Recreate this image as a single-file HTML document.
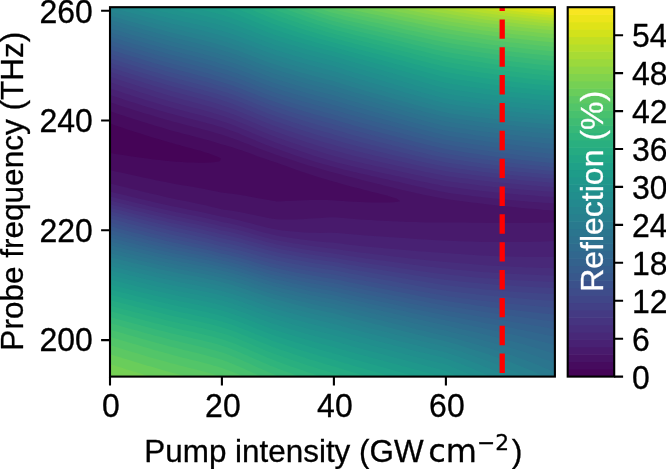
<!DOCTYPE html>
<html lang="en"><head><meta charset="utf-8"><title>Reflection map</title>
<style>html,body{margin:0;padding:0;background:#fff;overflow:hidden}svg{display:block}</style></head>
<body>
<svg width="666" height="469" viewBox="0 0 666 469">
<rect width="666" height="469" fill="#fff"/>
<defs><clipPath id="ac"><rect x="110.0" y="7.2" width="444.9" height="369.4"/></clipPath></defs>
<g clip-path="url(#ac)">
<rect x="110.0" y="7.2" width="444.9" height="369.4" fill="#450457"/>
<path fill="#460b5e" d="M115.5,376.5L121.1,376.5L126.6,376.5L132.2,376.5L137.8,376.5L143.3,376.5L148.9,376.5L154.4,376.5L160.0,376.5L165.6,376.5L171.1,376.5L176.7,376.5L182.2,376.5L187.8,376.5L193.4,376.5L198.9,376.5L204.5,376.5L210.1,376.5L215.6,376.5L221.2,376.5L226.7,376.5L232.3,376.5L237.9,376.5L243.4,376.5L249.0,376.5L254.5,376.5L260.1,376.5L265.7,376.5L271.2,376.5L276.8,376.5L282.3,376.5L287.9,376.5L293.5,376.5L299.0,376.5L304.6,376.5L310.2,376.5L315.7,376.5L321.3,376.5L326.8,376.5L332.4,376.5L338.0,376.5L343.5,376.5L349.1,376.5L354.6,376.5L360.2,376.5L365.8,376.5L371.3,376.5L376.9,376.5L382.5,376.5L388.0,376.5L393.6,376.5L399.1,376.5L404.7,376.5L410.3,376.5L415.8,376.5L421.4,376.5L426.9,376.5L432.5,376.5L438.1,376.5L443.6,376.5L449.2,376.5L454.7,376.5L460.3,376.5L465.9,376.5L471.4,376.5L477.0,376.5L482.6,376.5L488.1,376.5L493.7,376.5L499.2,376.5L504.8,376.5L510.4,376.5L515.9,376.5L521.5,376.5L527.0,376.5L532.6,376.5L538.2,376.5L543.7,376.5L549.3,376.5L554.9,376.5L554.9,373.8L554.9,371.2L554.9,368.5L554.9,365.9L554.9,363.2L554.9,360.6L554.9,357.9L554.9,355.2L554.9,352.6L554.9,349.9L554.9,347.3L554.9,344.6L554.9,342.0L554.9,339.3L554.9,336.6L554.9,334.0L554.9,331.3L554.9,328.7L554.9,326.0L554.9,323.4L554.9,320.7L554.9,318.0L554.9,315.4L554.9,312.7L554.9,310.1L554.9,307.4L554.9,304.8L554.9,302.1L554.9,299.4L554.9,296.8L554.9,294.1L554.9,291.5L554.9,288.8L554.9,286.2L554.9,283.5L554.9,280.8L554.9,278.2L554.9,275.5L554.9,272.9L554.9,270.2L554.9,267.6L554.9,264.9L554.9,262.2L554.9,259.6L554.9,256.9L554.9,254.3L554.9,251.6L554.9,249.0L554.9,246.3L554.9,243.6L554.9,241.0L554.9,238.3L554.9,235.7L554.9,233.0L554.9,230.4L554.9,227.7L554.9,225.0L554.9,222.4L554.9,219.7L554.9,217.1L554.9,214.4L554.9,211.8L554.9,209.1L554.9,206.4L554.9,203.8L554.9,201.1L554.9,198.5L554.9,195.8L554.9,193.2L554.9,190.5L554.9,187.8L554.9,185.2L554.9,182.5L554.9,179.9L554.9,177.2L554.9,174.6L554.9,171.9L554.9,169.2L554.9,166.6L554.9,163.9L554.9,161.3L554.9,158.6L554.9,156.0L554.9,153.3L554.9,150.6L554.9,148.0L554.9,145.3L554.9,142.7L554.9,140.0L554.9,137.4L554.9,134.7L554.9,132.0L554.9,129.4L554.9,126.7L554.9,124.1L554.9,121.4L554.9,118.8L554.9,116.1L554.9,113.4L554.9,110.8L554.9,108.1L554.9,105.5L554.9,102.8L554.9,100.2L554.9,97.5L554.9,94.8L554.9,92.2L554.9,89.5L554.9,86.9L554.9,84.2L554.9,81.6L554.9,78.9L554.9,76.2L554.9,73.6L554.9,70.9L554.9,68.3L554.9,65.6L554.9,63.0L554.9,60.3L554.9,57.6L554.9,55.0L554.9,52.3L554.9,49.7L554.9,47.0L554.9,44.4L554.9,41.7L554.9,39.0L554.9,36.4L554.9,33.7L554.9,31.1L554.9,28.4L554.9,25.8L554.9,23.1L554.9,20.4L554.9,17.8L554.9,15.1L554.9,12.5L554.9,9.8L554.9,7.2L549.3,7.2L543.7,7.2L538.2,7.2L532.6,7.2L527.0,7.2L521.5,7.2L515.9,7.2L510.4,7.2L504.8,7.2L499.2,7.2L493.7,7.2L488.1,7.2L482.6,7.2L477.0,7.2L471.4,7.2L465.9,7.2L460.3,7.2L454.7,7.2L449.2,7.2L443.6,7.2L438.1,7.2L432.5,7.2L426.9,7.2L421.4,7.2L415.8,7.2L410.3,7.2L404.7,7.2L399.1,7.2L393.6,7.2L388.0,7.2L382.5,7.2L376.9,7.2L371.3,7.2L365.8,7.2L360.2,7.2L354.6,7.2L349.1,7.2L343.5,7.2L338.0,7.2L332.4,7.2L326.8,7.2L321.3,7.2L315.7,7.2L310.2,7.2L304.6,7.2L299.0,7.2L293.5,7.2L287.9,7.2L282.3,7.2L276.8,7.2L271.2,7.2L265.7,7.2L260.1,7.2L254.5,7.2L249.0,7.2L243.4,7.2L237.9,7.2L232.3,7.2L226.7,7.2L221.2,7.2L215.6,7.2L210.1,7.2L204.5,7.2L198.9,7.2L193.4,7.2L187.8,7.2L182.2,7.2L176.7,7.2L171.1,7.2L165.6,7.2L160.0,7.2L154.4,7.2L148.9,7.2L143.3,7.2L137.8,7.2L132.2,7.2L126.6,7.2L121.1,7.2L115.5,7.2L110.0,7.2L110.0,9.8L110.0,12.5L110.0,15.1L110.0,17.8L110.0,20.4L110.0,23.1L110.0,25.8L110.0,28.4L110.0,31.1L110.0,33.7L110.0,36.4L110.0,39.0L110.0,41.7L110.0,44.4L110.0,47.0L110.0,49.7L110.0,52.3L110.0,55.0L110.0,57.6L110.0,60.3L110.0,63.0L110.0,65.6L110.0,68.3L110.0,70.9L110.0,73.6L110.0,76.2L110.0,78.9L110.0,81.6L110.0,84.2L110.0,86.9L110.0,89.5L110.0,92.2L110.0,94.8L110.0,97.5L110.0,100.2L110.0,102.8L110.0,105.5L110.0,108.1L110.0,110.8L110.0,113.4L110.0,116.1L110.0,118.8L110.0,121.4L110.0,123.5L111.6,124.1L115.5,125.4L119.3,126.7L121.1,127.3L126.6,129.2L127.1,129.4L132.2,131.0L135.3,132.0L137.8,132.8L143.3,134.6L143.7,134.7L148.9,136.3L152.4,137.4L154.4,138.0L160.0,139.6L161.4,140.0L165.6,141.3L170.6,142.7L171.1,142.8L176.7,144.4L180.3,145.3L182.2,145.9L187.8,147.4L190.2,148.0L193.4,148.9L198.9,150.4L199.8,150.6L204.5,152.2L208.5,153.3L210.1,154.0L215.6,155.9L215.9,156.0L221.1,158.6L219.8,161.3L215.6,162.1L210.1,162.5L204.5,162.7L198.9,162.7L193.4,162.5L187.8,162.4L182.2,162.1L176.7,161.7L171.1,161.3L171.0,161.3L165.6,160.7L160.0,160.1L154.4,159.5L148.9,158.7L148.0,158.6L143.3,158.0L137.8,157.3L132.2,156.4L129.0,156.0L126.6,155.6L121.1,154.8L115.5,153.9L112.1,153.3L110.0,153.0L110.0,153.3L110.0,156.0L110.0,158.6L110.0,161.3L110.0,163.9L110.0,166.6L110.0,169.2L110.0,171.9L110.0,174.6L110.0,177.2L110.0,179.9L110.0,182.5L110.0,185.2L110.0,187.8L110.0,190.5L110.0,193.2L110.0,195.8L110.0,198.5L110.0,201.1L110.0,203.8L110.0,206.4L110.0,209.1L110.0,211.8L110.0,214.4L110.0,217.1L110.0,219.7L110.0,222.4L110.0,225.0L110.0,227.7L110.0,230.4L110.0,233.0L110.0,235.7L110.0,238.3L110.0,241.0L110.0,243.6L110.0,246.3L110.0,249.0L110.0,251.6L110.0,254.3L110.0,256.9L110.0,259.6L110.0,262.2L110.0,264.9L110.0,267.6L110.0,270.2L110.0,272.9L110.0,275.5L110.0,278.2L110.0,280.8L110.0,283.5L110.0,286.2L110.0,288.8L110.0,291.5L110.0,294.1L110.0,296.8L110.0,299.4L110.0,302.1L110.0,304.8L110.0,307.4L110.0,310.1L110.0,312.7L110.0,315.4L110.0,318.0L110.0,320.7L110.0,323.4L110.0,326.0L110.0,328.7L110.0,331.3L110.0,334.0L110.0,336.6L110.0,339.3L110.0,342.0L110.0,344.6L110.0,347.3L110.0,349.9L110.0,352.6L110.0,355.2L110.0,357.9L110.0,360.6L110.0,363.2L110.0,365.9L110.0,368.5L110.0,371.2L110.0,373.8L110.0,376.5L115.5,376.5Z"/>
<path fill="#471365" d="M115.5,376.5L121.1,376.5L126.6,376.5L132.2,376.5L137.8,376.5L143.3,376.5L148.9,376.5L154.4,376.5L160.0,376.5L165.6,376.5L171.1,376.5L176.7,376.5L182.2,376.5L187.8,376.5L193.4,376.5L198.9,376.5L204.5,376.5L210.1,376.5L215.6,376.5L221.2,376.5L226.7,376.5L232.3,376.5L237.9,376.5L243.4,376.5L249.0,376.5L254.5,376.5L260.1,376.5L265.7,376.5L271.2,376.5L276.8,376.5L282.3,376.5L287.9,376.5L293.5,376.5L299.0,376.5L304.6,376.5L310.2,376.5L315.7,376.5L321.3,376.5L326.8,376.5L332.4,376.5L338.0,376.5L343.5,376.5L349.1,376.5L354.6,376.5L360.2,376.5L365.8,376.5L371.3,376.5L376.9,376.5L382.5,376.5L388.0,376.5L393.6,376.5L399.1,376.5L404.7,376.5L410.3,376.5L415.8,376.5L421.4,376.5L426.9,376.5L432.5,376.5L438.1,376.5L443.6,376.5L449.2,376.5L454.7,376.5L460.3,376.5L465.9,376.5L471.4,376.5L477.0,376.5L482.6,376.5L488.1,376.5L493.7,376.5L499.2,376.5L504.8,376.5L510.4,376.5L515.9,376.5L521.5,376.5L527.0,376.5L532.6,376.5L538.2,376.5L543.7,376.5L549.3,376.5L554.9,376.5L554.9,373.8L554.9,371.2L554.9,368.5L554.9,365.9L554.9,363.2L554.9,360.6L554.9,357.9L554.9,355.2L554.9,352.6L554.9,349.9L554.9,347.3L554.9,344.6L554.9,342.0L554.9,339.3L554.9,336.6L554.9,334.0L554.9,331.3L554.9,328.7L554.9,326.0L554.9,323.4L554.9,320.7L554.9,318.0L554.9,315.4L554.9,312.7L554.9,310.1L554.9,307.4L554.9,304.8L554.9,302.1L554.9,299.4L554.9,296.8L554.9,294.1L554.9,291.5L554.9,288.8L554.9,286.2L554.9,283.5L554.9,280.8L554.9,278.2L554.9,275.5L554.9,272.9L554.9,270.2L554.9,267.6L554.9,264.9L554.9,262.2L554.9,259.6L554.9,256.9L554.9,254.3L554.9,251.6L554.9,249.0L554.9,246.3L554.9,243.6L554.9,241.0L554.9,238.3L554.9,235.7L554.9,233.0L554.9,230.4L554.9,227.7L554.9,225.0L554.9,222.4L554.9,219.7L554.9,217.1L554.9,214.4L554.9,211.8L554.9,209.1L554.9,206.4L554.9,203.8L554.9,201.1L554.9,198.5L554.9,195.8L554.9,193.2L554.9,190.5L554.9,187.8L554.9,185.2L554.9,182.5L554.9,179.9L554.9,177.2L554.9,174.6L554.9,171.9L554.9,169.2L554.9,166.6L554.9,163.9L554.9,161.3L554.9,158.6L554.9,156.0L554.9,153.3L554.9,150.6L554.9,148.0L554.9,145.3L554.9,142.7L554.9,140.0L554.9,137.4L554.9,134.7L554.9,132.0L554.9,129.4L554.9,126.7L554.9,124.1L554.9,121.4L554.9,118.8L554.9,116.1L554.9,113.4L554.9,110.8L554.9,108.1L554.9,105.5L554.9,102.8L554.9,100.2L554.9,97.5L554.9,94.8L554.9,92.2L554.9,89.5L554.9,86.9L554.9,84.2L554.9,81.6L554.9,78.9L554.9,76.2L554.9,73.6L554.9,70.9L554.9,68.3L554.9,65.6L554.9,63.0L554.9,60.3L554.9,57.6L554.9,55.0L554.9,52.3L554.9,49.7L554.9,47.0L554.9,44.4L554.9,41.7L554.9,39.0L554.9,36.4L554.9,33.7L554.9,31.1L554.9,28.4L554.9,25.8L554.9,23.1L554.9,20.4L554.9,17.8L554.9,15.1L554.9,12.5L554.9,9.8L554.9,7.2L549.3,7.2L543.7,7.2L538.2,7.2L532.6,7.2L527.0,7.2L521.5,7.2L515.9,7.2L510.4,7.2L504.8,7.2L499.2,7.2L493.7,7.2L488.1,7.2L482.6,7.2L477.0,7.2L471.4,7.2L465.9,7.2L460.3,7.2L454.7,7.2L449.2,7.2L443.6,7.2L438.1,7.2L432.5,7.2L426.9,7.2L421.4,7.2L415.8,7.2L410.3,7.2L404.7,7.2L399.1,7.2L393.6,7.2L388.0,7.2L382.5,7.2L376.9,7.2L371.3,7.2L365.8,7.2L360.2,7.2L354.6,7.2L349.1,7.2L343.5,7.2L338.0,7.2L332.4,7.2L326.8,7.2L321.3,7.2L315.7,7.2L310.2,7.2L304.6,7.2L299.0,7.2L293.5,7.2L287.9,7.2L282.3,7.2L276.8,7.2L271.2,7.2L265.7,7.2L260.1,7.2L254.5,7.2L249.0,7.2L243.4,7.2L237.9,7.2L232.3,7.2L226.7,7.2L221.2,7.2L215.6,7.2L210.1,7.2L204.5,7.2L198.9,7.2L193.4,7.2L187.8,7.2L182.2,7.2L176.7,7.2L171.1,7.2L165.6,7.2L160.0,7.2L154.4,7.2L148.9,7.2L143.3,7.2L137.8,7.2L132.2,7.2L126.6,7.2L121.1,7.2L115.5,7.2L110.0,7.2L110.0,9.8L110.0,12.5L110.0,15.1L110.0,17.8L110.0,20.4L110.0,23.1L110.0,25.8L110.0,28.4L110.0,31.1L110.0,33.7L110.0,36.4L110.0,39.0L110.0,41.7L110.0,44.4L110.0,47.0L110.0,49.7L110.0,52.3L110.0,55.0L110.0,57.6L110.0,60.3L110.0,63.0L110.0,65.6L110.0,68.3L110.0,70.9L110.0,73.6L110.0,76.2L110.0,78.9L110.0,81.6L110.0,84.2L110.0,86.9L110.0,89.5L110.0,92.2L110.0,94.8L110.0,97.5L110.0,100.2L110.0,102.8L110.0,105.5L110.0,108.1L110.0,110.8L110.0,111.2L115.5,113.1L116.6,113.4L121.1,114.9L124.7,116.1L126.6,116.7L132.2,118.5L133.0,118.8L137.8,120.3L141.4,121.4L143.3,122.0L148.9,123.7L150.0,124.1L154.4,125.4L158.8,126.7L160.0,127.1L165.6,128.8L167.8,129.4L171.1,130.4L176.7,131.9L177.4,132.0L182.2,133.4L187.5,134.7L187.8,134.8L193.4,136.3L197.6,137.4L198.9,137.7L204.5,139.2L207.4,140.0L210.1,140.8L215.6,142.4L216.5,142.7L221.2,144.2L225.5,145.3L226.7,145.7L232.3,147.3L234.3,148.0L237.9,149.2L242.2,150.6L243.4,151.1L249.0,153.1L249.6,153.3L254.5,155.1L256.8,156.0L260.1,157.2L264.4,158.6L265.7,159.1L271.2,161.0L272.3,161.3L276.8,162.7L280.3,163.9L282.3,164.7L287.5,166.6L287.9,166.7L293.5,168.8L294.8,169.2L299.0,170.7L302.5,171.9L304.6,172.6L310.2,174.5L310.5,174.6L315.7,176.2L318.9,177.2L321.3,178.0L326.8,179.6L327.9,179.9L332.4,181.2L337.3,182.5L338.0,182.7L343.5,184.4L346.6,185.2L349.1,185.9L354.6,187.4L356.6,187.8L360.2,188.8L365.8,190.2L367.1,190.5L371.3,191.7L376.9,193.0L377.7,193.2L382.5,194.6L387.9,195.8L388.0,195.9L393.6,197.7L396.6,198.5L399.1,200.6L400.4,201.1L399.1,201.5L393.6,202.2L388.0,202.5L382.5,202.6L376.9,202.6L371.3,202.5L365.8,202.3L360.2,202.1L354.6,201.8L349.1,201.5L343.5,201.1L343.5,201.1L338.0,200.7L332.4,200.3L326.8,200.1L321.3,199.9L315.7,199.9L310.2,200.0L304.6,200.2L299.0,200.4L293.5,200.7L287.9,201.0L285.6,201.1L282.3,201.3L276.8,201.4L274.7,201.1L271.2,200.6L265.7,199.6L260.1,198.6L259.5,198.5L254.5,197.5L249.0,196.4L245.7,195.8L243.4,195.4L237.9,194.5L232.3,193.7L226.9,193.2L226.7,193.1L221.2,192.6L215.6,191.3L211.6,190.5L210.1,190.2L204.5,189.1L198.9,188.1L197.6,187.8L193.4,187.1L187.8,186.1L182.3,185.2L182.2,185.2L176.7,184.2L171.1,183.2L167.9,182.5L165.6,182.1L160.0,180.9L154.8,179.9L154.4,179.8L148.9,178.6L143.3,177.5L142.2,177.2L137.8,176.3L132.2,175.1L129.9,174.6L126.6,173.8L121.1,172.6L117.9,171.9L115.5,171.4L110.0,170.1L110.0,171.9L110.0,174.6L110.0,177.2L110.0,179.9L110.0,182.5L110.0,185.2L110.0,187.8L110.0,190.5L110.0,193.2L110.0,195.8L110.0,198.5L110.0,201.1L110.0,203.8L110.0,206.4L110.0,209.1L110.0,211.8L110.0,214.4L110.0,217.1L110.0,219.7L110.0,222.4L110.0,225.0L110.0,227.7L110.0,230.4L110.0,233.0L110.0,235.7L110.0,238.3L110.0,241.0L110.0,243.6L110.0,246.3L110.0,249.0L110.0,251.6L110.0,254.3L110.0,256.9L110.0,259.6L110.0,262.2L110.0,264.9L110.0,267.6L110.0,270.2L110.0,272.9L110.0,275.5L110.0,278.2L110.0,280.8L110.0,283.5L110.0,286.2L110.0,288.8L110.0,291.5L110.0,294.1L110.0,296.8L110.0,299.4L110.0,302.1L110.0,304.8L110.0,307.4L110.0,310.1L110.0,312.7L110.0,315.4L110.0,318.0L110.0,320.7L110.0,323.4L110.0,326.0L110.0,328.7L110.0,331.3L110.0,334.0L110.0,336.6L110.0,339.3L110.0,342.0L110.0,344.6L110.0,347.3L110.0,349.9L110.0,352.6L110.0,355.2L110.0,357.9L110.0,360.6L110.0,363.2L110.0,365.9L110.0,368.5L110.0,371.2L110.0,373.8L110.0,376.5L115.5,376.5Z"/>
<path fill="#481a6c" d="M115.5,376.5L121.1,376.5L126.6,376.5L132.2,376.5L137.8,376.5L143.3,376.5L148.9,376.5L154.4,376.5L160.0,376.5L165.6,376.5L171.1,376.5L176.7,376.5L182.2,376.5L187.8,376.5L193.4,376.5L198.9,376.5L204.5,376.5L210.1,376.5L215.6,376.5L221.2,376.5L226.7,376.5L232.3,376.5L237.9,376.5L243.4,376.5L249.0,376.5L254.5,376.5L260.1,376.5L265.7,376.5L271.2,376.5L276.8,376.5L282.3,376.5L287.9,376.5L293.5,376.5L299.0,376.5L304.6,376.5L310.2,376.5L315.7,376.5L321.3,376.5L326.8,376.5L332.4,376.5L338.0,376.5L343.5,376.5L349.1,376.5L354.6,376.5L360.2,376.5L365.8,376.5L371.3,376.5L376.9,376.5L382.5,376.5L388.0,376.5L393.6,376.5L399.1,376.5L404.7,376.5L410.3,376.5L415.8,376.5L421.4,376.5L426.9,376.5L432.5,376.5L438.1,376.5L443.6,376.5L449.2,376.5L454.7,376.5L460.3,376.5L465.9,376.5L471.4,376.5L477.0,376.5L482.6,376.5L488.1,376.5L493.7,376.5L499.2,376.5L504.8,376.5L510.4,376.5L515.9,376.5L521.5,376.5L527.0,376.5L532.6,376.5L538.2,376.5L543.7,376.5L549.3,376.5L554.9,376.5L554.9,373.8L554.9,371.2L554.9,368.5L554.9,365.9L554.9,363.2L554.9,360.6L554.9,357.9L554.9,355.2L554.9,352.6L554.9,349.9L554.9,347.3L554.9,344.6L554.9,342.0L554.9,339.3L554.9,336.6L554.9,334.0L554.9,331.3L554.9,328.7L554.9,326.0L554.9,323.4L554.9,320.7L554.9,318.0L554.9,315.4L554.9,312.7L554.9,310.1L554.9,307.4L554.9,304.8L554.9,302.1L554.9,299.4L554.9,296.8L554.9,294.1L554.9,291.5L554.9,288.8L554.9,286.2L554.9,283.5L554.9,280.8L554.9,278.2L554.9,275.5L554.9,272.9L554.9,270.2L554.9,267.6L554.9,264.9L554.9,262.2L554.9,259.6L554.9,256.9L554.9,254.3L554.9,251.6L554.9,249.0L554.9,246.3L554.9,243.6L554.9,241.0L554.9,238.3L554.9,235.7L554.9,233.0L554.9,230.4L554.9,227.7L554.9,225.0L554.9,222.5L549.3,222.6L543.7,222.7L538.2,222.8L532.6,222.8L527.0,222.9L521.5,222.9L515.9,222.9L510.4,222.9L504.8,223.0L499.2,223.0L493.7,222.9L488.1,222.9L482.6,222.8L477.0,222.8L471.4,222.7L465.9,222.6L460.3,222.6L454.7,222.5L449.2,222.4L443.6,222.4L438.1,222.4L432.5,222.4L428.1,222.4L426.9,222.4L421.4,222.3L415.8,222.1L410.3,221.9L404.7,221.7L399.1,221.5L393.6,221.2L388.0,220.9L382.5,220.7L376.9,220.4L371.3,220.1L365.8,219.7L365.4,219.7L360.2,219.4L354.6,219.0L349.1,218.5L343.5,218.0L338.0,217.5L332.4,217.2L326.8,217.5L321.3,217.9L315.7,218.3L310.2,218.6L304.6,219.0L299.0,219.2L293.5,219.4L287.9,219.5L282.3,219.5L276.8,219.3L271.2,218.4L265.7,217.4L264.1,217.1L260.1,216.2L254.5,215.1L251.3,214.4L249.0,213.9L243.4,212.8L238.0,211.8L237.9,211.7L232.3,210.7L226.7,209.9L221.2,209.2L220.7,209.1L215.6,207.7L210.1,206.4L210.1,206.4L204.5,205.1L198.9,203.9L198.1,203.8L193.4,202.8L187.8,201.6L185.2,201.1L182.2,200.5L176.7,199.4L172.4,198.5L171.1,198.2L165.6,196.9L160.7,195.8L160.0,195.6L154.4,194.3L149.4,193.2L148.9,193.0L143.3,191.7L138.4,190.5L137.8,190.3L132.2,189.0L127.5,187.8L126.6,187.6L121.1,186.2L116.9,185.2L115.5,184.8L110.0,183.4L110.0,185.2L110.0,187.8L110.0,190.5L110.0,193.2L110.0,195.8L110.0,198.5L110.0,201.1L110.0,203.8L110.0,206.4L110.0,209.1L110.0,211.8L110.0,214.4L110.0,217.1L110.0,219.7L110.0,222.4L110.0,225.0L110.0,227.7L110.0,230.4L110.0,233.0L110.0,235.7L110.0,238.3L110.0,241.0L110.0,243.6L110.0,246.3L110.0,249.0L110.0,251.6L110.0,254.3L110.0,256.9L110.0,259.6L110.0,262.2L110.0,264.9L110.0,267.6L110.0,270.2L110.0,272.9L110.0,275.5L110.0,278.2L110.0,280.8L110.0,283.5L110.0,286.2L110.0,288.8L110.0,291.5L110.0,294.1L110.0,296.8L110.0,299.4L110.0,302.1L110.0,304.8L110.0,307.4L110.0,310.1L110.0,312.7L110.0,315.4L110.0,318.0L110.0,320.7L110.0,323.4L110.0,326.0L110.0,328.7L110.0,331.3L110.0,334.0L110.0,336.6L110.0,339.3L110.0,342.0L110.0,344.6L110.0,347.3L110.0,349.9L110.0,352.6L110.0,355.2L110.0,357.9L110.0,360.6L110.0,363.2L110.0,365.9L110.0,368.5L110.0,371.2L110.0,373.8L110.0,376.5L115.5,376.5ZM538.2,209.3L543.7,209.9L549.3,210.3L554.9,210.8L554.9,209.1L554.9,206.4L554.9,203.8L554.9,201.1L554.9,198.5L554.9,195.8L554.9,193.2L554.9,190.5L554.9,187.8L554.9,185.2L554.9,182.5L554.9,179.9L554.9,177.2L554.9,174.6L554.9,171.9L554.9,169.2L554.9,166.6L554.9,163.9L554.9,161.3L554.9,158.6L554.9,156.0L554.9,153.3L554.9,150.6L554.9,148.0L554.9,145.3L554.9,142.7L554.9,140.0L554.9,137.4L554.9,134.7L554.9,132.0L554.9,129.4L554.9,126.7L554.9,124.1L554.9,121.4L554.9,118.8L554.9,116.1L554.9,113.4L554.9,110.8L554.9,108.1L554.9,105.5L554.9,102.8L554.9,100.2L554.9,97.5L554.9,94.8L554.9,92.2L554.9,89.5L554.9,86.9L554.9,84.2L554.9,81.6L554.9,78.9L554.9,76.2L554.9,73.6L554.9,70.9L554.9,68.3L554.9,65.6L554.9,63.0L554.9,60.3L554.9,57.6L554.9,55.0L554.9,52.3L554.9,49.7L554.9,47.0L554.9,44.4L554.9,41.7L554.9,39.0L554.9,36.4L554.9,33.7L554.9,31.1L554.9,28.4L554.9,25.8L554.9,23.1L554.9,20.4L554.9,17.8L554.9,15.1L554.9,12.5L554.9,9.8L554.9,7.2L549.3,7.2L543.7,7.2L538.2,7.2L532.6,7.2L527.0,7.2L521.5,7.2L515.9,7.2L510.4,7.2L504.8,7.2L499.2,7.2L493.7,7.2L488.1,7.2L482.6,7.2L477.0,7.2L471.4,7.2L465.9,7.2L460.3,7.2L454.7,7.2L449.2,7.2L443.6,7.2L438.1,7.2L432.5,7.2L426.9,7.2L421.4,7.2L415.8,7.2L410.3,7.2L404.7,7.2L399.1,7.2L393.6,7.2L388.0,7.2L382.5,7.2L376.9,7.2L371.3,7.2L365.8,7.2L360.2,7.2L354.6,7.2L349.1,7.2L343.5,7.2L338.0,7.2L332.4,7.2L326.8,7.2L321.3,7.2L315.7,7.2L310.2,7.2L304.6,7.2L299.0,7.2L293.5,7.2L287.9,7.2L282.3,7.2L276.8,7.2L271.2,7.2L265.7,7.2L260.1,7.2L254.5,7.2L249.0,7.2L243.4,7.2L237.9,7.2L232.3,7.2L226.7,7.2L221.2,7.2L215.6,7.2L210.1,7.2L204.5,7.2L198.9,7.2L193.4,7.2L187.8,7.2L182.2,7.2L176.7,7.2L171.1,7.2L165.6,7.2L160.0,7.2L154.4,7.2L148.9,7.2L143.3,7.2L137.8,7.2L132.2,7.2L126.6,7.2L121.1,7.2L115.5,7.2L110.0,7.2L110.0,9.8L110.0,12.5L110.0,15.1L110.0,17.8L110.0,20.4L110.0,23.1L110.0,25.8L110.0,28.4L110.0,31.1L110.0,33.7L110.0,36.4L110.0,39.0L110.0,41.7L110.0,44.4L110.0,47.0L110.0,49.7L110.0,52.3L110.0,55.0L110.0,57.6L110.0,60.3L110.0,63.0L110.0,65.6L110.0,68.3L110.0,70.9L110.0,73.6L110.0,76.2L110.0,78.9L110.0,81.6L110.0,84.2L110.0,86.9L110.0,89.5L110.0,92.2L110.0,94.8L110.0,97.5L110.0,100.2L110.0,102.3L111.5,102.8L115.5,104.1L119.6,105.5L121.1,105.9L126.6,107.7L127.9,108.1L132.2,109.5L136.3,110.8L137.8,111.2L143.3,112.9L145.0,113.4L148.9,114.6L153.8,116.1L154.4,116.3L160.0,117.9L162.9,118.8L165.6,119.6L171.1,121.1L172.3,121.4L176.7,122.6L182.2,124.0L182.4,124.1L187.8,125.5L192.8,126.7L193.4,126.9L198.9,128.3L203.0,129.4L204.5,129.8L210.1,131.3L212.7,132.0L215.6,132.9L221.2,134.5L221.7,134.7L226.7,136.3L229.8,137.4L232.3,138.2L237.2,140.0L237.9,140.3L243.4,142.4L244.1,142.7L249.0,144.6L250.7,145.3L254.5,146.8L257.4,148.0L260.1,149.0L264.4,150.6L265.7,151.1L271.2,153.1L271.8,153.3L276.8,155.0L279.7,156.0L282.3,156.9L287.5,158.6L287.9,158.7L293.5,160.6L295.5,161.3L299.0,162.4L303.8,163.9L304.6,164.2L310.2,165.9L312.5,166.6L315.7,167.6L321.3,169.2L321.6,169.2L326.8,170.7L331.3,171.9L332.4,172.2L338.0,173.7L341.3,174.6L343.5,175.2L349.1,176.7L351.4,177.2L354.6,178.1L360.2,179.5L361.7,179.9L365.8,181.0L371.3,182.3L372.1,182.5L376.9,183.8L382.5,185.1L382.6,185.2L388.0,186.5L393.5,187.8L393.6,187.8L399.1,189.2L404.7,190.5L404.8,190.5L410.3,191.7L415.8,193.0L416.6,193.2L421.4,194.2L426.9,195.4L429.2,195.8L432.5,196.5L438.1,197.6L442.9,198.5L443.6,198.6L449.2,199.5L454.7,200.3L460.3,201.0L461.5,201.1L465.9,201.7L471.4,202.5L477.0,203.1L482.6,203.8L482.8,203.8L488.1,204.5L493.7,205.1L499.2,205.7L504.8,206.2L507.6,206.4L510.4,206.8L515.9,207.3L521.5,207.9L527.0,208.4L532.6,208.8L536.1,209.1L538.2,209.3Z"/>
<path fill="#482173" d="M115.5,376.5L121.1,376.5L126.6,376.5L132.2,376.5L137.8,376.5L143.3,376.5L148.9,376.5L154.4,376.5L160.0,376.5L165.6,376.5L171.1,376.5L176.7,376.5L182.2,376.5L187.8,376.5L193.4,376.5L198.9,376.5L204.5,376.5L210.1,376.5L215.6,376.5L221.2,376.5L226.7,376.5L232.3,376.5L237.9,376.5L243.4,376.5L249.0,376.5L254.5,376.5L260.1,376.5L265.7,376.5L271.2,376.5L276.8,376.5L282.3,376.5L287.9,376.5L293.5,376.5L299.0,376.5L304.6,376.5L310.2,376.5L315.7,376.5L321.3,376.5L326.8,376.5L332.4,376.5L338.0,376.5L343.5,376.5L349.1,376.5L354.6,376.5L360.2,376.5L365.8,376.5L371.3,376.5L376.9,376.5L382.5,376.5L388.0,376.5L393.6,376.5L399.1,376.5L404.7,376.5L410.3,376.5L415.8,376.5L421.4,376.5L426.9,376.5L432.5,376.5L438.1,376.5L443.6,376.5L449.2,376.5L454.7,376.5L460.3,376.5L465.9,376.5L471.4,376.5L477.0,376.5L482.6,376.5L488.1,376.5L493.7,376.5L499.2,376.5L504.8,376.5L510.4,376.5L515.9,376.5L521.5,376.5L527.0,376.5L532.6,376.5L538.2,376.5L543.7,376.5L549.3,376.5L554.9,376.5L554.9,373.8L554.9,371.2L554.9,368.5L554.9,365.9L554.9,363.2L554.9,360.6L554.9,357.9L554.9,355.2L554.9,352.6L554.9,349.9L554.9,347.3L554.9,344.6L554.9,342.0L554.9,339.3L554.9,336.6L554.9,334.0L554.9,331.3L554.9,328.7L554.9,326.0L554.9,323.4L554.9,320.7L554.9,318.0L554.9,315.4L554.9,312.7L554.9,310.1L554.9,307.4L554.9,304.8L554.9,302.1L554.9,299.4L554.9,296.8L554.9,294.1L554.9,291.5L554.9,288.8L554.9,286.2L554.9,283.5L554.9,280.8L554.9,278.2L554.9,275.5L554.9,272.9L554.9,270.2L554.9,267.6L554.9,264.9L554.9,262.2L554.9,259.6L554.9,256.9L554.9,254.3L554.9,251.6L554.9,249.0L554.9,246.3L554.9,243.6L554.9,241.1L549.3,241.3L543.7,241.5L538.2,241.7L532.6,241.8L527.0,241.9L521.5,242.0L515.9,242.1L510.4,242.1L504.8,242.1L499.2,242.1L493.7,242.1L488.1,242.0L482.6,241.9L477.0,241.8L471.4,241.6L465.9,241.4L460.3,241.2L455.6,241.0L454.7,240.9L449.2,240.7L443.6,240.4L438.1,240.2L432.5,239.9L426.9,239.5L421.4,239.2L415.8,238.9L410.3,238.5L407.8,238.3L404.7,238.1L399.1,237.7L393.6,237.3L388.0,236.9L382.5,236.5L376.9,236.2L371.3,235.8L369.3,235.7L365.8,235.4L360.2,235.0L354.6,234.6L349.1,234.1L343.5,233.6L338.0,233.0L337.4,233.0L332.4,232.7L326.8,232.8L321.3,232.9L315.7,232.8L310.2,232.7L304.6,232.4L299.0,232.1L293.5,231.6L287.9,231.0L282.3,230.4L281.8,230.4L276.8,229.6L271.2,228.5L267.8,227.7L265.7,227.2L260.1,225.8L257.2,225.0L254.5,224.3L249.0,222.8L247.2,222.4L243.4,221.4L237.9,220.0L236.5,219.7L232.3,218.7L226.7,217.6L223.5,217.1L221.2,216.6L215.6,215.2L212.0,214.4L210.1,213.9L204.5,212.7L199.7,211.8L198.9,211.6L193.4,210.4L187.8,209.4L186.4,209.1L182.2,208.2L176.7,207.1L173.2,206.4L171.1,206.0L165.6,204.8L161.1,203.8L160.0,203.5L154.4,202.2L149.6,201.1L148.9,201.0L143.3,199.6L138.3,198.5L137.8,198.3L132.2,196.9L127.3,195.8L126.6,195.6L121.1,194.2L116.6,193.2L115.5,192.9L110.0,191.4L110.0,193.2L110.0,195.8L110.0,198.5L110.0,201.1L110.0,203.8L110.0,206.4L110.0,209.1L110.0,211.8L110.0,214.4L110.0,217.1L110.0,219.7L110.0,222.4L110.0,225.0L110.0,227.7L110.0,230.4L110.0,233.0L110.0,235.7L110.0,238.3L110.0,241.0L110.0,243.6L110.0,246.3L110.0,249.0L110.0,251.6L110.0,254.3L110.0,256.9L110.0,259.6L110.0,262.2L110.0,264.9L110.0,267.6L110.0,270.2L110.0,272.9L110.0,275.5L110.0,278.2L110.0,280.8L110.0,283.5L110.0,286.2L110.0,288.8L110.0,291.5L110.0,294.1L110.0,296.8L110.0,299.4L110.0,302.1L110.0,304.8L110.0,307.4L110.0,310.1L110.0,312.7L110.0,315.4L110.0,318.0L110.0,320.7L110.0,323.4L110.0,326.0L110.0,328.7L110.0,331.3L110.0,334.0L110.0,336.6L110.0,339.3L110.0,342.0L110.0,344.6L110.0,347.3L110.0,349.9L110.0,352.6L110.0,355.2L110.0,357.9L110.0,360.6L110.0,363.2L110.0,365.9L110.0,368.5L110.0,371.2L110.0,373.8L110.0,376.5L115.5,376.5ZM527.0,201.4L532.6,201.9L538.2,202.3L543.7,202.7L549.3,203.1L554.9,203.5L554.9,201.1L554.9,198.5L554.9,195.8L554.9,193.2L554.9,190.5L554.9,187.8L554.9,185.2L554.9,182.5L554.9,179.9L554.9,177.2L554.9,174.6L554.9,171.9L554.9,169.2L554.9,166.6L554.9,163.9L554.9,161.3L554.9,158.6L554.9,156.0L554.9,153.3L554.9,150.6L554.9,148.0L554.9,145.3L554.9,142.7L554.9,140.0L554.9,137.4L554.9,134.7L554.9,132.0L554.9,129.4L554.9,126.7L554.9,124.1L554.9,121.4L554.9,118.8L554.9,116.1L554.9,113.4L554.9,110.8L554.9,108.1L554.9,105.5L554.9,102.8L554.9,100.2L554.9,97.5L554.9,94.8L554.9,92.2L554.9,89.5L554.9,86.9L554.9,84.2L554.9,81.6L554.9,78.9L554.9,76.2L554.9,73.6L554.9,70.9L554.9,68.3L554.9,65.6L554.9,63.0L554.9,60.3L554.9,57.6L554.9,55.0L554.9,52.3L554.9,49.7L554.9,47.0L554.9,44.4L554.9,41.7L554.9,39.0L554.9,36.4L554.9,33.7L554.9,31.1L554.9,28.4L554.9,25.8L554.9,23.1L554.9,20.4L554.9,17.8L554.9,15.1L554.9,12.5L554.9,9.8L554.9,7.2L549.3,7.2L543.7,7.2L538.2,7.2L532.6,7.2L527.0,7.2L521.5,7.2L515.9,7.2L510.4,7.2L504.8,7.2L499.2,7.2L493.7,7.2L488.1,7.2L482.6,7.2L477.0,7.2L471.4,7.2L465.9,7.2L460.3,7.2L454.7,7.2L449.2,7.2L443.6,7.2L438.1,7.2L432.5,7.2L426.9,7.2L421.4,7.2L415.8,7.2L410.3,7.2L404.7,7.2L399.1,7.2L393.6,7.2L388.0,7.2L382.5,7.2L376.9,7.2L371.3,7.2L365.8,7.2L360.2,7.2L354.6,7.2L349.1,7.2L343.5,7.2L338.0,7.2L332.4,7.2L326.8,7.2L321.3,7.2L315.7,7.2L310.2,7.2L304.6,7.2L299.0,7.2L293.5,7.2L287.9,7.2L282.3,7.2L276.8,7.2L271.2,7.2L265.7,7.2L260.1,7.2L254.5,7.2L249.0,7.2L243.4,7.2L237.9,7.2L232.3,7.2L226.7,7.2L221.2,7.2L215.6,7.2L210.1,7.2L204.5,7.2L198.9,7.2L193.4,7.2L187.8,7.2L182.2,7.2L176.7,7.2L171.1,7.2L165.6,7.2L160.0,7.2L154.4,7.2L148.9,7.2L143.3,7.2L137.8,7.2L132.2,7.2L126.6,7.2L121.1,7.2L115.5,7.2L110.0,7.2L110.0,9.8L110.0,12.5L110.0,15.1L110.0,17.8L110.0,20.4L110.0,23.1L110.0,25.8L110.0,28.4L110.0,31.1L110.0,33.7L110.0,36.4L110.0,39.0L110.0,41.7L110.0,44.4L110.0,47.0L110.0,49.7L110.0,52.3L110.0,55.0L110.0,57.6L110.0,60.3L110.0,63.0L110.0,65.6L110.0,68.3L110.0,70.9L110.0,73.6L110.0,76.2L110.0,78.9L110.0,81.6L110.0,84.2L110.0,86.9L110.0,89.5L110.0,92.2L110.0,94.8L110.0,94.9L115.5,96.8L117.7,97.5L121.1,98.6L125.9,100.2L126.6,100.4L132.2,102.2L134.2,102.8L137.8,103.9L142.7,105.5L143.3,105.7L148.9,107.4L151.4,108.1L154.4,109.0L160.0,110.7L160.4,110.8L165.6,112.3L169.7,113.4L171.1,113.8L176.7,115.3L179.6,116.1L182.2,116.8L187.8,118.2L190.1,118.8L193.4,119.6L198.9,121.0L200.6,121.4L204.5,122.4L210.1,123.9L210.7,124.1L215.6,125.5L219.9,126.7L221.2,127.1L226.7,128.9L228.0,129.4L232.3,131.0L235.1,132.0L237.9,133.1L241.7,134.7L243.4,135.4L248.1,137.4L249.0,137.7L254.4,140.0L254.5,140.1L260.1,142.4L260.7,142.7L265.7,144.7L267.3,145.3L271.2,146.8L274.4,148.0L276.8,148.8L281.8,150.6L282.3,150.8L287.9,152.8L289.3,153.3L293.5,154.7L297.0,156.0L299.0,156.6L304.6,158.4L305.1,158.6L310.2,160.2L313.6,161.3L315.7,161.9L321.3,163.6L322.5,163.9L326.8,165.1L332.2,166.6L332.4,166.6L338.0,168.1L342.7,169.2L343.5,169.5L349.1,170.8L353.8,171.9L354.6,172.1L360.2,173.4L365.5,174.6L365.8,174.6L371.3,175.9L376.9,177.1L377.4,177.2L382.5,178.4L388.0,179.6L389.3,179.9L393.6,180.9L399.1,182.1L401.0,182.5L404.7,183.4L410.3,184.7L412.5,185.2L415.8,186.0L421.4,187.2L424.2,187.8L426.9,188.5L432.5,189.7L436.3,190.5L438.1,190.9L443.6,192.1L449.2,193.0L450.5,193.2L454.7,193.7L460.3,194.5L465.9,195.2L471.0,195.8L471.4,195.9L477.0,196.5L482.6,197.2L488.1,197.8L493.7,198.4L494.4,198.5L499.2,198.9L504.8,199.5L510.4,200.0L515.9,200.5L521.5,201.0L523.2,201.1L527.0,201.4Z"/>
<path fill="#482878" d="M115.5,376.5L121.1,376.5L126.6,376.5L132.2,376.5L137.8,376.5L143.3,376.5L148.9,376.5L154.4,376.5L160.0,376.5L165.6,376.5L171.1,376.5L176.7,376.5L182.2,376.5L187.8,376.5L193.4,376.5L198.9,376.5L204.5,376.5L210.1,376.5L215.6,376.5L221.2,376.5L226.7,376.5L232.3,376.5L237.9,376.5L243.4,376.5L249.0,376.5L254.5,376.5L260.1,376.5L265.7,376.5L271.2,376.5L276.8,376.5L282.3,376.5L287.9,376.5L293.5,376.5L299.0,376.5L304.6,376.5L310.2,376.5L315.7,376.5L321.3,376.5L326.8,376.5L332.4,376.5L338.0,376.5L343.5,376.5L349.1,376.5L354.6,376.5L360.2,376.5L365.8,376.5L371.3,376.5L376.9,376.5L382.5,376.5L388.0,376.5L393.6,376.5L399.1,376.5L404.7,376.5L410.3,376.5L415.8,376.5L421.4,376.5L426.9,376.5L432.5,376.5L438.1,376.5L443.6,376.5L449.2,376.5L454.7,376.5L460.3,376.5L465.9,376.5L471.4,376.5L477.0,376.5L482.6,376.5L488.1,376.5L493.7,376.5L499.2,376.5L504.8,376.5L510.4,376.5L515.9,376.5L521.5,376.5L527.0,376.5L532.6,376.5L538.2,376.5L543.7,376.5L549.3,376.5L554.9,376.5L554.9,373.8L554.9,371.2L554.9,368.5L554.9,365.9L554.9,363.2L554.9,360.6L554.9,357.9L554.9,355.2L554.9,352.6L554.9,349.9L554.9,347.3L554.9,344.6L554.9,342.0L554.9,339.3L554.9,336.6L554.9,334.0L554.9,331.3L554.9,328.7L554.9,326.0L554.9,323.4L554.9,320.7L554.9,318.0L554.9,315.4L554.9,312.7L554.9,310.1L554.9,307.4L554.9,304.8L554.9,302.1L554.9,299.4L554.9,296.8L554.9,294.1L554.9,291.5L554.9,288.8L554.9,286.2L554.9,283.5L554.9,280.8L554.9,278.2L554.9,275.5L554.9,272.9L554.9,270.2L554.9,267.6L554.9,264.9L554.9,262.2L554.9,259.6L554.9,257.0L549.3,257.1L543.7,257.1L538.2,257.1L532.6,257.0L527.0,256.9L526.5,256.9L521.5,256.8L515.9,256.7L510.4,256.6L504.8,256.4L499.2,256.2L493.7,256.0L488.1,255.8L482.6,255.5L477.0,255.2L471.4,254.8L465.9,254.5L463.0,254.3L460.3,254.1L454.7,253.7L449.2,253.2L443.6,252.9L438.1,252.5L432.5,252.2L426.9,251.8L424.0,251.6L421.4,251.4L415.8,251.0L410.3,250.5L404.7,250.0L399.1,249.5L393.6,249.1L392.2,249.0L388.0,248.6L382.5,248.0L376.9,247.5L371.3,247.0L365.8,246.5L363.6,246.3L360.2,245.9L354.6,245.3L349.1,244.7L343.5,244.0L340.6,243.6L338.0,243.3L332.4,242.6L326.8,242.2L321.3,241.7L315.7,241.2L313.7,241.0L310.2,240.6L304.6,239.8L299.0,239.1L293.7,238.3L293.5,238.3L287.9,237.4L282.3,236.5L277.7,235.7L276.8,235.5L271.2,234.2L266.2,233.0L265.7,232.9L260.1,231.4L256.4,230.4L254.5,229.8L249.0,228.3L246.8,227.7L243.4,226.8L237.9,225.3L236.7,225.0L232.3,224.0L226.7,222.8L224.4,222.4L221.2,221.8L215.6,220.3L212.9,219.7L210.1,219.0L204.5,217.8L200.9,217.1L198.9,216.6L193.4,215.5L187.8,214.4L187.7,214.4L182.2,213.3L176.7,212.2L174.5,211.8L171.1,211.0L165.6,209.8L162.4,209.1L160.0,208.5L154.4,207.2L150.9,206.4L148.9,206.0L143.3,204.6L139.7,203.8L137.8,203.3L132.2,202.0L128.7,201.1L126.6,200.6L121.1,199.2L118.0,198.5L115.5,197.8L110.0,196.4L110.0,198.5L110.0,201.1L110.0,203.8L110.0,206.4L110.0,209.1L110.0,211.8L110.0,214.4L110.0,217.1L110.0,219.7L110.0,222.4L110.0,225.0L110.0,227.7L110.0,230.4L110.0,233.0L110.0,235.7L110.0,238.3L110.0,241.0L110.0,243.6L110.0,246.3L110.0,249.0L110.0,251.6L110.0,254.3L110.0,256.9L110.0,259.6L110.0,262.2L110.0,264.9L110.0,267.6L110.0,270.2L110.0,272.9L110.0,275.5L110.0,278.2L110.0,280.8L110.0,283.5L110.0,286.2L110.0,288.8L110.0,291.5L110.0,294.1L110.0,296.8L110.0,299.4L110.0,302.1L110.0,304.8L110.0,307.4L110.0,310.1L110.0,312.7L110.0,315.4L110.0,318.0L110.0,320.7L110.0,323.4L110.0,326.0L110.0,328.7L110.0,331.3L110.0,334.0L110.0,336.6L110.0,339.3L110.0,342.0L110.0,344.6L110.0,347.3L110.0,349.9L110.0,352.6L110.0,355.2L110.0,357.9L110.0,360.6L110.0,363.2L110.0,365.9L110.0,368.5L110.0,371.2L110.0,373.8L110.0,376.5L115.5,376.5ZM538.2,196.0L543.7,196.4L549.3,196.8L554.9,197.1L554.9,195.8L554.9,193.2L554.9,190.5L554.9,187.8L554.9,185.2L554.9,182.5L554.9,179.9L554.9,177.2L554.9,174.6L554.9,171.9L554.9,169.2L554.9,166.6L554.9,163.9L554.9,161.3L554.9,158.6L554.9,156.0L554.9,153.3L554.9,150.6L554.9,148.0L554.9,145.3L554.9,142.7L554.9,140.0L554.9,137.4L554.9,134.7L554.9,132.0L554.9,129.4L554.9,126.7L554.9,124.1L554.9,121.4L554.9,118.8L554.9,116.1L554.9,113.4L554.9,110.8L554.9,108.1L554.9,105.5L554.9,102.8L554.9,100.2L554.9,97.5L554.9,94.8L554.9,92.2L554.9,89.5L554.9,86.9L554.9,84.2L554.9,81.6L554.9,78.9L554.9,76.2L554.9,73.6L554.9,70.9L554.9,68.3L554.9,65.6L554.9,63.0L554.9,60.3L554.9,57.6L554.9,55.0L554.9,52.3L554.9,49.7L554.9,47.0L554.9,44.4L554.9,41.7L554.9,39.0L554.9,36.4L554.9,33.7L554.9,31.1L554.9,28.4L554.9,25.8L554.9,23.1L554.9,20.4L554.9,17.8L554.9,15.1L554.9,12.5L554.9,9.8L554.9,7.2L549.3,7.2L543.7,7.2L538.2,7.2L532.6,7.2L527.0,7.2L521.5,7.2L515.9,7.2L510.4,7.2L504.8,7.2L499.2,7.2L493.7,7.2L488.1,7.2L482.6,7.2L477.0,7.2L471.4,7.2L465.9,7.2L460.3,7.2L454.7,7.2L449.2,7.2L443.6,7.2L438.1,7.2L432.5,7.2L426.9,7.2L421.4,7.2L415.8,7.2L410.3,7.2L404.7,7.2L399.1,7.2L393.6,7.2L388.0,7.2L382.5,7.2L376.9,7.2L371.3,7.2L365.8,7.2L360.2,7.2L354.6,7.2L349.1,7.2L343.5,7.2L338.0,7.2L332.4,7.2L326.8,7.2L321.3,7.2L315.7,7.2L310.2,7.2L304.6,7.2L299.0,7.2L293.5,7.2L287.9,7.2L282.3,7.2L276.8,7.2L271.2,7.2L265.7,7.2L260.1,7.2L254.5,7.2L249.0,7.2L243.4,7.2L237.9,7.2L232.3,7.2L226.7,7.2L221.2,7.2L215.6,7.2L210.1,7.2L204.5,7.2L198.9,7.2L193.4,7.2L187.8,7.2L182.2,7.2L176.7,7.2L171.1,7.2L165.6,7.2L160.0,7.2L154.4,7.2L148.9,7.2L143.3,7.2L137.8,7.2L132.2,7.2L126.6,7.2L121.1,7.2L115.5,7.2L110.0,7.2L110.0,9.8L110.0,12.5L110.0,15.1L110.0,17.8L110.0,20.4L110.0,23.1L110.0,25.8L110.0,28.4L110.0,31.1L110.0,33.7L110.0,36.4L110.0,39.0L110.0,41.7L110.0,44.4L110.0,47.0L110.0,49.7L110.0,52.3L110.0,55.0L110.0,57.6L110.0,60.3L110.0,63.0L110.0,65.6L110.0,68.3L110.0,70.9L110.0,73.6L110.0,76.2L110.0,78.9L110.0,81.6L110.0,84.2L110.0,86.9L110.0,88.3L113.6,89.5L115.5,90.2L121.1,92.0L121.5,92.2L126.6,93.9L129.6,94.8L132.2,95.7L137.8,97.5L137.9,97.5L143.3,99.2L146.3,100.2L148.9,101.0L154.4,102.6L155.0,102.8L160.0,104.3L163.9,105.5L165.6,106.0L171.1,107.5L173.2,108.1L176.7,109.1L182.2,110.5L183.3,110.8L187.8,112.0L193.4,113.4L193.7,113.4L198.9,114.8L204.0,116.1L204.5,116.2L210.1,117.7L213.6,118.8L215.6,119.3L221.2,121.0L222.5,121.4L226.7,122.8L230.3,124.1L232.3,124.8L237.3,126.7L237.9,127.0L243.4,129.2L243.8,129.4L249.0,131.6L250.0,132.0L254.5,134.0L256.3,134.7L260.1,136.3L262.6,137.4L265.7,138.6L269.2,140.0L271.2,140.8L276.2,142.7L276.8,142.9L282.3,144.9L283.6,145.3L287.9,146.9L291.1,148.0L293.5,148.8L298.8,150.6L299.0,150.7L304.6,152.6L306.7,153.3L310.2,154.4L314.9,156.0L315.7,156.2L321.3,157.9L323.5,158.6L326.8,159.6L332.4,161.2L332.7,161.3L338.0,162.7L342.9,163.9L343.5,164.1L349.1,165.5L353.8,166.6L354.6,166.8L360.2,168.0L365.4,169.2L365.8,169.3L371.3,170.5L376.9,171.7L377.6,171.9L382.5,172.9L388.0,174.2L389.8,174.6L393.6,175.4L399.1,176.6L402.0,177.2L404.7,177.8L410.3,179.0L414.3,179.9L415.8,180.2L421.4,181.4L426.8,182.5L426.9,182.6L432.5,183.7L438.1,184.8L439.8,185.2L443.6,186.0L449.2,186.8L454.7,187.6L457.0,187.8L460.3,188.3L465.9,189.0L471.4,189.7L477.0,190.3L478.5,190.5L482.6,191.0L488.1,191.6L493.7,192.2L499.2,192.7L504.2,193.2L504.8,193.2L510.4,193.7L515.9,194.2L521.5,194.7L527.0,195.1L532.6,195.6L535.9,195.8L538.2,196.0Z"/>
<path fill="#472e7c" d="M115.5,376.5L121.1,376.5L126.6,376.5L132.2,376.5L137.8,376.5L143.3,376.5L148.9,376.5L154.4,376.5L160.0,376.5L165.6,376.5L171.1,376.5L176.7,376.5L182.2,376.5L187.8,376.5L193.4,376.5L198.9,376.5L204.5,376.5L210.1,376.5L215.6,376.5L221.2,376.5L226.7,376.5L232.3,376.5L237.9,376.5L243.4,376.5L249.0,376.5L254.5,376.5L260.1,376.5L265.7,376.5L271.2,376.5L276.8,376.5L282.3,376.5L287.9,376.5L293.5,376.5L299.0,376.5L304.6,376.5L310.2,376.5L315.7,376.5L321.3,376.5L326.8,376.5L332.4,376.5L338.0,376.5L343.5,376.5L349.1,376.5L354.6,376.5L360.2,376.5L365.8,376.5L371.3,376.5L376.9,376.5L382.5,376.5L388.0,376.5L393.6,376.5L399.1,376.5L404.7,376.5L410.3,376.5L415.8,376.5L421.4,376.5L426.9,376.5L432.5,376.5L438.1,376.5L443.6,376.5L449.2,376.5L454.7,376.5L460.3,376.5L465.9,376.5L471.4,376.5L477.0,376.5L482.6,376.5L488.1,376.5L493.7,376.5L499.2,376.5L504.8,376.5L510.4,376.5L515.9,376.5L521.5,376.5L527.0,376.5L532.6,376.5L538.2,376.5L543.7,376.5L549.3,376.5L554.9,376.5L554.9,373.8L554.9,371.2L554.9,368.5L554.9,365.9L554.9,363.2L554.9,360.6L554.9,357.9L554.9,355.2L554.9,352.6L554.9,349.9L554.9,347.3L554.9,344.6L554.9,342.0L554.9,339.3L554.9,336.6L554.9,334.0L554.9,331.3L554.9,328.7L554.9,326.0L554.9,323.4L554.9,320.7L554.9,318.0L554.9,315.4L554.9,312.7L554.9,310.1L554.9,307.4L554.9,304.8L554.9,302.1L554.9,299.4L554.9,296.8L554.9,294.1L554.9,291.5L554.9,288.8L554.9,286.2L554.9,283.5L554.9,280.8L554.9,278.2L554.9,275.5L554.9,272.9L554.9,270.2L554.9,268.2L549.3,268.1L543.7,267.9L538.2,267.8L532.6,267.6L531.5,267.6L527.0,267.4L521.5,267.1L515.9,266.9L510.4,266.6L504.8,266.3L499.2,266.0L493.7,265.7L488.1,265.4L482.6,265.0L481.1,264.9L477.0,264.6L471.4,264.1L465.9,263.6L460.3,263.2L454.7,262.7L449.9,262.2L449.2,262.2L443.6,261.7L438.1,261.2L432.5,260.7L426.9,260.2L421.4,259.6L421.1,259.6L415.8,259.0L410.3,258.4L404.7,257.7L399.1,257.1L397.5,256.9L393.6,256.5L388.0,255.8L382.5,255.1L376.9,254.5L374.9,254.3L371.3,253.8L365.8,253.1L360.2,252.5L354.6,251.7L353.6,251.6L349.1,251.0L343.5,250.2L338.0,249.3L335.4,249.0L332.4,248.5L326.8,247.9L321.3,247.3L315.7,246.6L313.4,246.3L310.2,245.8L304.6,245.0L299.0,244.1L296.1,243.6L293.5,243.2L287.9,242.2L282.3,241.2L281.0,241.0L276.8,240.2L271.2,238.9L268.9,238.3L265.7,237.5L260.1,236.0L259.0,235.7L254.5,234.4L249.6,233.0L249.0,232.8L243.4,231.3L240.0,230.4L237.9,229.8L232.3,228.4L228.8,227.7L226.7,227.2L221.2,226.2L216.8,225.0L215.6,224.7L210.1,223.4L205.4,222.4L204.5,222.2L198.9,221.0L193.4,219.9L192.7,219.7L187.8,218.7L182.2,217.6L179.6,217.1L176.7,216.5L171.1,215.3L167.2,214.4L165.6,214.0L160.0,212.8L155.7,211.8L154.4,211.5L148.9,210.1L144.5,209.1L143.3,208.8L137.8,207.5L133.5,206.4L132.2,206.1L126.6,204.7L122.8,203.8L121.1,203.3L115.5,201.9L112.3,201.1L110.0,200.5L110.0,201.1L110.0,203.8L110.0,206.4L110.0,209.1L110.0,211.8L110.0,214.4L110.0,217.1L110.0,219.7L110.0,222.4L110.0,225.0L110.0,227.7L110.0,230.4L110.0,233.0L110.0,235.7L110.0,238.3L110.0,241.0L110.0,243.6L110.0,246.3L110.0,249.0L110.0,251.6L110.0,254.3L110.0,256.9L110.0,259.6L110.0,262.2L110.0,264.9L110.0,267.6L110.0,270.2L110.0,272.9L110.0,275.5L110.0,278.2L110.0,280.8L110.0,283.5L110.0,286.2L110.0,288.8L110.0,291.5L110.0,294.1L110.0,296.8L110.0,299.4L110.0,302.1L110.0,304.8L110.0,307.4L110.0,310.1L110.0,312.7L110.0,315.4L110.0,318.0L110.0,320.7L110.0,323.4L110.0,326.0L110.0,328.7L110.0,331.3L110.0,334.0L110.0,336.6L110.0,339.3L110.0,342.0L110.0,344.6L110.0,347.3L110.0,349.9L110.0,352.6L110.0,355.2L110.0,357.9L110.0,360.6L110.0,363.2L110.0,365.9L110.0,368.5L110.0,371.2L110.0,373.8L110.0,376.5L115.5,376.5ZM538.2,190.8L543.7,191.2L549.3,191.6L554.9,191.9L554.9,190.5L554.9,187.8L554.9,185.2L554.9,182.5L554.9,179.9L554.9,177.2L554.9,174.6L554.9,171.9L554.9,169.2L554.9,166.6L554.9,163.9L554.9,161.3L554.9,158.6L554.9,156.0L554.9,153.3L554.9,150.6L554.9,148.0L554.9,145.3L554.9,142.7L554.9,140.0L554.9,137.4L554.9,134.7L554.9,132.0L554.9,129.4L554.9,126.7L554.9,124.1L554.9,121.4L554.9,118.8L554.9,116.1L554.9,113.4L554.9,110.8L554.9,108.1L554.9,105.5L554.9,102.8L554.9,100.2L554.9,97.5L554.9,94.8L554.9,92.2L554.9,89.5L554.9,86.9L554.9,84.2L554.9,81.6L554.9,78.9L554.9,76.2L554.9,73.6L554.9,70.9L554.9,68.3L554.9,65.6L554.9,63.0L554.9,60.3L554.9,57.6L554.9,55.0L554.9,52.3L554.9,49.7L554.9,47.0L554.9,44.4L554.9,41.7L554.9,39.0L554.9,36.4L554.9,33.7L554.9,31.1L554.9,28.4L554.9,25.8L554.9,23.1L554.9,20.4L554.9,17.8L554.9,15.1L554.9,12.5L554.9,9.8L554.9,7.2L549.3,7.2L543.7,7.2L538.2,7.2L532.6,7.2L527.0,7.2L521.5,7.2L515.9,7.2L510.4,7.2L504.8,7.2L499.2,7.2L493.7,7.2L488.1,7.2L482.6,7.2L477.0,7.2L471.4,7.2L465.9,7.2L460.3,7.2L454.7,7.2L449.2,7.2L443.6,7.2L438.1,7.2L432.5,7.2L426.9,7.2L421.4,7.2L415.8,7.2L410.3,7.2L404.7,7.2L399.1,7.2L393.6,7.2L388.0,7.2L382.5,7.2L376.9,7.2L371.3,7.2L365.8,7.2L360.2,7.2L354.6,7.2L349.1,7.2L343.5,7.2L338.0,7.2L332.4,7.2L326.8,7.2L321.3,7.2L315.7,7.2L310.2,7.2L304.6,7.2L299.0,7.2L293.5,7.2L287.9,7.2L282.3,7.2L276.8,7.2L271.2,7.2L265.7,7.2L260.1,7.2L254.5,7.2L249.0,7.2L243.4,7.2L237.9,7.2L232.3,7.2L226.7,7.2L221.2,7.2L215.6,7.2L210.1,7.2L204.5,7.2L198.9,7.2L193.4,7.2L187.8,7.2L182.2,7.2L176.7,7.2L171.1,7.2L165.6,7.2L160.0,7.2L154.4,7.2L148.9,7.2L143.3,7.2L137.8,7.2L132.2,7.2L126.6,7.2L121.1,7.2L115.5,7.2L110.0,7.2L110.0,9.8L110.0,12.5L110.0,15.1L110.0,17.8L110.0,20.4L110.0,23.1L110.0,25.8L110.0,28.4L110.0,31.1L110.0,33.7L110.0,36.4L110.0,39.0L110.0,41.7L110.0,44.4L110.0,47.0L110.0,49.7L110.0,52.3L110.0,55.0L110.0,57.6L110.0,60.3L110.0,63.0L110.0,65.6L110.0,68.3L110.0,70.9L110.0,73.6L110.0,76.2L110.0,78.9L110.0,81.6L110.0,82.2L115.5,84.1L115.9,84.2L121.1,86.0L123.8,86.9L126.6,87.8L131.8,89.5L132.2,89.6L137.8,91.5L140.0,92.2L143.3,93.2L148.4,94.8L148.9,95.0L154.4,96.7L156.9,97.5L160.0,98.4L165.6,100.1L165.7,100.2L171.1,101.7L175.0,102.8L176.7,103.3L182.2,104.8L184.9,105.5L187.8,106.2L193.4,107.7L195.1,108.1L198.9,109.1L204.5,110.6L205.1,110.8L210.1,112.1L214.5,113.4L215.6,113.7L221.2,115.4L223.2,116.1L226.7,117.2L231.0,118.8L232.3,119.2L237.9,121.4L237.9,121.4L243.4,123.7L244.4,124.1L249.0,126.0L250.7,126.7L254.5,128.4L256.9,129.4L260.1,130.7L263.2,132.0L265.7,133.0L269.8,134.7L271.2,135.2L276.8,137.3L276.9,137.4L282.3,139.3L284.4,140.0L287.9,141.2L292.0,142.7L293.5,143.2L299.0,145.1L299.7,145.3L304.6,147.0L307.7,148.0L310.2,148.8L315.7,150.6L316.0,150.6L321.3,152.3L324.7,153.3L326.8,154.0L332.4,155.6L333.9,156.0L338.0,157.1L343.5,158.5L343.9,158.6L349.1,159.9L354.6,161.3L354.6,161.3L360.2,162.6L365.8,163.9L366.0,163.9L371.3,165.1L376.9,166.4L377.9,166.6L382.5,167.6L388.0,168.8L389.9,169.2L393.6,170.1L399.1,171.3L402.0,171.9L404.7,172.5L410.3,173.7L414.1,174.6L415.8,174.9L421.4,176.1L426.7,177.2L426.9,177.3L432.5,178.4L438.1,179.5L440.0,179.9L443.6,180.6L449.2,181.4L454.7,182.2L457.3,182.5L460.3,182.9L465.9,183.6L471.4,184.3L477.0,185.0L478.5,185.2L482.6,185.7L488.1,186.3L493.7,186.9L499.2,187.4L503.5,187.8L504.8,188.0L510.4,188.5L515.9,189.0L521.5,189.5L527.0,189.9L532.6,190.4L534.4,190.5L538.2,190.8Z"/>
<path fill="#463480" d="M115.5,376.5L121.1,376.5L126.6,376.5L132.2,376.5L137.8,376.5L143.3,376.5L148.9,376.5L154.4,376.5L160.0,376.5L165.6,376.5L171.1,376.5L176.7,376.5L182.2,376.5L187.8,376.5L193.4,376.5L198.9,376.5L204.5,376.5L210.1,376.5L215.6,376.5L221.2,376.5L226.7,376.5L232.3,376.5L237.9,376.5L243.4,376.5L249.0,376.5L254.5,376.5L260.1,376.5L265.7,376.5L271.2,376.5L276.8,376.5L282.3,376.5L287.9,376.5L293.5,376.5L299.0,376.5L304.6,376.5L310.2,376.5L315.7,376.5L321.3,376.5L326.8,376.5L332.4,376.5L338.0,376.5L343.5,376.5L349.1,376.5L354.6,376.5L360.2,376.5L365.8,376.5L371.3,376.5L376.9,376.5L382.5,376.5L388.0,376.5L393.6,376.5L399.1,376.5L404.7,376.5L410.3,376.5L415.8,376.5L421.4,376.5L426.9,376.5L432.5,376.5L438.1,376.5L443.6,376.5L449.2,376.5L454.7,376.5L460.3,376.5L465.9,376.5L471.4,376.5L477.0,376.5L482.6,376.5L488.1,376.5L493.7,376.5L499.2,376.5L504.8,376.5L510.4,376.5L515.9,376.5L521.5,376.5L527.0,376.5L532.6,376.5L538.2,376.5L543.7,376.5L549.3,376.5L554.9,376.5L554.9,373.8L554.9,371.2L554.9,368.5L554.9,365.9L554.9,363.2L554.9,360.6L554.9,357.9L554.9,355.2L554.9,352.6L554.9,349.9L554.9,347.3L554.9,344.6L554.9,342.0L554.9,339.3L554.9,336.6L554.9,334.0L554.9,331.3L554.9,328.7L554.9,326.0L554.9,323.4L554.9,320.7L554.9,318.0L554.9,315.4L554.9,312.7L554.9,310.1L554.9,307.4L554.9,304.8L554.9,302.1L554.9,299.4L554.9,296.8L554.9,294.1L554.9,291.5L554.9,288.8L554.9,286.2L554.9,283.5L554.9,280.8L554.9,278.2L554.9,275.7L550.4,275.5L549.3,275.5L543.7,275.3L538.2,275.1L532.6,274.8L527.0,274.6L521.5,274.3L515.9,274.0L510.4,273.7L504.8,273.4L499.2,273.1L495.9,272.9L493.7,272.7L488.1,272.3L482.6,271.9L477.0,271.4L471.4,270.9L465.9,270.4L463.3,270.2L460.3,269.9L454.7,269.4L449.2,268.8L443.6,268.3L438.1,267.7L436.8,267.6L432.5,267.1L426.9,266.4L421.4,265.7L415.8,265.0L414.7,264.9L410.3,264.3L404.7,263.6L399.1,262.8L394.6,262.2L393.6,262.1L388.0,261.3L382.5,260.6L376.9,259.9L374.7,259.6L371.3,259.1L365.8,258.4L360.2,257.6L355.5,256.9L354.6,256.8L349.1,255.9L343.5,255.1L338.7,254.3L338.0,254.2L332.4,253.3L326.8,252.6L321.3,251.9L319.0,251.6L315.7,251.2L310.2,250.3L304.6,249.4L301.7,249.0L299.0,248.5L293.5,247.5L287.9,246.5L286.7,246.3L282.3,245.5L276.8,244.4L273.6,243.6L271.2,243.1L265.7,241.7L263.2,241.0L260.1,240.1L254.5,238.6L253.7,238.3L249.0,237.0L244.4,235.7L243.4,235.4L237.9,233.9L234.2,233.0L232.3,232.5L226.7,231.3L221.7,230.4L221.2,230.3L215.6,228.8L211.1,227.7L210.1,227.5L204.5,226.2L199.2,225.0L198.9,225.0L193.4,223.8L187.8,222.7L186.3,222.4L182.2,221.5L176.7,220.4L173.6,219.7L171.1,219.2L165.6,217.9L161.9,217.1L160.0,216.6L154.4,215.3L150.7,214.4L148.9,214.0L143.3,212.6L139.8,211.8L137.8,211.2L132.2,209.9L129.1,209.1L126.6,208.5L121.1,207.1L118.6,206.4L115.5,205.7L110.0,204.2L110.0,206.4L110.0,209.1L110.0,211.8L110.0,214.4L110.0,217.1L110.0,219.7L110.0,222.4L110.0,225.0L110.0,227.7L110.0,230.4L110.0,233.0L110.0,235.7L110.0,238.3L110.0,241.0L110.0,243.6L110.0,246.3L110.0,249.0L110.0,251.6L110.0,254.3L110.0,256.9L110.0,259.6L110.0,262.2L110.0,264.9L110.0,267.6L110.0,270.2L110.0,272.9L110.0,275.5L110.0,278.2L110.0,280.8L110.0,283.5L110.0,286.2L110.0,288.8L110.0,291.5L110.0,294.1L110.0,296.8L110.0,299.4L110.0,302.1L110.0,304.8L110.0,307.4L110.0,310.1L110.0,312.7L110.0,315.4L110.0,318.0L110.0,320.7L110.0,323.4L110.0,326.0L110.0,328.7L110.0,331.3L110.0,334.0L110.0,336.6L110.0,339.3L110.0,342.0L110.0,344.6L110.0,347.3L110.0,349.9L110.0,352.6L110.0,355.2L110.0,357.9L110.0,360.6L110.0,363.2L110.0,365.9L110.0,368.5L110.0,371.2L110.0,373.8L110.0,376.5L115.5,376.5ZM532.6,185.5L538.2,186.0L543.7,186.4L549.3,186.8L554.9,187.2L554.9,185.2L554.9,182.5L554.9,179.9L554.9,177.2L554.9,174.6L554.9,171.9L554.9,169.2L554.9,166.6L554.9,163.9L554.9,161.3L554.9,158.6L554.9,156.0L554.9,153.3L554.9,150.6L554.9,148.0L554.9,145.3L554.9,142.7L554.9,140.0L554.9,137.4L554.9,134.7L554.9,132.0L554.9,129.4L554.9,126.7L554.9,124.1L554.9,121.4L554.9,118.8L554.9,116.1L554.9,113.4L554.9,110.8L554.9,108.1L554.9,105.5L554.9,102.8L554.9,100.2L554.9,97.5L554.9,94.8L554.9,92.2L554.9,89.5L554.9,86.9L554.9,84.2L554.9,81.6L554.9,78.9L554.9,76.2L554.9,73.6L554.9,70.9L554.9,68.3L554.9,65.6L554.9,63.0L554.9,60.3L554.9,57.6L554.9,55.0L554.9,52.3L554.9,49.7L554.9,47.0L554.9,44.4L554.9,41.7L554.9,39.0L554.9,36.4L554.9,33.7L554.9,31.1L554.9,28.4L554.9,25.8L554.9,23.1L554.9,20.4L554.9,17.8L554.9,15.1L554.9,12.5L554.9,9.8L554.9,7.2L549.3,7.2L543.7,7.2L538.2,7.2L532.6,7.2L527.0,7.2L521.5,7.2L515.9,7.2L510.4,7.2L504.8,7.2L499.2,7.2L493.7,7.2L488.1,7.2L482.6,7.2L477.0,7.2L471.4,7.2L465.9,7.2L460.3,7.2L454.7,7.2L449.2,7.2L443.6,7.2L438.1,7.2L432.5,7.2L426.9,7.2L421.4,7.2L415.8,7.2L410.3,7.2L404.7,7.2L399.1,7.2L393.6,7.2L388.0,7.2L382.5,7.2L376.9,7.2L371.3,7.2L365.8,7.2L360.2,7.2L354.6,7.2L349.1,7.2L343.5,7.2L338.0,7.2L332.4,7.2L326.8,7.2L321.3,7.2L315.7,7.2L310.2,7.2L304.6,7.2L299.0,7.2L293.5,7.2L287.9,7.2L282.3,7.2L276.8,7.2L271.2,7.2L265.7,7.2L260.1,7.2L254.5,7.2L249.0,7.2L243.4,7.2L237.9,7.2L232.3,7.2L226.7,7.2L221.2,7.2L215.6,7.2L210.1,7.2L204.5,7.2L198.9,7.2L193.4,7.2L187.8,7.2L182.2,7.2L176.7,7.2L171.1,7.2L165.6,7.2L160.0,7.2L154.4,7.2L148.9,7.2L143.3,7.2L137.8,7.2L132.2,7.2L126.6,7.2L121.1,7.2L115.5,7.2L110.0,7.2L110.0,9.8L110.0,12.5L110.0,15.1L110.0,17.8L110.0,20.4L110.0,23.1L110.0,25.8L110.0,28.4L110.0,31.1L110.0,33.7L110.0,36.4L110.0,39.0L110.0,41.7L110.0,44.4L110.0,47.0L110.0,49.7L110.0,52.3L110.0,55.0L110.0,57.6L110.0,60.3L110.0,63.0L110.0,65.6L110.0,68.3L110.0,70.9L110.0,73.6L110.0,76.2L110.0,76.7L115.5,78.6L116.5,78.9L121.1,80.4L124.6,81.6L126.6,82.2L132.2,84.0L132.8,84.2L137.8,85.8L141.1,86.9L143.3,87.6L148.9,89.3L149.5,89.5L154.4,91.1L158.0,92.2L160.0,92.8L165.6,94.5L166.7,94.8L171.1,96.2L175.8,97.5L176.7,97.7L182.2,99.3L185.5,100.2L187.8,100.8L193.4,102.2L195.5,102.8L198.9,103.7L204.5,105.3L205.2,105.5L210.1,106.8L214.5,108.1L215.6,108.5L221.2,110.2L223.0,110.8L226.7,112.0L230.8,113.4L232.3,114.0L237.8,116.1L237.9,116.1L243.4,118.4L244.3,118.8L249.0,120.7L250.6,121.4L254.5,123.1L256.9,124.1L260.1,125.4L263.2,126.7L265.7,127.7L269.8,129.4L271.2,129.9L276.8,132.0L276.9,132.0L282.3,133.9L284.5,134.7L287.9,135.9L292.2,137.4L293.5,137.8L299.0,139.7L300.1,140.0L304.6,141.5L308.1,142.7L310.2,143.3L315.7,145.1L316.5,145.3L321.3,146.8L325.3,148.0L326.8,148.4L332.4,150.0L334.5,150.6L338.0,151.6L343.5,153.1L344.3,153.3L349.1,154.5L354.6,155.9L354.7,156.0L360.2,157.3L365.8,158.6L365.8,158.6L371.3,159.9L376.9,161.2L377.4,161.3L382.5,162.4L388.0,163.7L389.2,163.9L393.6,164.9L399.1,166.2L401.0,166.6L404.7,167.4L410.3,168.6L413.1,169.2L415.8,169.8L421.4,171.0L425.5,171.9L426.9,172.2L432.5,173.3L438.1,174.4L438.7,174.6L443.6,175.5L449.2,176.4L454.7,177.1L455.3,177.2L460.3,177.9L465.9,178.6L471.4,179.3L475.7,179.9L477.0,180.0L482.6,180.7L488.1,181.3L493.7,181.9L499.2,182.5L499.5,182.5L504.8,183.1L510.4,183.6L515.9,184.1L521.5,184.6L527.0,185.1L528.6,185.2L532.6,185.5Z"/>
<path fill="#443a83" d="M115.5,376.5L121.1,376.5L126.6,376.5L132.2,376.5L137.8,376.5L143.3,376.5L148.9,376.5L154.4,376.5L160.0,376.5L165.6,376.5L171.1,376.5L176.7,376.5L182.2,376.5L187.8,376.5L193.4,376.5L198.9,376.5L204.5,376.5L210.1,376.5L215.6,376.5L221.2,376.5L226.7,376.5L232.3,376.5L237.9,376.5L243.4,376.5L249.0,376.5L254.5,376.5L260.1,376.5L265.7,376.5L271.2,376.5L276.8,376.5L282.3,376.5L287.9,376.5L293.5,376.5L299.0,376.5L304.6,376.5L310.2,376.5L315.7,376.5L321.3,376.5L326.8,376.5L332.4,376.5L338.0,376.5L343.5,376.5L349.1,376.5L354.6,376.5L360.2,376.5L365.8,376.5L371.3,376.5L376.9,376.5L382.5,376.5L388.0,376.5L393.6,376.5L399.1,376.5L404.7,376.5L410.3,376.5L415.8,376.5L421.4,376.5L426.9,376.5L432.5,376.5L438.1,376.5L443.6,376.5L449.2,376.5L454.7,376.5L460.3,376.5L465.9,376.5L471.4,376.5L477.0,376.5L482.6,376.5L488.1,376.5L493.7,376.5L499.2,376.5L504.8,376.5L510.4,376.5L515.9,376.5L521.5,376.5L527.0,376.5L532.6,376.5L538.2,376.5L543.7,376.5L549.3,376.5L554.9,376.5L554.9,373.8L554.9,371.2L554.9,368.5L554.9,365.9L554.9,363.2L554.9,360.6L554.9,357.9L554.9,355.2L554.9,352.6L554.9,349.9L554.9,347.3L554.9,344.6L554.9,342.0L554.9,339.3L554.9,336.6L554.9,334.0L554.9,331.3L554.9,328.7L554.9,326.0L554.9,323.4L554.9,320.7L554.9,318.0L554.9,315.4L554.9,312.7L554.9,310.1L554.9,307.4L554.9,304.8L554.9,302.1L554.9,299.4L554.9,296.8L554.9,294.1L554.9,291.5L554.9,288.8L554.9,286.2L554.9,283.5L554.9,282.0L549.3,281.8L543.7,281.6L538.2,281.3L532.6,281.1L527.8,280.8L527.0,280.8L521.5,280.5L515.9,280.2L510.4,279.9L504.8,279.5L499.2,279.1L493.7,278.8L488.1,278.3L486.2,278.2L482.6,277.9L477.0,277.4L471.4,276.9L465.9,276.4L460.3,275.8L457.5,275.5L454.7,275.2L449.2,274.7L443.6,274.0L438.1,273.4L434.1,272.9L432.5,272.7L426.9,271.9L421.4,271.2L415.8,270.4L414.7,270.2L410.3,269.6L404.7,268.7L399.1,267.9L396.6,267.6L393.6,267.1L388.0,266.3L382.5,265.5L378.4,264.9L376.9,264.7L371.3,263.9L365.8,263.0L360.5,262.2L360.2,262.2L354.6,261.3L349.1,260.4L344.1,259.6L343.5,259.5L338.0,258.5L332.4,257.6L327.1,256.9L326.8,256.9L321.3,256.1L315.7,255.3L310.2,254.5L308.9,254.3L304.6,253.6L299.0,252.6L293.6,251.6L293.5,251.6L287.9,250.5L282.3,249.5L279.8,249.0L276.8,248.3L271.2,247.1L268.3,246.3L265.7,245.6L260.1,244.1L258.5,243.6L254.5,242.5L249.2,241.0L249.0,240.9L243.4,239.4L239.6,238.3L237.9,237.9L232.3,236.5L228.5,235.7L226.7,235.3L221.2,234.2L216.7,233.0L215.6,232.7L210.1,231.4L205.7,230.4L204.5,230.1L198.9,228.8L193.6,227.7L193.4,227.7L187.8,226.5L182.2,225.3L180.9,225.0L176.7,224.1L171.1,222.9L168.8,222.4L165.6,221.6L160.0,220.3L157.6,219.7L154.4,219.0L148.9,217.6L146.7,217.1L143.3,216.2L137.8,214.9L136.0,214.4L132.2,213.5L126.6,212.0L125.5,211.8L121.1,210.6L115.5,209.2L115.2,209.1L110.0,207.7L110.0,209.1L110.0,211.8L110.0,214.4L110.0,217.1L110.0,219.7L110.0,222.4L110.0,225.0L110.0,227.7L110.0,230.4L110.0,233.0L110.0,235.7L110.0,238.3L110.0,241.0L110.0,243.6L110.0,246.3L110.0,249.0L110.0,251.6L110.0,254.3L110.0,256.9L110.0,259.6L110.0,262.2L110.0,264.9L110.0,267.6L110.0,270.2L110.0,272.9L110.0,275.5L110.0,278.2L110.0,280.8L110.0,283.5L110.0,286.2L110.0,288.8L110.0,291.5L110.0,294.1L110.0,296.8L110.0,299.4L110.0,302.1L110.0,304.8L110.0,307.4L110.0,310.1L110.0,312.7L110.0,315.4L110.0,318.0L110.0,320.7L110.0,323.4L110.0,326.0L110.0,328.7L110.0,331.3L110.0,334.0L110.0,336.6L110.0,339.3L110.0,342.0L110.0,344.6L110.0,347.3L110.0,349.9L110.0,352.6L110.0,355.2L110.0,357.9L110.0,360.6L110.0,363.2L110.0,365.9L110.0,368.5L110.0,371.2L110.0,373.8L110.0,376.5L115.5,376.5ZM554.9,182.8L554.9,182.5L554.9,179.9L554.9,177.2L554.9,174.6L554.9,171.9L554.9,169.2L554.9,166.6L554.9,163.9L554.9,161.3L554.9,158.6L554.9,156.0L554.9,153.3L554.9,150.6L554.9,148.0L554.9,145.3L554.9,142.7L554.9,140.0L554.9,137.4L554.9,134.7L554.9,132.0L554.9,129.4L554.9,126.7L554.9,124.1L554.9,121.4L554.9,118.8L554.9,116.1L554.9,113.4L554.9,110.8L554.9,108.1L554.9,105.5L554.9,102.8L554.9,100.2L554.9,97.5L554.9,94.8L554.9,92.2L554.9,89.5L554.9,86.9L554.9,84.2L554.9,81.6L554.9,78.9L554.9,76.2L554.9,73.6L554.9,70.9L554.9,68.3L554.9,65.6L554.9,63.0L554.9,60.3L554.9,57.6L554.9,55.0L554.9,52.3L554.9,49.7L554.9,47.0L554.9,44.4L554.9,41.7L554.9,39.0L554.9,36.4L554.9,33.7L554.9,31.1L554.9,28.4L554.9,25.8L554.9,23.1L554.9,20.4L554.9,17.8L554.9,15.1L554.9,12.5L554.9,9.8L554.9,7.2L549.3,7.2L543.7,7.2L538.2,7.2L532.6,7.2L527.0,7.2L521.5,7.2L515.9,7.2L510.4,7.2L504.8,7.2L499.2,7.2L493.7,7.2L488.1,7.2L482.6,7.2L477.0,7.2L471.4,7.2L465.9,7.2L460.3,7.2L454.7,7.2L449.2,7.2L443.6,7.2L438.1,7.2L432.5,7.2L426.9,7.2L421.4,7.2L415.8,7.2L410.3,7.2L404.7,7.2L399.1,7.2L393.6,7.2L388.0,7.2L382.5,7.2L376.9,7.2L371.3,7.2L365.8,7.2L360.2,7.2L354.6,7.2L349.1,7.2L343.5,7.2L338.0,7.2L332.4,7.2L326.8,7.2L321.3,7.2L315.7,7.2L310.2,7.2L304.6,7.2L299.0,7.2L293.5,7.2L287.9,7.2L282.3,7.2L276.8,7.2L271.2,7.2L265.7,7.2L260.1,7.2L254.5,7.2L249.0,7.2L243.4,7.2L237.9,7.2L232.3,7.2L226.7,7.2L221.2,7.2L215.6,7.2L210.1,7.2L204.5,7.2L198.9,7.2L193.4,7.2L187.8,7.2L182.2,7.2L176.7,7.2L171.1,7.2L165.6,7.2L160.0,7.2L154.4,7.2L148.9,7.2L143.3,7.2L137.8,7.2L132.2,7.2L126.6,7.2L121.1,7.2L115.5,7.2L110.0,7.2L110.0,9.8L110.0,12.5L110.0,15.1L110.0,17.8L110.0,20.4L110.0,23.1L110.0,25.8L110.0,28.4L110.0,31.1L110.0,33.7L110.0,36.4L110.0,39.0L110.0,41.7L110.0,44.4L110.0,47.0L110.0,49.7L110.0,52.3L110.0,55.0L110.0,57.6L110.0,60.3L110.0,63.0L110.0,65.6L110.0,68.3L110.0,70.9L110.0,71.8L115.3,73.6L115.5,73.6L121.1,75.5L123.5,76.2L126.6,77.2L131.9,78.9L132.2,79.0L137.8,80.8L140.3,81.6L143.3,82.5L148.9,84.2L148.9,84.2L154.4,85.9L157.6,86.9L160.0,87.6L165.6,89.3L166.4,89.5L171.1,90.9L175.7,92.2L176.7,92.5L182.2,94.0L185.5,94.8L187.8,95.5L193.4,97.0L195.4,97.5L198.9,98.5L204.5,100.0L205.0,100.2L210.1,101.6L214.1,102.8L215.6,103.3L221.2,105.0L222.5,105.5L226.7,106.8L230.3,108.1L232.3,108.8L237.4,110.8L237.9,111.0L243.4,113.2L243.9,113.4L249.0,115.6L250.2,116.1L254.5,117.9L256.5,118.8L260.1,120.3L262.9,121.4L265.7,122.6L269.5,124.1L271.2,124.8L276.5,126.7L276.8,126.8L282.3,128.8L284.2,129.4L287.9,130.7L292.0,132.0L293.5,132.6L299.0,134.4L299.9,134.7L304.6,136.2L308.1,137.4L310.2,138.0L315.7,139.7L316.6,140.0L321.3,141.4L325.5,142.7L326.8,143.1L332.4,144.6L334.8,145.3L338.0,146.2L343.5,147.8L344.3,148.0L349.1,149.3L354.4,150.6L354.6,150.7L360.2,152.1L365.0,153.3L365.8,153.5L371.3,154.8L376.2,156.0L376.9,156.1L382.5,157.4L387.6,158.6L388.0,158.7L393.6,160.0L399.1,161.3L399.1,161.3L404.7,162.6L410.3,163.8L410.8,163.9L415.8,165.0L421.4,166.3L422.9,166.6L426.9,167.4L432.5,168.6L435.7,169.2L438.1,169.7L443.6,170.8L449.2,171.7L450.6,171.9L454.7,172.5L460.3,173.3L465.9,174.0L470.0,174.6L471.4,174.7L477.0,175.5L482.6,176.1L488.1,176.8L491.8,177.2L493.7,177.4L499.2,178.0L504.8,178.6L510.4,179.1L515.9,179.6L518.4,179.9L521.5,180.2L527.0,180.7L532.6,181.1L538.2,181.6L543.7,182.0L549.3,182.4L551.2,182.5L554.9,182.8Z"/>
<path fill="#424086" d="M115.5,376.5L121.1,376.5L126.6,376.5L132.2,376.5L137.8,376.5L143.3,376.5L148.9,376.5L154.4,376.5L160.0,376.5L165.6,376.5L171.1,376.5L176.7,376.5L182.2,376.5L187.8,376.5L193.4,376.5L198.9,376.5L204.5,376.5L210.1,376.5L215.6,376.5L221.2,376.5L226.7,376.5L232.3,376.5L237.9,376.5L243.4,376.5L249.0,376.5L254.5,376.5L260.1,376.5L265.7,376.5L271.2,376.5L276.8,376.5L282.3,376.5L287.9,376.5L293.5,376.5L299.0,376.5L304.6,376.5L310.2,376.5L315.7,376.5L321.3,376.5L326.8,376.5L332.4,376.5L338.0,376.5L343.5,376.5L349.1,376.5L354.6,376.5L360.2,376.5L365.8,376.5L371.3,376.5L376.9,376.5L382.5,376.5L388.0,376.5L393.6,376.5L399.1,376.5L404.7,376.5L410.3,376.5L415.8,376.5L421.4,376.5L426.9,376.5L432.5,376.5L438.1,376.5L443.6,376.5L449.2,376.5L454.7,376.5L460.3,376.5L465.9,376.5L471.4,376.5L477.0,376.5L482.6,376.5L488.1,376.5L493.7,376.5L499.2,376.5L504.8,376.5L510.4,376.5L515.9,376.5L521.5,376.5L527.0,376.5L532.6,376.5L538.2,376.5L543.7,376.5L549.3,376.5L554.9,376.5L554.9,373.8L554.9,371.2L554.9,368.5L554.9,365.9L554.9,363.2L554.9,360.6L554.9,357.9L554.9,355.2L554.9,352.6L554.9,349.9L554.9,347.3L554.9,344.6L554.9,342.0L554.9,339.3L554.9,336.6L554.9,334.0L554.9,331.3L554.9,328.7L554.9,326.0L554.9,323.4L554.9,320.7L554.9,318.0L554.9,315.4L554.9,312.7L554.9,310.1L554.9,307.4L554.9,304.8L554.9,302.1L554.9,299.4L554.9,296.8L554.9,294.1L554.9,291.5L554.9,288.8L554.9,288.0L549.3,287.8L543.7,287.5L538.2,287.3L532.6,287.0L527.0,286.7L521.5,286.3L518.4,286.2L515.9,286.0L510.4,285.6L504.8,285.3L499.2,284.9L493.7,284.5L488.1,284.0L482.6,283.5L482.1,283.5L477.0,283.0L471.4,282.5L465.9,281.9L460.3,281.4L455.4,280.8L454.7,280.8L449.2,280.2L443.6,279.5L438.1,278.7L434.2,278.2L432.5,277.9L426.9,277.1L421.4,276.3L416.6,275.5L415.8,275.4L410.3,274.5L404.7,273.6L399.9,272.9L399.1,272.7L393.6,271.9L388.0,271.0L383.2,270.2L382.5,270.1L376.9,269.2L371.3,268.3L366.4,267.6L365.8,267.5L360.2,266.6L354.6,265.6L350.4,264.9L349.1,264.7L343.5,263.7L338.0,262.6L335.6,262.2L332.4,261.7L326.8,261.0L321.3,260.2L317.1,259.6L315.7,259.4L310.2,258.5L304.6,257.6L301.1,256.9L299.0,256.6L293.5,255.5L287.9,254.5L286.8,254.3L282.3,253.4L276.8,252.3L274.0,251.6L271.2,251.0L265.7,249.6L263.5,249.0L260.1,248.0L254.5,246.4L254.0,246.3L249.0,244.9L244.6,243.6L243.4,243.3L237.9,241.8L234.5,241.0L232.3,240.5L226.7,239.3L222.0,238.3L221.2,238.2L215.6,236.7L211.7,235.7L210.1,235.3L204.5,233.9L200.4,233.0L198.9,232.7L193.4,231.5L188.1,230.4L187.8,230.3L182.2,229.1L176.7,227.9L175.8,227.7L171.1,226.6L165.6,225.3L164.4,225.0L160.0,224.0L154.4,222.6L153.5,222.4L148.9,221.2L143.3,219.8L142.9,219.7L137.8,218.4L132.5,217.1L132.2,217.0L126.6,215.6L122.2,214.4L121.1,214.1L115.5,212.7L112.1,211.8L110.0,211.2L110.0,211.8L110.0,214.4L110.0,217.1L110.0,219.7L110.0,222.4L110.0,225.0L110.0,227.7L110.0,230.4L110.0,233.0L110.0,235.7L110.0,238.3L110.0,241.0L110.0,243.6L110.0,246.3L110.0,249.0L110.0,251.6L110.0,254.3L110.0,256.9L110.0,259.6L110.0,262.2L110.0,264.9L110.0,267.6L110.0,270.2L110.0,272.9L110.0,275.5L110.0,278.2L110.0,280.8L110.0,283.5L110.0,286.2L110.0,288.8L110.0,291.5L110.0,294.1L110.0,296.8L110.0,299.4L110.0,302.1L110.0,304.8L110.0,307.4L110.0,310.1L110.0,312.7L110.0,315.4L110.0,318.0L110.0,320.7L110.0,323.4L110.0,326.0L110.0,328.7L110.0,331.3L110.0,334.0L110.0,336.6L110.0,339.3L110.0,342.0L110.0,344.6L110.0,347.3L110.0,349.9L110.0,352.6L110.0,355.2L110.0,357.9L110.0,360.6L110.0,363.2L110.0,365.9L110.0,368.5L110.0,371.2L110.0,373.8L110.0,376.5L115.5,376.5ZM538.2,177.5L543.7,178.0L549.3,178.4L554.9,178.8L554.9,177.2L554.9,174.6L554.9,171.9L554.9,169.2L554.9,166.6L554.9,163.9L554.9,161.3L554.9,158.6L554.9,156.0L554.9,153.3L554.9,150.6L554.9,148.0L554.9,145.3L554.9,142.7L554.9,140.0L554.9,137.4L554.9,134.7L554.9,132.0L554.9,129.4L554.9,126.7L554.9,124.1L554.9,121.4L554.9,118.8L554.9,116.1L554.9,113.4L554.9,110.8L554.9,108.1L554.9,105.5L554.9,102.8L554.9,100.2L554.9,97.5L554.9,94.8L554.9,92.2L554.9,89.5L554.9,86.9L554.9,84.2L554.9,81.6L554.9,78.9L554.9,76.2L554.9,73.6L554.9,70.9L554.9,68.3L554.9,65.6L554.9,63.0L554.9,60.3L554.9,57.6L554.9,55.0L554.9,52.3L554.9,49.7L554.9,47.0L554.9,44.4L554.9,41.7L554.9,39.0L554.9,36.4L554.9,33.7L554.9,31.1L554.9,28.4L554.9,25.8L554.9,23.1L554.9,20.4L554.9,17.8L554.9,15.1L554.9,12.5L554.9,9.8L554.9,7.2L549.3,7.2L543.7,7.2L538.2,7.2L532.6,7.2L527.0,7.2L521.5,7.2L515.9,7.2L510.4,7.2L504.8,7.2L499.2,7.2L493.7,7.2L488.1,7.2L482.6,7.2L477.0,7.2L471.4,7.2L465.9,7.2L460.3,7.2L454.7,7.2L449.2,7.2L443.6,7.2L438.1,7.2L432.5,7.2L426.9,7.2L421.4,7.2L415.8,7.2L410.3,7.2L404.7,7.2L399.1,7.2L393.6,7.2L388.0,7.2L382.5,7.2L376.9,7.2L371.3,7.2L365.8,7.2L360.2,7.2L354.6,7.2L349.1,7.2L343.5,7.2L338.0,7.2L332.4,7.2L326.8,7.2L321.3,7.2L315.7,7.2L310.2,7.2L304.6,7.2L299.0,7.2L293.5,7.2L287.9,7.2L282.3,7.2L276.8,7.2L271.2,7.2L265.7,7.2L260.1,7.2L254.5,7.2L249.0,7.2L243.4,7.2L237.9,7.2L232.3,7.2L226.7,7.2L221.2,7.2L215.6,7.2L210.1,7.2L204.5,7.2L198.9,7.2L193.4,7.2L187.8,7.2L182.2,7.2L176.7,7.2L171.1,7.2L165.6,7.2L160.0,7.2L154.4,7.2L148.9,7.2L143.3,7.2L137.8,7.2L132.2,7.2L126.6,7.2L121.1,7.2L115.5,7.2L110.0,7.2L110.0,9.8L110.0,12.5L110.0,15.1L110.0,17.8L110.0,20.4L110.0,23.1L110.0,25.8L110.0,28.4L110.0,31.1L110.0,33.7L110.0,36.4L110.0,39.0L110.0,41.7L110.0,44.4L110.0,47.0L110.0,49.7L110.0,52.3L110.0,55.0L110.0,57.6L110.0,60.3L110.0,63.0L110.0,65.6L110.0,67.2L113.2,68.3L115.5,69.0L121.1,70.8L121.5,70.9L126.6,72.6L129.9,73.6L132.2,74.3L137.8,76.0L138.4,76.2L143.3,77.8L147.0,78.9L148.9,79.5L154.4,81.2L155.8,81.6L160.0,82.8L164.7,84.2L165.6,84.5L171.1,86.1L174.0,86.9L176.7,87.6L182.2,89.1L183.8,89.5L187.8,90.6L193.4,92.0L193.9,92.2L198.9,93.5L203.7,94.8L204.5,95.1L210.1,96.6L212.9,97.5L215.6,98.3L221.2,100.1L221.5,100.2L226.7,101.8L229.5,102.8L232.3,103.8L236.7,105.5L237.9,105.9L243.4,108.1L243.4,108.2L249.0,110.5L249.7,110.8L254.5,112.8L256.0,113.4L260.1,115.2L262.3,116.1L265.7,117.5L268.9,118.8L271.2,119.7L276.0,121.4L276.8,121.7L282.3,123.6L283.6,124.1L287.9,125.5L291.5,126.7L293.5,127.4L299.0,129.2L299.5,129.4L304.6,131.0L307.8,132.0L310.2,132.8L315.7,134.5L316.3,134.7L321.3,136.2L325.4,137.4L326.8,137.8L332.4,139.3L334.7,140.0L338.0,141.0L343.5,142.6L343.9,142.7L349.1,144.1L353.7,145.3L354.6,145.6L360.2,147.0L363.9,148.0L365.8,148.4L371.3,149.8L374.6,150.6L376.9,151.2L382.5,152.5L385.6,153.3L388.0,153.9L393.6,155.2L396.7,156.0L399.1,156.5L404.7,157.8L408.0,158.6L410.3,159.1L415.8,160.4L419.7,161.3L421.4,161.7L426.9,162.9L431.9,163.9L432.5,164.1L438.1,165.2L443.6,166.3L445.2,166.6L449.2,167.2L454.7,168.1L460.3,168.9L463.0,169.2L465.9,169.6L471.4,170.4L477.0,171.1L482.6,171.9L482.9,171.9L488.1,172.5L493.7,173.2L499.2,173.8L504.8,174.4L506.5,174.6L510.4,174.9L515.9,175.5L521.5,176.0L527.0,176.5L532.6,177.0L534.7,177.2L538.2,177.5Z"/>
<path fill="#404688" d="M115.5,376.5L121.1,376.5L126.6,376.5L132.2,376.5L137.8,376.5L143.3,376.5L148.9,376.5L154.4,376.5L160.0,376.5L165.6,376.5L171.1,376.5L176.7,376.5L182.2,376.5L187.8,376.5L193.4,376.5L198.9,376.5L204.5,376.5L210.1,376.5L215.6,376.5L221.2,376.5L226.7,376.5L232.3,376.5L237.9,376.5L243.4,376.5L249.0,376.5L254.5,376.5L260.1,376.5L265.7,376.5L271.2,376.5L276.8,376.5L282.3,376.5L287.9,376.5L293.5,376.5L299.0,376.5L304.6,376.5L310.2,376.5L315.7,376.5L321.3,376.5L326.8,376.5L332.4,376.5L338.0,376.5L343.5,376.5L349.1,376.5L354.6,376.5L360.2,376.5L365.8,376.5L371.3,376.5L376.9,376.5L382.5,376.5L388.0,376.5L393.6,376.5L399.1,376.5L404.7,376.5L410.3,376.5L415.8,376.5L421.4,376.5L426.9,376.5L432.5,376.5L438.1,376.5L443.6,376.5L449.2,376.5L454.7,376.5L460.3,376.5L465.9,376.5L471.4,376.5L477.0,376.5L482.6,376.5L488.1,376.5L493.7,376.5L499.2,376.5L504.8,376.5L510.4,376.5L515.9,376.5L521.5,376.5L527.0,376.5L532.6,376.5L538.2,376.5L543.7,376.5L549.3,376.5L554.9,376.5L554.9,373.8L554.9,371.2L554.9,368.5L554.9,365.9L554.9,363.2L554.9,360.6L554.9,357.9L554.9,355.2L554.9,352.6L554.9,349.9L554.9,347.3L554.9,344.6L554.9,342.0L554.9,339.3L554.9,336.6L554.9,334.0L554.9,331.3L554.9,328.7L554.9,326.0L554.9,323.4L554.9,320.7L554.9,318.0L554.9,315.4L554.9,312.7L554.9,310.1L554.9,307.4L554.9,304.8L554.9,302.1L554.9,299.4L554.9,296.8L554.9,294.1L554.5,294.1L549.3,293.9L543.7,293.6L538.2,293.3L532.6,293.0L527.0,292.6L521.5,292.3L515.9,291.9L510.4,291.5L510.4,291.5L504.8,291.1L499.2,290.6L493.7,290.2L488.1,289.7L482.6,289.2L479.0,288.8L477.0,288.6L471.4,288.0L465.9,287.5L460.3,286.8L454.7,286.2L454.2,286.2L449.2,285.6L443.6,284.9L438.1,284.0L434.8,283.5L432.5,283.1L426.9,282.2L421.4,281.3L418.6,280.8L415.8,280.4L410.3,279.4L404.7,278.5L403.1,278.2L399.1,277.5L393.6,276.6L388.0,275.6L387.6,275.5L382.5,274.7L376.9,273.7L371.8,272.9L371.3,272.8L365.8,271.8L360.2,270.9L356.4,270.2L354.6,269.9L349.1,268.9L343.5,267.8L342.1,267.6L338.0,266.8L332.4,265.8L326.8,265.0L325.9,264.9L321.3,264.3L315.7,263.4L310.2,262.5L308.6,262.2L304.6,261.6L299.0,260.6L293.7,259.6L293.5,259.5L287.9,258.5L282.3,257.4L280.1,256.9L276.8,256.2L271.2,255.0L268.4,254.3L265.7,253.6L260.1,252.1L258.5,251.6L254.5,250.5L249.2,249.0L249.0,248.9L243.4,247.4L239.4,246.3L237.9,245.9L232.3,244.5L228.1,243.6L226.7,243.4L221.2,242.2L216.5,241.0L215.6,240.7L210.1,239.3L206.1,238.3L204.5,237.9L198.9,236.7L194.5,235.7L193.4,235.4L187.8,234.2L182.5,233.0L182.2,233.0L176.7,231.7L171.1,230.4L170.8,230.4L165.6,229.1L160.0,227.7L159.9,227.7L154.4,226.3L149.4,225.0L148.9,224.9L143.3,223.5L139.1,222.4L137.8,222.0L132.2,220.6L128.9,219.7L126.6,219.1L121.1,217.7L118.9,217.1L115.5,216.2L110.0,214.7L110.0,217.1L110.0,219.7L110.0,222.4L110.0,225.0L110.0,227.7L110.0,230.4L110.0,233.0L110.0,235.7L110.0,238.3L110.0,241.0L110.0,243.6L110.0,246.3L110.0,249.0L110.0,251.6L110.0,254.3L110.0,256.9L110.0,259.6L110.0,262.2L110.0,264.9L110.0,267.6L110.0,270.2L110.0,272.9L110.0,275.5L110.0,278.2L110.0,280.8L110.0,283.5L110.0,286.2L110.0,288.8L110.0,291.5L110.0,294.1L110.0,296.8L110.0,299.4L110.0,302.1L110.0,304.8L110.0,307.4L110.0,310.1L110.0,312.7L110.0,315.4L110.0,318.0L110.0,320.7L110.0,323.4L110.0,326.0L110.0,328.7L110.0,331.3L110.0,334.0L110.0,336.6L110.0,339.3L110.0,342.0L110.0,344.6L110.0,347.3L110.0,349.9L110.0,352.6L110.0,355.2L110.0,357.9L110.0,360.6L110.0,363.2L110.0,365.9L110.0,368.5L110.0,371.2L110.0,373.8L110.0,376.5L115.5,376.5ZM554.9,174.9L554.9,174.6L554.9,171.9L554.9,169.2L554.9,166.6L554.9,163.9L554.9,161.3L554.9,158.6L554.9,156.0L554.9,153.3L554.9,150.6L554.9,148.0L554.9,145.3L554.9,142.7L554.9,140.0L554.9,137.4L554.9,134.7L554.9,132.0L554.9,129.4L554.9,126.7L554.9,124.1L554.9,121.4L554.9,118.8L554.9,116.1L554.9,113.4L554.9,110.8L554.9,108.1L554.9,105.5L554.9,102.8L554.9,100.2L554.9,97.5L554.9,94.8L554.9,92.2L554.9,89.5L554.9,86.9L554.9,84.2L554.9,81.6L554.9,78.9L554.9,76.2L554.9,73.6L554.9,70.9L554.9,68.3L554.9,65.6L554.9,63.0L554.9,60.3L554.9,57.6L554.9,55.0L554.9,52.3L554.9,49.7L554.9,47.0L554.9,44.4L554.9,41.7L554.9,39.0L554.9,36.4L554.9,33.7L554.9,31.1L554.9,28.4L554.9,25.8L554.9,23.1L554.9,20.4L554.9,17.8L554.9,15.1L554.9,12.5L554.9,9.8L554.9,7.2L549.3,7.2L543.7,7.2L538.2,7.2L532.6,7.2L527.0,7.2L521.5,7.2L515.9,7.2L510.4,7.2L504.8,7.2L499.2,7.2L493.7,7.2L488.1,7.2L482.6,7.2L477.0,7.2L471.4,7.2L465.9,7.2L460.3,7.2L454.7,7.2L449.2,7.2L443.6,7.2L438.1,7.2L432.5,7.2L426.9,7.2L421.4,7.2L415.8,7.2L410.3,7.2L404.7,7.2L399.1,7.2L393.6,7.2L388.0,7.2L382.5,7.2L376.9,7.2L371.3,7.2L365.8,7.2L360.2,7.2L354.6,7.2L349.1,7.2L343.5,7.2L338.0,7.2L332.4,7.2L326.8,7.2L321.3,7.2L315.7,7.2L310.2,7.2L304.6,7.2L299.0,7.2L293.5,7.2L287.9,7.2L282.3,7.2L276.8,7.2L271.2,7.2L265.7,7.2L260.1,7.2L254.5,7.2L249.0,7.2L243.4,7.2L237.9,7.2L232.3,7.2L226.7,7.2L221.2,7.2L215.6,7.2L210.1,7.2L204.5,7.2L198.9,7.2L193.4,7.2L187.8,7.2L182.2,7.2L176.7,7.2L171.1,7.2L165.6,7.2L160.0,7.2L154.4,7.2L148.9,7.2L143.3,7.2L137.8,7.2L132.2,7.2L126.6,7.2L121.1,7.2L115.5,7.2L110.0,7.2L110.0,9.8L110.0,12.5L110.0,15.1L110.0,17.8L110.0,20.4L110.0,23.1L110.0,25.8L110.0,28.4L110.0,31.1L110.0,33.7L110.0,36.4L110.0,39.0L110.0,41.7L110.0,44.4L110.0,47.0L110.0,49.7L110.0,52.3L110.0,55.0L110.0,57.6L110.0,60.3L110.0,62.7L110.6,63.0L115.5,64.5L118.9,65.6L121.1,66.3L126.6,68.1L127.3,68.3L132.2,69.8L135.8,70.9L137.8,71.5L143.3,73.2L144.5,73.6L148.9,74.9L153.3,76.2L154.4,76.6L160.0,78.3L162.2,78.9L165.6,79.9L171.1,81.5L171.4,81.6L176.7,83.0L181.2,84.2L182.2,84.5L187.8,86.0L191.3,86.9L193.4,87.4L198.9,88.9L201.3,89.5L204.5,90.4L210.1,92.0L210.8,92.2L215.6,93.6L219.5,94.8L221.2,95.4L226.7,97.1L227.9,97.5L232.3,99.0L235.3,100.2L237.9,101.1L242.1,102.8L243.4,103.3L248.6,105.5L249.0,105.6L254.5,108.0L254.9,108.1L260.1,110.3L261.3,110.8L265.7,112.5L268.0,113.4L271.2,114.7L275.0,116.1L276.8,116.7L282.3,118.6L282.7,118.8L287.9,120.5L290.6,121.4L293.5,122.4L298.7,124.1L299.0,124.2L304.6,125.9L307.1,126.7L310.2,127.7L315.7,129.4L315.8,129.4L321.3,131.0L324.9,132.0L326.8,132.6L332.4,134.1L334.3,134.7L338.0,135.8L343.4,137.4L343.5,137.4L349.1,139.0L352.8,140.0L354.6,140.5L360.2,142.0L362.7,142.7L365.8,143.5L371.3,144.9L373.0,145.3L376.9,146.3L382.5,147.7L383.6,148.0L388.0,149.1L393.6,150.4L394.3,150.6L399.1,151.8L404.7,153.2L405.2,153.3L410.3,154.5L415.8,155.8L416.3,156.0L421.4,157.1L426.9,158.4L428.0,158.6L432.5,159.6L438.1,160.8L440.3,161.3L443.6,161.9L449.2,162.9L454.7,163.8L455.9,163.9L460.3,164.6L465.9,165.4L471.4,166.2L474.3,166.6L477.0,167.0L482.6,167.7L488.1,168.4L493.7,169.1L495.1,169.2L499.2,169.7L504.8,170.3L510.4,170.9L515.9,171.5L519.9,171.9L521.5,172.1L527.0,172.6L532.6,173.1L538.2,173.6L543.7,174.1L549.3,174.5L549.6,174.6L554.9,174.9Z"/>
<path fill="#3e4c8a" d="M115.5,376.5L121.1,376.5L126.6,376.5L132.2,376.5L137.8,376.5L143.3,376.5L148.9,376.5L154.4,376.5L160.0,376.5L165.6,376.5L171.1,376.5L176.7,376.5L182.2,376.5L187.8,376.5L193.4,376.5L198.9,376.5L204.5,376.5L210.1,376.5L215.6,376.5L221.2,376.5L226.7,376.5L232.3,376.5L237.9,376.5L243.4,376.5L249.0,376.5L254.5,376.5L260.1,376.5L265.7,376.5L271.2,376.5L276.8,376.5L282.3,376.5L287.9,376.5L293.5,376.5L299.0,376.5L304.6,376.5L310.2,376.5L315.7,376.5L321.3,376.5L326.8,376.5L332.4,376.5L338.0,376.5L343.5,376.5L349.1,376.5L354.6,376.5L360.2,376.5L365.8,376.5L371.3,376.5L376.9,376.5L382.5,376.5L388.0,376.5L393.6,376.5L399.1,376.5L404.7,376.5L410.3,376.5L415.8,376.5L421.4,376.5L426.9,376.5L432.5,376.5L438.1,376.5L443.6,376.5L449.2,376.5L454.7,376.5L460.3,376.5L465.9,376.5L471.4,376.5L477.0,376.5L482.6,376.5L488.1,376.5L493.7,376.5L499.2,376.5L504.8,376.5L510.4,376.5L515.9,376.5L521.5,376.5L527.0,376.5L532.6,376.5L538.2,376.5L543.7,376.5L549.3,376.5L554.9,376.5L554.9,373.8L554.9,371.2L554.9,368.5L554.9,365.9L554.9,363.2L554.9,360.6L554.9,357.9L554.9,355.2L554.9,352.6L554.9,349.9L554.9,347.3L554.9,344.6L554.9,342.0L554.9,339.3L554.9,336.6L554.9,334.0L554.9,331.3L554.9,328.7L554.9,326.0L554.9,323.4L554.9,320.7L554.9,318.0L554.9,315.4L554.9,312.7L554.9,310.1L554.9,307.4L554.9,304.8L554.9,302.1L554.9,300.9L549.3,300.6L543.7,300.2L538.2,299.8L533.2,299.4L532.6,299.4L527.0,299.0L521.5,298.5L515.9,298.1L510.4,297.6L504.8,297.1L500.9,296.8L499.2,296.6L493.7,296.1L488.1,295.6L482.6,295.0L477.0,294.4L474.7,294.1L471.4,293.8L465.9,293.1L460.3,292.4L454.7,291.8L452.3,291.5L449.2,291.1L443.6,290.3L438.1,289.4L434.7,288.8L432.5,288.4L426.9,287.5L421.4,286.5L419.6,286.2L415.8,285.5L410.3,284.5L405.0,283.5L404.7,283.4L399.1,282.4L393.6,281.4L390.6,280.8L388.0,280.4L382.5,279.4L376.9,278.4L375.9,278.2L371.3,277.4L365.8,276.4L361.3,275.5L360.2,275.3L354.6,274.3L349.1,273.2L347.3,272.9L343.5,272.1L338.0,271.0L333.9,270.2L332.4,269.9L326.8,269.2L321.3,268.4L315.7,267.6L315.5,267.6L310.2,266.7L304.6,265.8L299.7,264.9L299.0,264.8L293.5,263.7L287.9,262.7L285.8,262.2L282.3,261.6L276.8,260.4L273.1,259.6L271.2,259.1L265.7,257.7L262.7,256.9L260.1,256.2L254.5,254.6L253.3,254.3L249.0,253.0L244.0,251.6L243.4,251.5L237.9,249.9L233.9,249.0L232.3,248.6L226.7,247.3L221.6,246.3L221.2,246.2L215.6,244.7L211.4,243.6L210.1,243.3L204.5,241.9L200.3,241.0L198.9,240.7L193.4,239.4L188.3,238.3L187.8,238.2L182.2,237.0L176.7,235.7L176.4,235.7L171.1,234.4L165.6,233.1L165.3,233.0L160.0,231.7L154.9,230.4L154.4,230.2L148.9,228.8L144.7,227.7L143.3,227.3L137.8,225.9L134.7,225.0L132.2,224.4L126.6,222.9L124.9,222.4L121.1,221.4L115.5,219.8L115.2,219.7L110.0,218.3L110.0,219.7L110.0,222.4L110.0,225.0L110.0,227.7L110.0,230.4L110.0,233.0L110.0,235.7L110.0,238.3L110.0,241.0L110.0,243.6L110.0,246.3L110.0,249.0L110.0,251.6L110.0,254.3L110.0,256.9L110.0,259.6L110.0,262.2L110.0,264.9L110.0,267.6L110.0,270.2L110.0,272.9L110.0,275.5L110.0,278.2L110.0,280.8L110.0,283.5L110.0,286.2L110.0,288.8L110.0,291.5L110.0,294.1L110.0,296.8L110.0,299.4L110.0,302.1L110.0,304.8L110.0,307.4L110.0,310.1L110.0,312.7L110.0,315.4L110.0,318.0L110.0,320.7L110.0,323.4L110.0,326.0L110.0,328.7L110.0,331.3L110.0,334.0L110.0,336.6L110.0,339.3L110.0,342.0L110.0,344.6L110.0,347.3L110.0,349.9L110.0,352.6L110.0,355.2L110.0,357.9L110.0,360.6L110.0,363.2L110.0,365.9L110.0,368.5L110.0,371.2L110.0,373.8L110.0,376.5L115.5,376.5ZM538.2,169.7L543.7,170.2L549.3,170.7L554.9,171.2L554.9,169.2L554.9,166.6L554.9,163.9L554.9,161.3L554.9,158.6L554.9,156.0L554.9,153.3L554.9,150.6L554.9,148.0L554.9,145.3L554.9,142.7L554.9,140.0L554.9,137.4L554.9,134.7L554.9,132.0L554.9,129.4L554.9,126.7L554.9,124.1L554.9,121.4L554.9,118.8L554.9,116.1L554.9,113.4L554.9,110.8L554.9,108.1L554.9,105.5L554.9,102.8L554.9,100.2L554.9,97.5L554.9,94.8L554.9,92.2L554.9,89.5L554.9,86.9L554.9,84.2L554.9,81.6L554.9,78.9L554.9,76.2L554.9,73.6L554.9,70.9L554.9,68.3L554.9,65.6L554.9,63.0L554.9,60.3L554.9,57.6L554.9,55.0L554.9,52.3L554.9,49.7L554.9,47.0L554.9,44.4L554.9,41.7L554.9,39.0L554.9,36.4L554.9,33.7L554.9,31.1L554.9,28.4L554.9,25.8L554.9,23.1L554.9,20.4L554.9,17.8L554.9,15.1L554.9,12.5L554.9,9.8L554.9,7.2L549.3,7.2L543.7,7.2L538.2,7.2L532.6,7.2L527.0,7.2L521.5,7.2L515.9,7.2L510.4,7.2L504.8,7.2L499.2,7.2L493.7,7.2L488.1,7.2L482.6,7.2L477.0,7.2L471.4,7.2L465.9,7.2L460.3,7.2L454.7,7.2L449.2,7.2L443.6,7.2L438.1,7.2L432.5,7.2L426.9,7.2L421.4,7.2L415.8,7.2L410.3,7.2L404.7,7.2L399.1,7.2L393.6,7.2L388.0,7.2L382.5,7.2L376.9,7.2L371.3,7.2L365.8,7.2L360.2,7.2L354.6,7.2L349.1,7.2L343.5,7.2L338.0,7.2L332.4,7.2L326.8,7.2L321.3,7.2L315.7,7.2L310.2,7.2L304.6,7.2L299.0,7.2L293.5,7.2L287.9,7.2L282.3,7.2L276.8,7.2L271.2,7.2L265.7,7.2L260.1,7.2L254.5,7.2L249.0,7.2L243.4,7.2L237.9,7.2L232.3,7.2L226.7,7.2L221.2,7.2L215.6,7.2L210.1,7.2L204.5,7.2L198.9,7.2L193.4,7.2L187.8,7.2L182.2,7.2L176.7,7.2L171.1,7.2L165.6,7.2L160.0,7.2L154.4,7.2L148.9,7.2L143.3,7.2L137.8,7.2L132.2,7.2L126.6,7.2L121.1,7.2L115.5,7.2L110.0,7.2L110.0,9.8L110.0,12.5L110.0,15.1L110.0,17.8L110.0,20.4L110.0,23.1L110.0,25.8L110.0,28.4L110.0,31.1L110.0,33.7L110.0,36.4L110.0,39.0L110.0,41.7L110.0,44.4L110.0,47.0L110.0,49.7L110.0,52.3L110.0,55.0L110.0,57.6L110.0,58.3L115.5,60.1L116.2,60.3L121.1,61.8L124.6,63.0L126.6,63.6L132.2,65.3L133.1,65.6L137.8,67.1L141.7,68.3L143.3,68.8L148.9,70.5L150.4,70.9L154.4,72.1L159.3,73.6L160.0,73.8L165.6,75.4L168.4,76.2L171.1,77.0L176.7,78.5L178.0,78.9L182.2,80.0L187.8,81.5L188.1,81.6L193.4,82.9L198.3,84.2L198.9,84.4L204.5,85.9L207.9,86.9L210.1,87.5L215.6,89.1L216.9,89.5L221.2,90.9L225.5,92.2L226.7,92.6L232.3,94.5L233.3,94.8L237.9,96.5L240.3,97.5L243.4,98.7L247.0,100.2L249.0,101.0L253.4,102.8L254.5,103.3L259.9,105.5L260.1,105.6L265.7,107.8L266.5,108.1L271.2,109.9L273.6,110.8L276.8,111.9L281.2,113.4L282.3,113.8L287.9,115.7L289.3,116.1L293.5,117.5L297.5,118.8L299.0,119.2L304.6,121.0L305.9,121.4L310.2,122.7L314.7,124.1L315.7,124.4L321.3,126.0L323.9,126.7L326.8,127.5L332.4,129.0L333.5,129.4L338.0,130.7L342.5,132.0L343.5,132.3L349.1,133.9L351.8,134.7L354.6,135.5L360.2,137.0L361.5,137.4L365.8,138.5L371.3,139.9L371.6,140.0L376.9,141.4L381.8,142.7L382.5,142.8L388.0,144.2L392.2,145.3L393.6,145.7L399.1,147.1L402.6,148.0L404.7,148.5L410.3,149.9L413.3,150.6L415.8,151.2L421.4,152.6L424.4,153.3L426.9,153.9L432.5,155.2L436.0,156.0L438.1,156.4L443.6,157.6L449.2,158.6L449.3,158.6L454.7,159.5L460.3,160.3L465.9,161.2L466.6,161.3L471.4,162.0L477.0,162.8L482.6,163.5L485.4,163.9L488.1,164.3L493.7,165.0L499.2,165.7L504.8,166.3L507.3,166.6L510.4,166.9L515.9,167.5L521.5,168.1L527.0,168.7L532.6,169.2L532.8,169.2L538.2,169.7Z"/>
<path fill="#3b518b" d="M115.5,376.5L121.1,376.5L126.6,376.5L132.2,376.5L137.8,376.5L143.3,376.5L148.9,376.5L154.4,376.5L160.0,376.5L165.6,376.5L171.1,376.5L176.7,376.5L182.2,376.5L187.8,376.5L193.4,376.5L198.9,376.5L204.5,376.5L210.1,376.5L215.6,376.5L221.2,376.5L226.7,376.5L232.3,376.5L237.9,376.5L243.4,376.5L249.0,376.5L254.5,376.5L260.1,376.5L265.7,376.5L271.2,376.5L276.8,376.5L282.3,376.5L287.9,376.5L293.5,376.5L299.0,376.5L304.6,376.5L310.2,376.5L315.7,376.5L321.3,376.5L326.8,376.5L332.4,376.5L338.0,376.5L343.5,376.5L349.1,376.5L354.6,376.5L360.2,376.5L365.8,376.5L371.3,376.5L376.9,376.5L382.5,376.5L388.0,376.5L393.6,376.5L399.1,376.5L404.7,376.5L410.3,376.5L415.8,376.5L421.4,376.5L426.9,376.5L432.5,376.5L438.1,376.5L443.6,376.5L449.2,376.5L454.7,376.5L460.3,376.5L465.9,376.5L471.4,376.5L477.0,376.5L482.6,376.5L488.1,376.5L493.7,376.5L499.2,376.5L504.8,376.5L510.4,376.5L515.9,376.5L521.5,376.5L527.0,376.5L532.6,376.5L538.2,376.5L543.7,376.5L549.3,376.5L554.9,376.5L554.9,373.8L554.9,371.2L554.9,368.5L554.9,365.9L554.9,363.2L554.9,360.6L554.9,357.9L554.9,355.2L554.9,352.6L554.9,349.9L554.9,347.3L554.9,344.6L554.9,342.0L554.9,339.3L554.9,336.6L554.9,334.0L554.9,331.3L554.9,328.7L554.9,326.0L554.9,323.4L554.9,320.7L554.9,318.0L554.9,315.4L554.9,312.7L554.9,310.1L554.9,307.8L550.2,307.4L549.3,307.3L543.7,306.8L538.2,306.3L532.6,305.8L527.0,305.3L521.5,304.8L521.3,304.8L515.9,304.2L510.4,303.7L504.8,303.1L499.2,302.5L495.2,302.1L493.7,301.9L488.1,301.3L482.6,300.7L477.0,300.0L472.6,299.4L471.4,299.3L465.9,298.6L460.3,297.9L454.7,297.1L452.2,296.8L449.2,296.4L443.6,295.5L438.1,294.6L435.5,294.1L432.5,293.6L426.9,292.6L421.4,291.6L420.9,291.5L415.8,290.5L410.3,289.5L406.9,288.8L404.7,288.4L399.1,287.3L393.6,286.3L393.0,286.2L388.0,285.2L382.5,284.2L378.9,283.5L376.9,283.1L371.3,282.1L365.8,281.0L364.7,280.8L360.2,280.0L354.6,278.9L351.1,278.2L349.1,277.8L343.5,276.6L338.4,275.5L338.0,275.4L332.4,274.3L326.8,273.6L321.7,272.9L321.3,272.8L315.7,271.9L310.2,271.0L305.6,270.2L304.6,270.0L299.0,269.0L293.5,267.9L291.6,267.6L287.9,266.8L282.3,265.7L278.8,264.9L276.8,264.5L271.2,263.2L267.7,262.2L265.7,261.7L260.1,260.1L258.2,259.6L254.5,258.5L249.1,256.9L249.0,256.9L243.4,255.3L239.8,254.3L237.9,253.7L232.3,252.3L229.3,251.6L226.7,251.0L221.2,249.9L217.7,249.0L215.6,248.4L210.1,247.0L207.0,246.3L204.5,245.7L198.9,244.4L195.2,243.6L193.4,243.2L187.8,242.0L183.0,241.0L182.2,240.8L176.7,239.6L171.2,238.3L171.1,238.3L165.6,237.0L160.4,235.7L160.0,235.6L154.4,234.2L150.0,233.0L148.9,232.7L143.3,231.3L139.8,230.4L137.8,229.8L132.2,228.3L129.9,227.7L126.6,226.8L121.1,225.3L120.2,225.0L115.5,223.7L110.6,222.4L110.0,222.2L110.0,222.4L110.0,225.0L110.0,227.7L110.0,230.4L110.0,233.0L110.0,235.7L110.0,238.3L110.0,241.0L110.0,243.6L110.0,246.3L110.0,249.0L110.0,251.6L110.0,254.3L110.0,256.9L110.0,259.6L110.0,262.2L110.0,264.9L110.0,267.6L110.0,270.2L110.0,272.9L110.0,275.5L110.0,278.2L110.0,280.8L110.0,283.5L110.0,286.2L110.0,288.8L110.0,291.5L110.0,294.1L110.0,296.8L110.0,299.4L110.0,302.1L110.0,304.8L110.0,307.4L110.0,310.1L110.0,312.7L110.0,315.4L110.0,318.0L110.0,320.7L110.0,323.4L110.0,326.0L110.0,328.7L110.0,331.3L110.0,334.0L110.0,336.6L110.0,339.3L110.0,342.0L110.0,344.6L110.0,347.3L110.0,349.9L110.0,352.6L110.0,355.2L110.0,357.9L110.0,360.6L110.0,363.2L110.0,365.9L110.0,368.5L110.0,371.2L110.0,373.8L110.0,376.5L115.5,376.5ZM549.3,166.9L554.9,167.3L554.9,166.6L554.9,163.9L554.9,161.3L554.9,158.6L554.9,156.0L554.9,153.3L554.9,150.6L554.9,148.0L554.9,145.3L554.9,142.7L554.9,140.0L554.9,137.4L554.9,134.7L554.9,132.0L554.9,129.4L554.9,126.7L554.9,124.1L554.9,121.4L554.9,118.8L554.9,116.1L554.9,113.4L554.9,110.8L554.9,108.1L554.9,105.5L554.9,102.8L554.9,100.2L554.9,97.5L554.9,94.8L554.9,92.2L554.9,89.5L554.9,86.9L554.9,84.2L554.9,81.6L554.9,78.9L554.9,76.2L554.9,73.6L554.9,70.9L554.9,68.3L554.9,65.6L554.9,63.0L554.9,60.3L554.9,57.6L554.9,55.0L554.9,52.3L554.9,49.7L554.9,47.0L554.9,44.4L554.9,41.7L554.9,39.0L554.9,36.4L554.9,33.7L554.9,31.1L554.9,28.4L554.9,25.8L554.9,23.1L554.9,20.4L554.9,17.8L554.9,15.1L554.9,12.5L554.9,9.8L554.9,7.2L549.3,7.2L543.7,7.2L538.2,7.2L532.6,7.2L527.0,7.2L521.5,7.2L515.9,7.2L510.4,7.2L504.8,7.2L499.2,7.2L493.7,7.2L488.1,7.2L482.6,7.2L477.0,7.2L471.4,7.2L465.9,7.2L460.3,7.2L454.7,7.2L449.2,7.2L443.6,7.2L438.1,7.2L432.5,7.2L426.9,7.2L421.4,7.2L415.8,7.2L410.3,7.2L404.7,7.2L399.1,7.2L393.6,7.2L388.0,7.2L382.5,7.2L376.9,7.2L371.3,7.2L365.8,7.2L360.2,7.2L354.6,7.2L349.1,7.2L343.5,7.2L338.0,7.2L332.4,7.2L326.8,7.2L321.3,7.2L315.7,7.2L310.2,7.2L304.6,7.2L299.0,7.2L293.5,7.2L287.9,7.2L282.3,7.2L276.8,7.2L271.2,7.2L265.7,7.2L260.1,7.2L254.5,7.2L249.0,7.2L243.4,7.2L237.9,7.2L232.3,7.2L226.7,7.2L221.2,7.2L215.6,7.2L210.1,7.2L204.5,7.2L198.9,7.2L193.4,7.2L187.8,7.2L182.2,7.2L176.7,7.2L171.1,7.2L165.6,7.2L160.0,7.2L154.4,7.2L148.9,7.2L143.3,7.2L137.8,7.2L132.2,7.2L126.6,7.2L121.1,7.2L115.5,7.2L110.0,7.2L110.0,9.8L110.0,12.5L110.0,15.1L110.0,17.8L110.0,20.4L110.0,23.1L110.0,25.8L110.0,28.4L110.0,31.1L110.0,33.7L110.0,36.4L110.0,39.0L110.0,41.7L110.0,44.4L110.0,47.0L110.0,49.7L110.0,52.3L110.0,53.8L113.7,55.0L115.5,55.6L121.1,57.3L122.0,57.6L126.6,59.1L130.4,60.3L132.2,60.9L137.8,62.6L138.9,63.0L143.3,64.3L147.6,65.6L148.9,66.0L154.4,67.7L156.4,68.3L160.0,69.3L165.4,70.9L165.6,71.0L171.1,72.6L174.8,73.6L176.7,74.1L182.2,75.6L184.8,76.2L187.8,77.0L193.4,78.5L194.9,78.9L198.9,80.0L204.5,81.5L204.8,81.6L210.1,83.0L214.0,84.2L215.6,84.7L221.2,86.4L222.7,86.9L226.7,88.1L230.9,89.5L232.3,90.0L237.9,92.0L238.3,92.2L243.4,94.2L245.1,94.8L249.0,96.4L251.6,97.5L254.5,98.7L258.2,100.2L260.1,100.9L264.8,102.8L265.7,103.2L271.2,105.3L271.8,105.5L276.8,107.2L279.5,108.1L282.3,109.1L287.6,110.8L287.9,110.9L293.5,112.7L295.9,113.4L299.0,114.4L304.4,116.1L304.6,116.2L310.2,117.8L313.2,118.8L315.7,119.5L321.3,121.1L322.5,121.4L326.8,122.6L332.3,124.1L332.4,124.1L338.0,125.7L341.3,126.7L343.5,127.4L349.1,129.0L350.5,129.4L354.6,130.6L360.0,132.0L360.2,132.1L365.8,133.6L369.9,134.7L371.3,135.1L376.9,136.5L380.1,137.4L382.5,138.0L388.0,139.4L390.3,140.0L393.6,140.9L399.1,142.3L400.5,142.7L404.7,143.8L410.3,145.2L410.8,145.3L415.8,146.6L421.4,148.0L421.4,148.0L426.9,149.3L432.5,150.6L432.5,150.6L438.1,151.9L443.6,153.2L444.3,153.3L449.2,154.2L454.7,155.1L460.1,156.0L460.3,156.0L465.9,156.9L471.4,157.7L477.0,158.5L477.6,158.6L482.6,159.3L488.1,160.1L493.7,160.8L497.1,161.3L499.2,161.5L504.8,162.2L510.4,162.8L515.9,163.5L519.9,163.9L521.5,164.1L527.0,164.7L532.6,165.3L538.2,165.8L543.7,166.3L546.3,166.6L549.3,166.9Z"/>
<path fill="#38588c" d="M115.5,376.5L121.1,376.5L126.6,376.5L132.2,376.5L137.8,376.5L143.3,376.5L148.9,376.5L154.4,376.5L160.0,376.5L165.6,376.5L171.1,376.5L176.7,376.5L182.2,376.5L187.8,376.5L193.4,376.5L198.9,376.5L204.5,376.5L210.1,376.5L215.6,376.5L221.2,376.5L226.7,376.5L232.3,376.5L237.9,376.5L243.4,376.5L249.0,376.5L254.5,376.5L260.1,376.5L265.7,376.5L271.2,376.5L276.8,376.5L282.3,376.5L287.9,376.5L293.5,376.5L299.0,376.5L304.6,376.5L310.2,376.5L315.7,376.5L321.3,376.5L326.8,376.5L332.4,376.5L338.0,376.5L343.5,376.5L349.1,376.5L354.6,376.5L360.2,376.5L365.8,376.5L371.3,376.5L376.9,376.5L382.5,376.5L388.0,376.5L393.6,376.5L399.1,376.5L404.7,376.5L410.3,376.5L415.8,376.5L421.4,376.5L426.9,376.5L432.5,376.5L438.1,376.5L443.6,376.5L449.2,376.5L454.7,376.5L460.3,376.5L465.9,376.5L471.4,376.5L477.0,376.5L482.6,376.5L488.1,376.5L493.7,376.5L499.2,376.5L504.8,376.5L510.4,376.5L515.9,376.5L521.5,376.5L527.0,376.5L532.6,376.5L538.2,376.5L543.7,376.5L549.3,376.5L554.9,376.5L554.9,373.8L554.9,371.2L554.9,368.5L554.9,365.9L554.9,363.2L554.9,360.6L554.9,357.9L554.9,355.2L554.9,352.6L554.9,349.9L554.9,347.3L554.9,344.6L554.9,342.0L554.9,339.3L554.9,336.6L554.9,334.0L554.9,331.3L554.9,328.7L554.9,326.0L554.9,323.4L554.9,320.7L554.9,318.0L554.9,315.4L554.9,314.7L549.3,314.1L543.7,313.5L538.2,312.9L537.1,312.7L532.6,312.2L527.0,311.6L521.5,310.9L515.9,310.3L514.4,310.1L510.4,309.6L504.8,308.9L499.2,308.3L493.7,307.6L492.4,307.4L488.1,306.9L482.6,306.1L477.0,305.4L472.5,304.8L471.4,304.6L465.9,303.8L460.3,303.0L454.7,302.2L453.9,302.1L449.2,301.4L443.6,300.5L438.1,299.5L437.5,299.4L432.5,298.5L426.9,297.5L423.4,296.8L421.4,296.4L415.8,295.3L410.3,294.2L409.8,294.1L404.7,293.1L399.1,292.0L396.3,291.5L393.6,290.9L388.0,289.8L382.8,288.8L382.5,288.8L376.9,287.7L371.3,286.6L369.0,286.2L365.8,285.5L360.2,284.4L355.6,283.5L354.6,283.3L349.1,282.2L343.5,281.0L342.8,280.8L338.0,279.8L332.4,278.7L329.1,278.2L326.8,277.9L321.3,277.0L315.7,276.1L312.4,275.5L310.2,275.1L304.6,274.1L299.0,273.0L298.2,272.9L293.5,271.9L287.9,270.8L285.4,270.2L282.3,269.6L276.8,268.3L273.5,267.6L271.2,267.0L265.7,265.5L263.6,264.9L260.1,263.9L254.5,262.2L254.5,262.2L249.0,260.6L245.7,259.6L243.4,258.9L237.9,257.3L236.3,256.9L232.3,255.9L226.7,254.6L225.3,254.3L221.2,253.4L215.6,251.9L214.2,251.6L210.1,250.6L204.5,249.3L202.9,249.0L198.9,248.1L193.4,246.9L190.7,246.3L187.8,245.7L182.2,244.5L178.3,243.6L176.7,243.3L171.1,242.0L166.7,241.0L165.6,240.7L160.0,239.3L156.0,238.3L154.4,237.9L148.9,236.5L145.6,235.7L143.3,235.1L137.8,233.6L135.4,233.0L132.2,232.2L126.6,230.7L125.5,230.4L121.1,229.2L115.8,227.7L115.5,227.6L110.0,226.1L110.0,227.7L110.0,230.4L110.0,233.0L110.0,235.7L110.0,238.3L110.0,241.0L110.0,243.6L110.0,246.3L110.0,249.0L110.0,251.6L110.0,254.3L110.0,256.9L110.0,259.6L110.0,262.2L110.0,264.9L110.0,267.6L110.0,270.2L110.0,272.9L110.0,275.5L110.0,278.2L110.0,280.8L110.0,283.5L110.0,286.2L110.0,288.8L110.0,291.5L110.0,294.1L110.0,296.8L110.0,299.4L110.0,302.1L110.0,304.8L110.0,307.4L110.0,310.1L110.0,312.7L110.0,315.4L110.0,318.0L110.0,320.7L110.0,323.4L110.0,326.0L110.0,328.7L110.0,331.3L110.0,334.0L110.0,336.6L110.0,339.3L110.0,342.0L110.0,344.6L110.0,347.3L110.0,349.9L110.0,352.6L110.0,355.2L110.0,357.9L110.0,360.6L110.0,363.2L110.0,365.9L110.0,368.5L110.0,371.2L110.0,373.8L110.0,376.5L115.5,376.5ZM538.2,161.7L543.7,162.2L549.3,162.8L554.9,163.3L554.9,161.3L554.9,158.6L554.9,156.0L554.9,153.3L554.9,150.6L554.9,148.0L554.9,145.3L554.9,142.7L554.9,140.0L554.9,137.4L554.9,134.7L554.9,132.0L554.9,129.4L554.9,126.7L554.9,124.1L554.9,121.4L554.9,118.8L554.9,116.1L554.9,113.4L554.9,110.8L554.9,108.1L554.9,105.5L554.9,102.8L554.9,100.2L554.9,97.5L554.9,94.8L554.9,92.2L554.9,89.5L554.9,86.9L554.9,84.2L554.9,81.6L554.9,78.9L554.9,76.2L554.9,73.6L554.9,70.9L554.9,68.3L554.9,65.6L554.9,63.0L554.9,60.3L554.9,57.6L554.9,55.0L554.9,52.3L554.9,49.7L554.9,47.0L554.9,44.4L554.9,41.7L554.9,39.0L554.9,36.4L554.9,33.7L554.9,31.1L554.9,28.4L554.9,25.8L554.9,23.1L554.9,20.4L554.9,17.8L554.9,15.1L554.9,12.5L554.9,9.8L554.9,7.2L549.3,7.2L543.7,7.2L538.2,7.2L532.6,7.2L527.0,7.2L521.5,7.2L515.9,7.2L510.4,7.2L504.8,7.2L499.2,7.2L493.7,7.2L488.1,7.2L482.6,7.2L477.0,7.2L471.4,7.2L465.9,7.2L460.3,7.2L454.7,7.2L449.2,7.2L443.6,7.2L438.1,7.2L432.5,7.2L426.9,7.2L421.4,7.2L415.8,7.2L410.3,7.2L404.7,7.2L399.1,7.2L393.6,7.2L388.0,7.2L382.5,7.2L376.9,7.2L371.3,7.2L365.8,7.2L360.2,7.2L354.6,7.2L349.1,7.2L343.5,7.2L338.0,7.2L332.4,7.2L326.8,7.2L321.3,7.2L315.7,7.2L310.2,7.2L304.6,7.2L299.0,7.2L293.5,7.2L287.9,7.2L282.3,7.2L276.8,7.2L271.2,7.2L265.7,7.2L260.1,7.2L254.5,7.2L249.0,7.2L243.4,7.2L237.9,7.2L232.3,7.2L226.7,7.2L221.2,7.2L215.6,7.2L210.1,7.2L204.5,7.2L198.9,7.2L193.4,7.2L187.8,7.2L182.2,7.2L176.7,7.2L171.1,7.2L165.6,7.2L160.0,7.2L154.4,7.2L148.9,7.2L143.3,7.2L137.8,7.2L132.2,7.2L126.6,7.2L121.1,7.2L115.5,7.2L110.0,7.2L110.0,9.8L110.0,12.5L110.0,15.1L110.0,17.8L110.0,20.4L110.0,23.1L110.0,25.8L110.0,28.4L110.0,31.1L110.0,33.7L110.0,36.4L110.0,39.0L110.0,41.7L110.0,44.4L110.0,47.0L110.0,49.4L110.8,49.7L115.5,51.2L119.2,52.3L121.1,52.9L126.6,54.7L127.7,55.0L132.2,56.4L136.3,57.6L137.8,58.1L143.3,59.8L144.9,60.3L148.9,61.5L153.7,63.0L154.4,63.2L160.0,64.8L162.7,65.6L165.6,66.5L171.1,68.1L171.9,68.3L176.7,69.6L181.6,70.9L182.2,71.1L187.8,72.6L191.7,73.6L193.4,74.0L198.9,75.5L201.6,76.2L204.5,77.0L210.1,78.6L211.1,78.9L215.6,80.2L219.8,81.6L221.2,82.0L226.7,83.7L228.4,84.2L232.3,85.5L236.0,86.9L237.9,87.5L243.0,89.5L243.4,89.7L249.0,91.9L249.7,92.2L254.5,94.1L256.3,94.8L260.1,96.4L263.0,97.5L265.7,98.6L269.9,100.2L271.2,100.6L276.8,102.6L277.5,102.8L282.3,104.4L285.6,105.5L287.9,106.2L293.5,108.0L294.0,108.1L299.0,109.7L302.6,110.8L304.6,111.4L310.2,113.1L311.5,113.4L315.7,114.7L320.8,116.1L321.3,116.2L326.8,117.7L330.7,118.8L332.4,119.2L338.0,120.8L339.9,121.4L343.5,122.5L348.9,124.1L349.1,124.1L354.6,125.7L358.4,126.7L360.2,127.2L365.8,128.7L368.1,129.4L371.3,130.2L376.9,131.7L378.1,132.0L382.5,133.2L388.0,134.6L388.2,134.7L393.6,136.1L398.3,137.4L399.1,137.6L404.7,139.0L408.5,140.0L410.3,140.5L415.8,141.9L418.9,142.7L421.4,143.3L426.9,144.7L429.6,145.3L432.5,146.0L438.1,147.3L440.9,148.0L443.6,148.6L449.2,149.7L454.7,150.6L455.1,150.6L460.3,151.5L465.9,152.4L471.4,153.2L471.8,153.3L477.0,154.1L482.6,154.9L488.1,155.7L489.9,156.0L493.7,156.5L499.2,157.2L504.8,157.9L510.4,158.6L510.7,158.6L515.9,159.2L521.5,159.9L527.0,160.5L532.6,161.1L534.0,161.3L538.2,161.7Z"/>
<path fill="#365d8d" d="M115.5,376.5L121.1,376.5L126.6,376.5L132.2,376.5L137.8,376.5L143.3,376.5L148.9,376.5L154.4,376.5L160.0,376.5L165.6,376.5L171.1,376.5L176.7,376.5L182.2,376.5L187.8,376.5L193.4,376.5L198.9,376.5L204.5,376.5L210.1,376.5L215.6,376.5L221.2,376.5L226.7,376.5L232.3,376.5L237.9,376.5L243.4,376.5L249.0,376.5L254.5,376.5L260.1,376.5L265.7,376.5L271.2,376.5L276.8,376.5L282.3,376.5L287.9,376.5L293.5,376.5L299.0,376.5L304.6,376.5L310.2,376.5L315.7,376.5L321.3,376.5L326.8,376.5L332.4,376.5L338.0,376.5L343.5,376.5L349.1,376.5L354.6,376.5L360.2,376.5L365.8,376.5L371.3,376.5L376.9,376.5L382.5,376.5L388.0,376.5L393.6,376.5L399.1,376.5L404.7,376.5L410.3,376.5L415.8,376.5L421.4,376.5L426.9,376.5L432.5,376.5L438.1,376.5L443.6,376.5L449.2,376.5L454.7,376.5L460.3,376.5L465.9,376.5L471.4,376.5L477.0,376.5L482.6,376.5L488.1,376.5L493.7,376.5L499.2,376.5L504.8,376.5L510.4,376.5L515.9,376.5L521.5,376.5L527.0,376.5L532.6,376.5L538.2,376.5L543.7,376.5L549.3,376.5L554.9,376.5L554.9,373.8L554.9,371.2L554.9,368.5L554.9,365.9L554.9,363.2L554.9,360.6L554.9,357.9L554.9,355.2L554.9,352.6L554.9,349.9L554.9,347.3L554.9,344.6L554.9,342.0L554.9,339.3L554.9,336.6L554.9,334.0L554.9,331.3L554.9,328.7L554.9,326.0L554.9,323.4L554.9,321.8L549.3,321.0L547.2,320.7L543.7,320.2L538.2,319.4L532.6,318.6L528.5,318.0L527.0,317.8L521.5,317.1L515.9,316.3L510.4,315.5L509.5,315.4L504.8,314.7L499.2,314.0L493.7,313.2L490.7,312.7L488.1,312.4L482.6,311.5L477.0,310.7L473.0,310.1L471.4,309.8L465.9,309.0L460.3,308.1L456.1,307.4L454.7,307.2L449.2,306.3L443.6,305.4L440.3,304.8L438.1,304.3L432.5,303.3L426.9,302.2L426.4,302.1L421.4,301.1L415.8,300.0L413.2,299.4L410.3,298.8L404.7,297.7L400.2,296.8L399.1,296.6L393.6,295.4L388.0,294.3L387.1,294.1L382.5,293.2L376.9,292.1L373.8,291.5L371.3,291.0L365.8,289.9L360.5,288.8L360.2,288.8L354.6,287.6L349.1,286.4L347.8,286.2L343.5,285.2L338.0,284.0L335.7,283.5L332.4,282.8L326.8,282.0L321.3,281.1L319.8,280.8L315.7,280.1L310.2,279.1L305.2,278.2L304.6,278.1L299.0,276.9L293.5,275.8L292.3,275.5L287.9,274.6L282.3,273.4L280.2,272.9L276.8,272.1L271.2,270.7L269.4,270.2L265.7,269.2L260.1,267.6L260.1,267.6L254.5,265.9L251.4,264.9L249.0,264.1L243.4,262.5L242.6,262.2L237.9,260.9L233.1,259.6L232.3,259.4L226.7,258.0L221.7,256.9L221.2,256.8L215.6,255.4L211.0,254.3L210.1,254.0L204.5,252.8L199.1,251.6L198.9,251.6L193.4,250.4L187.8,249.2L186.5,249.0L182.2,248.1L176.7,246.9L174.0,246.3L171.1,245.6L165.6,244.3L162.7,243.6L160.0,243.0L154.4,241.6L151.9,241.0L148.9,240.2L143.3,238.8L141.5,238.3L137.8,237.4L132.2,235.9L131.3,235.7L126.6,234.4L121.3,233.0L121.1,232.9L115.5,231.4L111.6,230.4L110.0,229.9L110.0,230.4L110.0,233.0L110.0,235.7L110.0,238.3L110.0,241.0L110.0,243.6L110.0,246.3L110.0,249.0L110.0,251.6L110.0,254.3L110.0,256.9L110.0,259.6L110.0,262.2L110.0,264.9L110.0,267.6L110.0,270.2L110.0,272.9L110.0,275.5L110.0,278.2L110.0,280.8L110.0,283.5L110.0,286.2L110.0,288.8L110.0,291.5L110.0,294.1L110.0,296.8L110.0,299.4L110.0,302.1L110.0,304.8L110.0,307.4L110.0,310.1L110.0,312.7L110.0,315.4L110.0,318.0L110.0,320.7L110.0,323.4L110.0,326.0L110.0,328.7L110.0,331.3L110.0,334.0L110.0,336.6L110.0,339.3L110.0,342.0L110.0,344.6L110.0,347.3L110.0,349.9L110.0,352.6L110.0,355.2L110.0,357.9L110.0,360.6L110.0,363.2L110.0,365.9L110.0,368.5L110.0,371.2L110.0,373.8L110.0,376.5L115.5,376.5ZM554.9,158.9L554.9,158.6L554.9,156.0L554.9,153.3L554.9,150.6L554.9,148.0L554.9,145.3L554.9,142.7L554.9,140.0L554.9,137.4L554.9,134.7L554.9,132.0L554.9,129.4L554.9,126.7L554.9,124.1L554.9,121.4L554.9,118.8L554.9,116.1L554.9,113.4L554.9,110.8L554.9,108.1L554.9,105.5L554.9,102.8L554.9,100.2L554.9,97.5L554.9,94.8L554.9,92.2L554.9,89.5L554.9,86.9L554.9,84.2L554.9,81.6L554.9,78.9L554.9,76.2L554.9,73.6L554.9,70.9L554.9,68.3L554.9,65.6L554.9,63.0L554.9,60.3L554.9,57.6L554.9,55.0L554.9,52.3L554.9,49.7L554.9,47.0L554.9,44.4L554.9,41.7L554.9,39.0L554.9,36.4L554.9,33.7L554.9,31.1L554.9,28.4L554.9,25.8L554.9,23.1L554.9,20.4L554.9,17.8L554.9,15.1L554.9,12.5L554.9,9.8L554.9,7.2L549.3,7.2L543.7,7.2L538.2,7.2L532.6,7.2L527.0,7.2L521.5,7.2L515.9,7.2L510.4,7.2L504.8,7.2L499.2,7.2L493.7,7.2L488.1,7.2L482.6,7.2L477.0,7.2L471.4,7.2L465.9,7.2L460.3,7.2L454.7,7.2L449.2,7.2L443.6,7.2L438.1,7.2L432.5,7.2L426.9,7.2L421.4,7.2L415.8,7.2L410.3,7.2L404.7,7.2L399.1,7.2L393.6,7.2L388.0,7.2L382.5,7.2L376.9,7.2L371.3,7.2L365.8,7.2L360.2,7.2L354.6,7.2L349.1,7.2L343.5,7.2L338.0,7.2L332.4,7.2L326.8,7.2L321.3,7.2L315.7,7.2L310.2,7.2L304.6,7.2L299.0,7.2L293.5,7.2L287.9,7.2L282.3,7.2L276.8,7.2L271.2,7.2L265.7,7.2L260.1,7.2L254.5,7.2L249.0,7.2L243.4,7.2L237.9,7.2L232.3,7.2L226.7,7.2L221.2,7.2L215.6,7.2L210.1,7.2L204.5,7.2L198.9,7.2L193.4,7.2L187.8,7.2L182.2,7.2L176.7,7.2L171.1,7.2L165.6,7.2L160.0,7.2L154.4,7.2L148.9,7.2L143.3,7.2L137.8,7.2L132.2,7.2L126.6,7.2L121.1,7.2L115.5,7.2L110.0,7.2L110.0,9.8L110.0,12.5L110.0,15.1L110.0,17.8L110.0,20.4L110.0,23.1L110.0,25.8L110.0,28.4L110.0,31.1L110.0,33.7L110.0,36.4L110.0,39.0L110.0,41.7L110.0,44.4L110.0,45.1L115.5,46.9L116.0,47.0L121.1,48.6L124.6,49.7L126.6,50.3L132.2,52.0L133.2,52.3L137.8,53.7L142.0,55.0L143.3,55.4L148.9,57.1L150.8,57.6L154.4,58.7L159.8,60.3L160.0,60.4L165.6,62.0L169.0,63.0L171.1,63.6L176.7,65.1L178.7,65.6L182.2,66.6L187.8,68.0L188.7,68.3L193.4,69.5L198.8,70.9L198.9,71.0L204.5,72.5L208.4,73.6L210.1,74.1L215.6,75.7L217.2,76.2L221.2,77.5L225.9,78.9L226.7,79.2L232.3,81.0L233.8,81.6L237.9,83.0L241.0,84.2L243.4,85.1L247.8,86.9L249.0,87.3L254.5,89.5L254.5,89.6L260.1,91.8L261.1,92.2L265.7,93.9L268.1,94.8L271.2,96.0L275.5,97.5L276.8,97.9L282.3,99.7L283.6,100.2L287.9,101.5L292.0,102.8L293.5,103.3L299.0,105.0L300.6,105.5L304.6,106.7L309.6,108.1L310.2,108.3L315.7,109.9L319.0,110.8L321.3,111.4L326.8,112.9L328.9,113.4L332.4,114.3L338.0,116.0L338.4,116.1L343.5,117.7L347.3,118.8L349.1,119.3L354.6,120.9L356.6,121.4L360.2,122.4L365.8,123.9L366.2,124.1L371.3,125.4L376.1,126.7L376.9,126.9L382.5,128.4L386.1,129.4L388.0,129.9L393.6,131.4L396.1,132.0L399.1,132.8L404.7,134.3L406.2,134.7L410.3,135.8L415.8,137.2L416.4,137.4L421.4,138.6L426.8,140.0L426.9,140.0L432.5,141.4L437.8,142.7L438.1,142.7L443.6,144.0L449.2,145.1L450.6,145.3L454.7,146.0L460.3,146.9L465.9,147.8L467.1,148.0L471.4,148.7L477.0,149.5L482.6,150.3L484.8,150.6L488.1,151.1L493.7,151.9L499.2,152.6L504.6,153.3L504.8,153.3L510.4,154.0L515.9,154.7L521.5,155.4L526.6,156.0L527.0,156.0L532.6,156.6L538.2,157.2L543.7,157.8L549.3,158.4L551.6,158.6L554.9,158.9Z"/>
<path fill="#33628d" d="M115.5,376.5L121.1,376.5L126.6,376.5L132.2,376.5L137.8,376.5L143.3,376.5L148.9,376.5L154.4,376.5L160.0,376.5L165.6,376.5L171.1,376.5L176.7,376.5L182.2,376.5L187.8,376.5L193.4,376.5L198.9,376.5L204.5,376.5L210.1,376.5L215.6,376.5L221.2,376.5L226.7,376.5L232.3,376.5L237.9,376.5L243.4,376.5L249.0,376.5L254.5,376.5L260.1,376.5L265.7,376.5L271.2,376.5L276.8,376.5L282.3,376.5L287.9,376.5L293.5,376.5L299.0,376.5L304.6,376.5L310.2,376.5L315.7,376.5L321.3,376.5L326.8,376.5L332.4,376.5L338.0,376.5L343.5,376.5L349.1,376.5L354.6,376.5L360.2,376.5L365.8,376.5L371.3,376.5L376.9,376.5L382.5,376.5L388.0,376.5L393.6,376.5L399.1,376.5L404.7,376.5L410.3,376.5L415.8,376.5L421.4,376.5L426.9,376.5L432.5,376.5L438.1,376.5L443.6,376.5L449.2,376.5L454.7,376.5L460.3,376.5L465.9,376.5L471.4,376.5L477.0,376.5L482.6,376.5L488.1,376.5L493.7,376.5L499.2,376.5L504.8,376.5L510.4,376.5L515.9,376.5L521.5,376.5L527.0,376.5L532.6,376.5L538.2,376.5L543.7,376.5L549.3,376.5L554.9,376.5L554.9,373.8L554.9,371.2L554.9,368.5L554.9,365.9L554.9,363.2L554.9,360.6L554.9,357.9L554.9,355.2L554.9,352.6L554.9,349.9L554.9,347.3L554.9,344.6L554.9,342.0L554.9,339.3L554.9,336.6L554.9,334.0L554.9,331.3L554.9,329.1L552.4,328.7L549.3,328.1L543.7,327.1L538.2,326.1L537.4,326.0L532.6,325.2L527.0,324.2L521.8,323.4L521.5,323.3L515.9,322.4L510.4,321.5L505.6,320.7L504.8,320.6L499.2,319.7L493.7,318.8L489.4,318.0L488.1,317.8L482.6,316.9L477.0,316.0L473.6,315.4L471.4,315.0L465.9,314.1L460.3,313.1L458.2,312.7L454.7,312.1L449.2,311.2L443.6,310.2L443.2,310.1L438.1,309.1L432.5,308.0L429.7,307.4L426.9,306.9L421.4,305.7L416.7,304.8L415.8,304.6L410.3,303.4L404.7,302.2L404.1,302.1L399.1,301.1L393.6,299.9L391.4,299.4L388.0,298.7L382.5,297.6L378.6,296.8L376.9,296.4L371.3,295.3L365.8,294.2L365.6,294.1L360.2,293.0L354.6,291.8L353.1,291.5L349.1,290.6L343.5,289.4L341.1,288.8L338.0,288.1L332.4,286.9L327.6,286.2L326.8,286.0L321.3,285.1L315.7,284.1L312.5,283.5L310.2,283.0L304.6,281.9L299.3,280.8L299.0,280.8L293.5,279.6L287.9,278.4L287.1,278.2L282.3,277.1L276.8,275.8L275.7,275.5L271.2,274.4L265.9,272.9L265.7,272.8L260.1,271.1L257.1,270.2L254.5,269.4L249.0,267.7L248.6,267.6L243.4,266.0L239.9,264.9L237.9,264.3L232.3,262.8L230.1,262.2L226.7,261.4L221.2,260.2L218.8,259.6L215.6,258.8L210.1,257.4L207.7,256.9L204.5,256.2L198.9,255.0L195.3,254.3L193.4,253.9L187.8,252.7L182.4,251.6L182.2,251.6L176.7,250.4L171.1,249.2L170.0,249.0L165.6,247.9L160.0,246.6L158.8,246.3L154.4,245.2L148.9,243.9L148.0,243.6L143.3,242.5L137.8,241.1L137.5,241.0L132.2,239.6L127.2,238.3L126.6,238.2L121.1,236.7L117.2,235.7L115.5,235.2L110.0,233.7L110.0,235.7L110.0,238.3L110.0,241.0L110.0,243.6L110.0,246.3L110.0,249.0L110.0,251.6L110.0,254.3L110.0,256.9L110.0,259.6L110.0,262.2L110.0,264.9L110.0,267.6L110.0,270.2L110.0,272.9L110.0,275.5L110.0,278.2L110.0,280.8L110.0,283.5L110.0,286.2L110.0,288.8L110.0,291.5L110.0,294.1L110.0,296.8L110.0,299.4L110.0,302.1L110.0,304.8L110.0,307.4L110.0,310.1L110.0,312.7L110.0,315.4L110.0,318.0L110.0,320.7L110.0,323.4L110.0,326.0L110.0,328.7L110.0,331.3L110.0,334.0L110.0,336.6L110.0,339.3L110.0,342.0L110.0,344.6L110.0,347.3L110.0,349.9L110.0,352.6L110.0,355.2L110.0,357.9L110.0,360.6L110.0,363.2L110.0,365.9L110.0,368.5L110.0,371.2L110.0,373.8L110.0,376.5L115.5,376.5ZM549.3,153.7L554.9,154.2L554.9,153.3L554.9,150.6L554.9,148.0L554.9,145.3L554.9,142.7L554.9,140.0L554.9,137.4L554.9,134.7L554.9,132.0L554.9,129.4L554.9,126.7L554.9,124.1L554.9,121.4L554.9,118.8L554.9,116.1L554.9,113.4L554.9,110.8L554.9,108.1L554.9,105.5L554.9,102.8L554.9,100.2L554.9,97.5L554.9,94.8L554.9,92.2L554.9,89.5L554.9,86.9L554.9,84.2L554.9,81.6L554.9,78.9L554.9,76.2L554.9,73.6L554.9,70.9L554.9,68.3L554.9,65.6L554.9,63.0L554.9,60.3L554.9,57.6L554.9,55.0L554.9,52.3L554.9,49.7L554.9,47.0L554.9,44.4L554.9,41.7L554.9,39.0L554.9,36.4L554.9,33.7L554.9,31.1L554.9,28.4L554.9,25.8L554.9,23.1L554.9,20.4L554.9,17.8L554.9,15.1L554.9,12.5L554.9,9.8L554.9,7.2L549.3,7.2L543.7,7.2L538.2,7.2L532.6,7.2L527.0,7.2L521.5,7.2L515.9,7.2L510.4,7.2L504.8,7.2L499.2,7.2L493.7,7.2L488.1,7.2L482.6,7.2L477.0,7.2L471.4,7.2L465.9,7.2L460.3,7.2L454.7,7.2L449.2,7.2L443.6,7.2L438.1,7.2L432.5,7.2L426.9,7.2L421.4,7.2L415.8,7.2L410.3,7.2L404.7,7.2L399.1,7.2L393.6,7.2L388.0,7.2L382.5,7.2L376.9,7.2L371.3,7.2L365.8,7.2L360.2,7.2L354.6,7.2L349.1,7.2L343.5,7.2L338.0,7.2L332.4,7.2L326.8,7.2L321.3,7.2L315.7,7.2L310.2,7.2L304.6,7.2L299.0,7.2L293.5,7.2L287.9,7.2L282.3,7.2L276.8,7.2L271.2,7.2L265.7,7.2L260.1,7.2L254.5,7.2L249.0,7.2L243.4,7.2L237.9,7.2L232.3,7.2L226.7,7.2L221.2,7.2L215.6,7.2L210.1,7.2L204.5,7.2L198.9,7.2L193.4,7.2L187.8,7.2L182.2,7.2L176.7,7.2L171.1,7.2L165.6,7.2L160.0,7.2L154.4,7.2L148.9,7.2L143.3,7.2L137.8,7.2L132.2,7.2L126.6,7.2L121.1,7.2L115.5,7.2L110.0,7.2L110.0,9.8L110.0,12.5L110.0,15.1L110.0,17.8L110.0,20.4L110.0,23.1L110.0,25.8L110.0,28.4L110.0,31.1L110.0,33.7L110.0,36.4L110.0,39.0L110.0,40.9L112.6,41.7L115.5,42.6L121.1,44.3L121.2,44.4L126.6,46.0L129.9,47.0L132.2,47.7L137.8,49.4L138.7,49.7L143.3,51.0L147.6,52.3L148.9,52.7L154.4,54.3L156.7,55.0L160.0,56.0L165.6,57.6L165.8,57.6L171.1,59.1L175.4,60.3L176.7,60.6L182.2,62.1L185.5,63.0L187.8,63.5L193.4,65.0L195.7,65.6L198.9,66.5L204.5,68.0L205.6,68.3L210.1,69.5L214.8,70.9L215.6,71.2L221.2,72.9L223.4,73.6L226.7,74.6L231.8,76.2L232.3,76.4L237.9,78.4L239.2,78.9L243.4,80.5L246.1,81.6L249.0,82.7L252.8,84.2L254.5,84.9L259.4,86.9L260.1,87.1L265.7,89.3L266.3,89.5L271.2,91.3L273.7,92.2L276.8,93.3L281.7,94.8L282.3,95.0L287.9,96.8L290.1,97.5L293.5,98.5L298.8,100.2L299.0,100.2L304.6,101.9L307.7,102.8L310.2,103.5L315.7,105.1L317.1,105.5L321.3,106.6L326.8,108.1L327.0,108.1L332.4,109.5L336.7,110.8L338.0,111.1L343.5,112.8L345.6,113.4L349.1,114.5L354.6,116.1L354.7,116.1L360.2,117.6L364.3,118.8L365.8,119.2L371.3,120.7L374.0,121.4L376.9,122.2L382.5,123.7L384.0,124.1L388.0,125.1L393.6,126.6L393.9,126.7L399.1,128.1L403.8,129.4L404.7,129.6L410.3,131.1L413.9,132.0L415.8,132.5L421.4,134.0L424.2,134.7L426.9,135.4L432.5,136.8L434.8,137.4L438.1,138.1L443.6,139.4L446.6,140.0L449.2,140.5L454.7,141.4L460.3,142.3L462.8,142.7L465.9,143.1L471.4,144.0L477.0,144.8L480.4,145.3L482.6,145.6L488.1,146.4L493.7,147.2L499.2,147.9L499.8,148.0L504.8,148.6L510.4,149.3L515.9,150.0L521.5,150.6L521.5,150.6L527.0,151.3L532.6,151.9L538.2,152.5L543.7,153.1L545.6,153.3L549.3,153.7Z"/>
<path fill="#31678e" d="M115.5,376.5L121.1,376.5L126.6,376.5L132.2,376.5L137.8,376.5L143.3,376.5L148.9,376.5L154.4,376.5L160.0,376.5L165.6,376.5L171.1,376.5L176.7,376.5L182.2,376.5L187.8,376.5L193.4,376.5L198.9,376.5L204.5,376.5L210.1,376.5L215.6,376.5L221.2,376.5L226.7,376.5L232.3,376.5L237.9,376.5L243.4,376.5L249.0,376.5L254.5,376.5L260.1,376.5L265.7,376.5L271.2,376.5L276.8,376.5L282.3,376.5L287.9,376.5L293.5,376.5L299.0,376.5L304.6,376.5L310.2,376.5L315.7,376.5L321.3,376.5L326.8,376.5L332.4,376.5L338.0,376.5L343.5,376.5L349.1,376.5L354.6,376.5L360.2,376.5L365.8,376.5L371.3,376.5L376.9,376.5L382.5,376.5L388.0,376.5L393.6,376.5L399.1,376.5L404.7,376.5L410.3,376.5L415.8,376.5L421.4,376.5L426.9,376.5L432.5,376.5L438.1,376.5L443.6,376.5L449.2,376.5L454.7,376.5L460.3,376.5L465.9,376.5L471.4,376.5L477.0,376.5L482.6,376.5L488.1,376.5L493.7,376.5L499.2,376.5L504.8,376.5L510.4,376.5L515.9,376.5L521.5,376.5L527.0,376.5L532.6,376.5L538.2,376.5L543.7,376.5L549.3,376.5L554.9,376.5L554.9,373.8L554.9,371.2L554.9,368.5L554.9,365.9L554.9,363.2L554.9,360.6L554.9,357.9L554.9,355.2L554.9,352.6L554.9,349.9L554.9,347.3L554.9,344.6L554.9,342.0L554.9,339.3L554.9,336.9L553.9,336.6L549.3,335.6L543.7,334.4L541.9,334.0L538.2,333.2L532.6,332.0L529.2,331.3L527.0,330.9L521.5,329.8L515.9,328.7L515.9,328.7L510.4,327.6L504.8,326.6L502.0,326.0L499.2,325.5L493.7,324.5L488.1,323.4L487.8,323.4L482.6,322.4L477.0,321.3L473.8,320.7L471.4,320.3L465.9,319.2L460.3,318.1L459.9,318.0L454.7,317.1L449.2,316.0L445.9,315.4L443.6,314.9L438.1,313.8L432.7,312.7L432.5,312.7L426.9,311.5L421.4,310.4L420.1,310.1L415.8,309.2L410.3,308.0L407.8,307.4L404.7,306.7L399.1,305.5L395.5,304.8L393.6,304.3L388.0,303.1L383.2,302.1L382.5,301.9L376.9,300.8L371.3,299.6L370.6,299.4L365.8,298.4L360.2,297.2L358.2,296.8L354.6,296.0L349.1,294.8L346.3,294.1L343.5,293.5L338.0,292.2L334.7,291.5L332.4,291.0L326.8,290.1L321.3,289.1L319.9,288.8L315.7,288.0L310.2,287.0L306.3,286.2L304.6,285.8L299.0,284.6L294.0,283.5L293.5,283.4L287.9,282.1L282.5,280.8L282.3,280.8L276.8,279.5L271.8,278.2L271.2,278.0L265.7,276.4L262.8,275.5L260.1,274.7L254.5,273.0L254.3,272.9L249.0,271.2L245.9,270.2L243.4,269.4L237.9,267.8L237.2,267.6L232.3,266.2L227.2,264.9L226.7,264.8L221.2,263.5L216.0,262.2L215.6,262.1L210.1,260.8L204.5,259.6L204.3,259.6L198.9,258.5L193.4,257.3L191.4,256.9L187.8,256.2L182.2,255.1L178.3,254.3L176.7,253.9L171.1,252.7L166.1,251.6L165.6,251.5L160.0,250.2L154.9,249.0L154.4,248.8L148.9,247.5L144.0,246.3L143.3,246.1L137.8,244.7L133.5,243.6L132.2,243.3L126.6,241.9L123.2,241.0L121.1,240.4L115.5,239.0L113.1,238.3L110.0,237.5L110.0,238.3L110.0,241.0L110.0,243.6L110.0,246.3L110.0,249.0L110.0,251.6L110.0,254.3L110.0,256.9L110.0,259.6L110.0,262.2L110.0,264.9L110.0,267.6L110.0,270.2L110.0,272.9L110.0,275.5L110.0,278.2L110.0,280.8L110.0,283.5L110.0,286.2L110.0,288.8L110.0,291.5L110.0,294.1L110.0,296.8L110.0,299.4L110.0,302.1L110.0,304.8L110.0,307.4L110.0,310.1L110.0,312.7L110.0,315.4L110.0,318.0L110.0,320.7L110.0,323.4L110.0,326.0L110.0,328.7L110.0,331.3L110.0,334.0L110.0,336.6L110.0,339.3L110.0,342.0L110.0,344.6L110.0,347.3L110.0,349.9L110.0,352.6L110.0,355.2L110.0,357.9L110.0,360.6L110.0,363.2L110.0,365.9L110.0,368.5L110.0,371.2L110.0,373.8L110.0,376.5L115.5,376.5ZM543.7,148.2L549.3,148.7L554.9,149.3L554.9,148.0L554.9,145.3L554.9,142.7L554.9,140.0L554.9,137.4L554.9,134.7L554.9,132.0L554.9,129.4L554.9,126.7L554.9,124.1L554.9,121.4L554.9,118.8L554.9,116.1L554.9,113.4L554.9,110.8L554.9,108.1L554.9,105.5L554.9,102.8L554.9,100.2L554.9,97.5L554.9,94.8L554.9,92.2L554.9,89.5L554.9,86.9L554.9,84.2L554.9,81.6L554.9,78.9L554.9,76.2L554.9,73.6L554.9,70.9L554.9,68.3L554.9,65.6L554.9,63.0L554.9,60.3L554.9,57.6L554.9,55.0L554.9,52.3L554.9,49.7L554.9,47.0L554.9,44.4L554.9,41.7L554.9,39.0L554.9,36.4L554.9,33.7L554.9,31.1L554.9,28.4L554.9,25.8L554.9,23.1L554.9,20.4L554.9,17.8L554.9,15.1L554.9,12.5L554.9,9.8L554.9,7.2L549.3,7.2L543.7,7.2L538.2,7.2L532.6,7.2L527.0,7.2L521.5,7.2L515.9,7.2L510.4,7.2L504.8,7.2L499.2,7.2L493.7,7.2L488.1,7.2L482.6,7.2L477.0,7.2L471.4,7.2L465.9,7.2L460.3,7.2L454.7,7.2L449.2,7.2L443.6,7.2L438.1,7.2L432.5,7.2L426.9,7.2L421.4,7.2L415.8,7.2L410.3,7.2L404.7,7.2L399.1,7.2L393.6,7.2L388.0,7.2L382.5,7.2L376.9,7.2L371.3,7.2L365.8,7.2L360.2,7.2L354.6,7.2L349.1,7.2L343.5,7.2L338.0,7.2L332.4,7.2L326.8,7.2L321.3,7.2L315.7,7.2L310.2,7.2L304.6,7.2L299.0,7.2L293.5,7.2L287.9,7.2L282.3,7.2L276.8,7.2L271.2,7.2L265.7,7.2L260.1,7.2L254.5,7.2L249.0,7.2L243.4,7.2L237.9,7.2L232.3,7.2L226.7,7.2L221.2,7.2L215.6,7.2L210.1,7.2L204.5,7.2L198.9,7.2L193.4,7.2L187.8,7.2L182.2,7.2L176.7,7.2L171.1,7.2L165.6,7.2L160.0,7.2L154.4,7.2L148.9,7.2L143.3,7.2L137.8,7.2L132.2,7.2L126.6,7.2L121.1,7.2L115.5,7.2L110.0,7.2L110.0,9.8L110.0,12.5L110.0,15.1L110.0,17.8L110.0,20.4L110.0,23.1L110.0,25.8L110.0,28.4L110.0,31.1L110.0,33.7L110.0,36.4L110.0,36.7L115.5,38.4L117.6,39.0L121.1,40.1L126.4,41.7L126.6,41.8L132.2,43.4L135.3,44.4L137.8,45.1L143.3,46.7L144.2,47.0L148.9,48.4L153.3,49.7L154.4,50.0L160.0,51.6L162.6,52.3L165.6,53.2L171.1,54.7L172.0,55.0L176.7,56.2L182.1,57.6L182.2,57.7L187.8,59.1L192.5,60.3L193.4,60.5L198.9,62.0L202.6,63.0L204.5,63.5L210.1,65.0L212.0,65.6L215.6,66.7L220.7,68.3L221.2,68.4L226.7,70.0L229.4,70.9L232.3,71.9L237.1,73.6L237.9,73.8L243.4,75.9L244.2,76.2L249.0,78.1L251.0,78.9L254.5,80.3L257.7,81.6L260.1,82.5L264.5,84.2L265.7,84.6L271.2,86.7L271.8,86.9L276.8,88.6L279.7,89.5L282.3,90.4L287.9,92.1L288.2,92.2L293.5,93.8L296.8,94.8L299.0,95.5L304.6,97.1L305.8,97.5L310.2,98.8L315.2,100.2L315.7,100.3L321.3,101.8L325.1,102.8L326.8,103.3L332.4,104.7L335.1,105.5L338.0,106.3L343.5,108.0L343.9,108.1L349.1,109.7L352.9,110.8L354.6,111.3L360.2,112.8L362.3,113.4L365.8,114.4L371.3,115.9L372.0,116.1L376.9,117.4L381.8,118.8L382.5,118.9L388.0,120.4L391.6,121.4L393.6,121.9L399.1,123.4L401.5,124.1L404.7,124.9L410.3,126.4L411.4,126.7L415.8,127.9L421.4,129.3L421.6,129.4L426.9,130.8L432.0,132.0L432.5,132.2L438.1,133.5L443.0,134.7L443.6,134.9L449.2,135.9L454.7,136.8L458.5,137.4L460.3,137.6L465.9,138.5L471.4,139.3L476.3,140.0L477.0,140.1L482.6,140.9L488.1,141.7L493.7,142.4L495.7,142.7L499.2,143.1L504.8,143.8L510.4,144.5L515.9,145.1L517.7,145.3L521.5,145.8L527.0,146.4L532.6,147.0L538.2,147.6L541.7,148.0L543.7,148.2Z"/>
<path fill="#2f6c8e" d="M115.5,376.5L121.1,376.5L126.6,376.5L132.2,376.5L137.8,376.5L143.3,376.5L148.9,376.5L154.4,376.5L160.0,376.5L165.6,376.5L171.1,376.5L176.7,376.5L182.2,376.5L187.8,376.5L193.4,376.5L198.9,376.5L204.5,376.5L210.1,376.5L215.6,376.5L221.2,376.5L226.7,376.5L232.3,376.5L237.9,376.5L243.4,376.5L249.0,376.5L254.5,376.5L260.1,376.5L265.7,376.5L271.2,376.5L276.8,376.5L282.3,376.5L287.9,376.5L293.5,376.5L299.0,376.5L304.6,376.5L310.2,376.5L315.7,376.5L321.3,376.5L326.8,376.5L332.4,376.5L338.0,376.5L343.5,376.5L349.1,376.5L354.6,376.5L360.2,376.5L365.8,376.5L371.3,376.5L376.9,376.5L382.5,376.5L388.0,376.5L393.6,376.5L399.1,376.5L404.7,376.5L410.3,376.5L415.8,376.5L421.4,376.5L426.9,376.5L432.5,376.5L438.1,376.5L443.6,376.5L449.2,376.5L454.7,376.5L460.3,376.5L465.9,376.5L471.4,376.5L477.0,376.5L482.6,376.5L488.1,376.5L493.7,376.5L499.2,376.5L504.8,376.5L510.4,376.5L515.9,376.5L521.5,376.5L527.0,376.5L532.6,376.5L538.2,376.5L543.7,376.5L549.3,376.5L554.9,376.5L554.9,373.8L554.9,371.2L554.9,368.5L554.9,365.9L554.9,363.2L554.9,360.6L554.9,357.9L554.9,355.2L554.9,352.6L554.9,349.9L554.9,347.3L554.9,345.2L552.9,344.6L549.3,343.6L543.7,342.1L543.1,342.0L538.2,340.7L532.7,339.3L532.6,339.3L527.0,337.9L521.7,336.6L521.5,336.6L515.9,335.3L510.4,334.0L510.1,334.0L504.8,332.8L499.2,331.6L498.0,331.3L493.7,330.4L488.1,329.2L485.7,328.7L482.6,328.0L477.0,326.8L473.2,326.0L471.4,325.6L465.9,324.5L460.7,323.4L460.3,323.3L454.7,322.1L449.2,321.0L447.9,320.7L443.6,319.8L438.1,318.7L435.2,318.0L432.5,317.5L426.9,316.3L422.9,315.4L421.4,315.1L415.8,313.8L411.0,312.7L410.3,312.6L404.7,311.3L399.1,310.1L399.1,310.1L393.6,308.8L388.0,307.6L387.2,307.4L382.5,306.4L376.9,305.2L375.1,304.8L371.3,303.9L365.8,302.7L363.0,302.1L360.2,301.5L354.6,300.2L351.2,299.4L349.1,299.0L343.5,297.7L339.9,296.8L338.0,296.3L332.4,295.1L327.0,294.1L326.8,294.1L321.3,293.1L315.7,292.0L313.1,291.5L310.2,290.9L304.6,289.7L300.6,288.8L299.0,288.5L293.5,287.2L289.0,286.2L287.9,285.9L282.3,284.6L278.0,283.5L276.8,283.2L271.2,281.7L268.3,280.8L265.7,280.1L260.1,278.3L259.7,278.2L254.5,276.5L251.5,275.5L249.0,274.7L243.4,272.9L243.2,272.9L237.9,271.2L234.3,270.2L232.3,269.6L226.7,268.2L223.9,267.6L221.2,266.9L215.6,265.5L212.8,264.9L210.1,264.3L204.5,263.1L200.5,262.2L198.9,261.9L193.4,260.8L187.8,259.7L187.2,259.6L182.2,258.6L176.7,257.5L174.1,256.9L171.1,256.3L165.6,255.1L162.1,254.3L160.0,253.8L154.4,252.5L150.9,251.6L148.9,251.1L143.3,249.8L140.0,249.0L137.8,248.4L132.2,247.0L129.3,246.3L126.6,245.6L121.1,244.2L119.0,243.6L115.5,242.7L110.0,241.3L110.0,243.6L110.0,246.3L110.0,249.0L110.0,251.6L110.0,254.3L110.0,256.9L110.0,259.6L110.0,262.2L110.0,264.9L110.0,267.6L110.0,270.2L110.0,272.9L110.0,275.5L110.0,278.2L110.0,280.8L110.0,283.5L110.0,286.2L110.0,288.8L110.0,291.5L110.0,294.1L110.0,296.8L110.0,299.4L110.0,302.1L110.0,304.8L110.0,307.4L110.0,310.1L110.0,312.7L110.0,315.4L110.0,318.0L110.0,320.7L110.0,323.4L110.0,326.0L110.0,328.7L110.0,331.3L110.0,334.0L110.0,336.6L110.0,339.3L110.0,342.0L110.0,344.6L110.0,347.3L110.0,349.9L110.0,352.6L110.0,355.2L110.0,357.9L110.0,360.6L110.0,363.2L110.0,365.9L110.0,368.5L110.0,371.2L110.0,373.8L110.0,376.5L115.5,376.5ZM543.7,143.2L549.3,143.7L554.9,144.2L554.9,142.7L554.9,140.0L554.9,137.4L554.9,134.7L554.9,132.0L554.9,129.4L554.9,126.7L554.9,124.1L554.9,121.4L554.9,118.8L554.9,116.1L554.9,113.4L554.9,110.8L554.9,108.1L554.9,105.5L554.9,102.8L554.9,100.2L554.9,97.5L554.9,94.8L554.9,92.2L554.9,89.5L554.9,86.9L554.9,84.2L554.9,81.6L554.9,78.9L554.9,76.2L554.9,73.6L554.9,70.9L554.9,68.3L554.9,65.6L554.9,63.0L554.9,60.3L554.9,57.6L554.9,55.0L554.9,52.3L554.9,49.7L554.9,47.0L554.9,44.4L554.9,41.7L554.9,39.0L554.9,36.4L554.9,33.7L554.9,31.1L554.9,28.4L554.9,25.8L554.9,23.1L554.9,20.4L554.9,17.8L554.9,15.1L554.9,12.5L554.9,9.8L554.9,7.2L549.3,7.2L543.7,7.2L538.2,7.2L532.6,7.2L527.0,7.2L521.5,7.2L515.9,7.2L510.4,7.2L504.8,7.2L499.2,7.2L493.7,7.2L488.1,7.2L482.6,7.2L477.0,7.2L471.4,7.2L465.9,7.2L460.3,7.2L454.7,7.2L449.2,7.2L443.6,7.2L438.1,7.2L432.5,7.2L426.9,7.2L421.4,7.2L415.8,7.2L410.3,7.2L404.7,7.2L399.1,7.2L393.6,7.2L388.0,7.2L382.5,7.2L376.9,7.2L371.3,7.2L365.8,7.2L360.2,7.2L354.6,7.2L349.1,7.2L343.5,7.2L338.0,7.2L332.4,7.2L326.8,7.2L321.3,7.2L315.7,7.2L310.2,7.2L304.6,7.2L299.0,7.2L293.5,7.2L287.9,7.2L282.3,7.2L276.8,7.2L271.2,7.2L265.7,7.2L260.1,7.2L254.5,7.2L249.0,7.2L243.4,7.2L237.9,7.2L232.3,7.2L226.7,7.2L221.2,7.2L215.6,7.2L210.1,7.2L204.5,7.2L198.9,7.2L193.4,7.2L187.8,7.2L182.2,7.2L176.7,7.2L171.1,7.2L165.6,7.2L160.0,7.2L154.4,7.2L148.9,7.2L143.3,7.2L137.8,7.2L132.2,7.2L126.6,7.2L121.1,7.2L115.5,7.2L110.0,7.2L110.0,9.8L110.0,12.5L110.0,15.1L110.0,17.8L110.0,20.4L110.0,23.1L110.0,25.8L110.0,28.4L110.0,31.1L110.0,32.5L114.1,33.7L115.5,34.2L121.1,35.8L122.9,36.4L126.6,37.5L131.8,39.0L132.2,39.2L137.8,40.8L140.8,41.7L143.3,42.4L148.9,44.0L149.9,44.4L154.4,45.6L159.2,47.0L160.0,47.2L165.6,48.8L168.7,49.7L171.1,50.3L176.7,51.8L178.7,52.3L182.2,53.2L187.8,54.7L189.1,55.0L193.4,56.1L198.9,57.5L199.4,57.6L204.5,59.0L209.2,60.3L210.1,60.5L215.6,62.1L218.2,63.0L221.2,63.9L226.7,65.5L227.0,65.6L232.3,67.3L235.0,68.3L237.9,69.3L242.3,70.9L243.4,71.4L249.0,73.5L249.1,73.6L254.5,75.7L255.9,76.2L260.1,77.9L262.7,78.9L265.7,80.0L269.9,81.6L271.2,82.1L276.8,83.9L277.6,84.2L282.3,85.7L286.1,86.9L287.9,87.4L293.5,89.1L294.8,89.5L299.0,90.8L303.7,92.2L304.6,92.4L310.2,94.0L313.1,94.8L315.7,95.6L321.3,97.1L323.0,97.5L326.8,98.5L332.4,99.9L333.3,100.2L338.0,101.5L342.2,102.8L343.5,103.2L349.1,104.9L351.1,105.5L354.6,106.5L360.2,108.1L360.3,108.1L365.8,109.6L369.9,110.8L371.3,111.2L376.9,112.7L379.6,113.4L382.5,114.2L388.0,115.7L389.4,116.1L393.6,117.2L399.1,118.7L399.2,118.8L404.7,120.2L409.0,121.4L410.3,121.7L415.8,123.2L419.0,124.1L421.4,124.7L426.9,126.1L429.3,126.7L432.5,127.5L438.1,128.9L440.0,129.4L443.6,130.3L449.2,131.3L454.1,132.0L454.7,132.1L460.3,133.0L465.9,133.8L471.4,134.6L472.1,134.7L477.0,135.4L482.6,136.2L488.1,136.9L491.7,137.4L493.7,137.6L499.2,138.3L504.8,138.9L510.4,139.6L514.1,140.0L515.9,140.2L521.5,140.8L527.0,141.4L532.6,142.0L538.2,142.6L538.8,142.7L543.7,143.2Z"/>
<path fill="#2d718e" d="M115.5,376.5L121.1,376.5L126.6,376.5L132.2,376.5L137.8,376.5L143.3,376.5L148.9,376.5L154.4,376.5L160.0,376.5L165.6,376.5L171.1,376.5L176.7,376.5L182.2,376.5L187.8,376.5L193.4,376.5L198.9,376.5L204.5,376.5L210.1,376.5L215.6,376.5L221.2,376.5L226.7,376.5L232.3,376.5L237.9,376.5L243.4,376.5L249.0,376.5L254.5,376.5L260.1,376.5L265.7,376.5L271.2,376.5L276.8,376.5L282.3,376.5L287.9,376.5L293.5,376.5L299.0,376.5L304.6,376.5L310.2,376.5L315.7,376.5L321.3,376.5L326.8,376.5L332.4,376.5L338.0,376.5L343.5,376.5L349.1,376.5L354.6,376.5L360.2,376.5L365.8,376.5L371.3,376.5L376.9,376.5L382.5,376.5L388.0,376.5L393.6,376.5L399.1,376.5L404.7,376.5L410.3,376.5L415.8,376.5L421.4,376.5L426.9,376.5L432.5,376.5L438.1,376.5L443.6,376.5L449.2,376.5L454.7,376.5L460.3,376.5L465.9,376.5L471.4,376.5L477.0,376.5L482.6,376.5L488.1,376.5L493.7,376.5L499.2,376.5L504.8,376.5L510.4,376.5L515.9,376.5L521.5,376.5L527.0,376.5L532.6,376.5L538.2,376.5L543.7,376.5L549.3,376.5L554.9,376.5L554.9,373.8L554.9,371.2L554.9,368.5L554.9,365.9L554.9,363.2L554.9,360.6L554.9,357.9L554.9,355.2L554.9,354.0L550.8,352.6L549.3,352.1L543.7,350.3L542.7,349.9L538.2,348.5L534.0,347.3L532.6,346.9L527.0,345.3L524.8,344.6L521.5,343.7L515.9,342.2L515.0,342.0L510.4,340.8L504.8,339.4L504.6,339.3L499.2,338.0L493.8,336.6L493.7,336.6L488.1,335.3L482.8,334.0L482.6,333.9L477.0,332.6L471.7,331.3L471.4,331.3L465.9,330.0L460.4,328.7L460.3,328.7L454.7,327.4L449.2,326.1L448.9,326.0L443.6,324.9L438.1,323.7L436.8,323.4L432.5,322.4L426.9,321.2L424.9,320.7L421.4,319.9L415.8,318.6L413.4,318.0L410.3,317.3L404.7,316.0L401.9,315.4L399.1,314.7L393.6,313.4L390.5,312.7L388.0,312.2L382.5,310.9L378.8,310.1L376.9,309.6L371.3,308.4L367.0,307.4L365.8,307.1L360.2,305.9L355.5,304.8L354.6,304.6L349.1,303.3L344.3,302.1L343.5,301.9L338.0,300.5L333.3,299.4L332.4,299.2L326.8,298.2L321.3,297.2L319.3,296.8L315.7,296.1L310.2,294.9L306.7,294.1L304.6,293.7L299.0,292.4L295.0,291.5L293.5,291.1L287.9,289.8L284.0,288.8L282.3,288.4L276.8,287.0L273.7,286.2L271.2,285.5L265.7,283.8L264.7,283.5L260.1,282.0L256.5,280.8L254.5,280.2L249.0,278.3L248.5,278.2L243.4,276.5L240.2,275.5L237.9,274.8L232.3,273.2L231.2,272.9L226.7,271.7L221.2,270.4L220.4,270.2L215.6,269.0L210.1,267.8L209.1,267.6L204.5,266.6L198.9,265.4L196.2,264.9L193.4,264.4L187.8,263.3L182.5,262.2L182.2,262.2L176.7,261.1L171.1,259.9L169.6,259.6L165.6,258.7L160.0,257.4L157.9,256.9L154.4,256.1L148.9,254.8L146.6,254.3L143.3,253.5L137.8,252.1L135.6,251.6L132.2,250.8L126.6,249.4L124.9,249.0L121.1,248.0L115.5,246.6L114.5,246.3L110.0,245.1L110.0,246.3L110.0,249.0L110.0,251.6L110.0,254.3L110.0,256.9L110.0,259.6L110.0,262.2L110.0,264.9L110.0,267.6L110.0,270.2L110.0,272.9L110.0,275.5L110.0,278.2L110.0,280.8L110.0,283.5L110.0,286.2L110.0,288.8L110.0,291.5L110.0,294.1L110.0,296.8L110.0,299.4L110.0,302.1L110.0,304.8L110.0,307.4L110.0,310.1L110.0,312.7L110.0,315.4L110.0,318.0L110.0,320.7L110.0,323.4L110.0,326.0L110.0,328.7L110.0,331.3L110.0,334.0L110.0,336.6L110.0,339.3L110.0,342.0L110.0,344.6L110.0,347.3L110.0,349.9L110.0,352.6L110.0,355.2L110.0,357.9L110.0,360.6L110.0,363.2L110.0,365.9L110.0,368.5L110.0,371.2L110.0,373.8L110.0,376.5L115.5,376.5ZM538.2,137.6L543.7,138.1L549.3,138.6L554.9,139.1L554.9,137.4L554.9,134.7L554.9,132.0L554.9,129.4L554.9,126.7L554.9,124.1L554.9,121.4L554.9,118.8L554.9,116.1L554.9,113.4L554.9,110.8L554.9,108.1L554.9,105.5L554.9,102.8L554.9,100.2L554.9,97.5L554.9,94.8L554.9,92.2L554.9,89.5L554.9,86.9L554.9,84.2L554.9,81.6L554.9,78.9L554.9,76.2L554.9,73.6L554.9,70.9L554.9,68.3L554.9,65.6L554.9,63.0L554.9,60.3L554.9,57.6L554.9,55.0L554.9,52.3L554.9,49.7L554.9,47.0L554.9,44.4L554.9,41.7L554.9,39.0L554.9,36.4L554.9,33.7L554.9,31.1L554.9,28.4L554.9,25.8L554.9,23.1L554.9,20.4L554.9,17.8L554.9,15.1L554.9,12.5L554.9,9.8L554.9,7.2L549.3,7.2L543.7,7.2L538.2,7.2L532.6,7.2L527.0,7.2L521.5,7.2L515.9,7.2L510.4,7.2L504.8,7.2L499.2,7.2L493.7,7.2L488.1,7.2L482.6,7.2L477.0,7.2L471.4,7.2L465.9,7.2L460.3,7.2L454.7,7.2L449.2,7.2L443.6,7.2L438.1,7.2L432.5,7.2L426.9,7.2L421.4,7.2L415.8,7.2L410.3,7.2L404.7,7.2L399.1,7.2L393.6,7.2L388.0,7.2L382.5,7.2L376.9,7.2L371.3,7.2L365.8,7.2L360.2,7.2L354.6,7.2L349.1,7.2L343.5,7.2L338.0,7.2L332.4,7.2L326.8,7.2L321.3,7.2L315.7,7.2L310.2,7.2L304.6,7.2L299.0,7.2L293.5,7.2L287.9,7.2L282.3,7.2L276.8,7.2L271.2,7.2L265.7,7.2L260.1,7.2L254.5,7.2L249.0,7.2L243.4,7.2L237.9,7.2L232.3,7.2L226.7,7.2L221.2,7.2L215.6,7.2L210.1,7.2L204.5,7.2L198.9,7.2L193.4,7.2L187.8,7.2L182.2,7.2L176.7,7.2L171.1,7.2L165.6,7.2L160.0,7.2L154.4,7.2L148.9,7.2L143.3,7.2L137.8,7.2L132.2,7.2L126.6,7.2L121.1,7.2L115.5,7.2L110.0,7.2L110.0,9.8L110.0,12.5L110.0,15.1L110.0,17.8L110.0,20.4L110.0,23.1L110.0,25.8L110.0,28.2L110.5,28.4L115.5,29.9L119.4,31.1L121.1,31.6L126.6,33.2L128.3,33.7L132.2,34.9L137.4,36.4L137.8,36.5L143.3,38.1L146.6,39.0L148.9,39.7L154.4,41.3L155.9,41.7L160.0,42.9L165.3,44.4L165.6,44.4L171.1,45.9L175.2,47.0L176.7,47.4L182.2,48.8L185.7,49.7L187.8,50.2L193.4,51.6L196.2,52.3L198.9,53.0L204.5,54.5L206.3,55.0L210.1,56.0L215.6,57.6L215.7,57.6L221.2,59.3L224.5,60.3L226.7,61.0L232.3,62.7L232.9,63.0L237.9,64.7L240.3,65.6L243.4,66.8L247.3,68.3L249.0,68.9L254.1,70.9L254.5,71.1L260.1,73.3L260.9,73.6L265.7,75.4L268.0,76.2L271.2,77.4L275.6,78.9L276.8,79.3L282.3,81.1L284.0,81.6L287.9,82.8L292.6,84.2L293.5,84.5L299.0,86.1L301.6,86.9L304.6,87.7L310.2,89.3L310.9,89.5L315.7,90.9L320.7,92.2L321.3,92.3L326.8,93.8L331.2,94.8L332.4,95.1L338.0,96.8L340.3,97.5L343.5,98.5L349.1,100.2L349.1,100.2L354.6,101.8L358.2,102.8L360.2,103.4L365.8,104.9L367.6,105.5L371.3,106.5L376.9,108.0L377.3,108.1L382.5,109.5L387.0,110.8L388.0,111.0L393.6,112.6L396.8,113.4L399.1,114.1L404.7,115.6L406.6,116.1L410.3,117.1L415.8,118.6L416.5,118.8L421.4,120.1L426.6,121.4L426.9,121.5L432.5,122.9L437.1,124.1L438.1,124.3L443.6,125.7L449.2,126.7L449.4,126.7L454.7,127.5L460.3,128.3L465.9,129.1L467.6,129.4L471.4,129.9L477.0,130.7L482.6,131.4L487.3,132.0L488.1,132.1L493.7,132.8L499.2,133.5L504.8,134.1L510.0,134.7L510.4,134.7L515.9,135.3L521.5,135.9L527.0,136.5L532.6,137.1L535.5,137.4L538.2,137.6Z"/>
<path fill="#2b758e" d="M115.5,376.5L121.1,376.5L126.6,376.5L132.2,376.5L137.8,376.5L143.3,376.5L148.9,376.5L154.4,376.5L160.0,376.5L165.6,376.5L171.1,376.5L176.7,376.5L182.2,376.5L187.8,376.5L193.4,376.5L198.9,376.5L204.5,376.5L210.1,376.5L215.6,376.5L221.2,376.5L226.7,376.5L232.3,376.5L237.9,376.5L243.4,376.5L249.0,376.5L254.5,376.5L260.1,376.5L265.7,376.5L271.2,376.5L276.8,376.5L282.3,376.5L287.9,376.5L293.5,376.5L299.0,376.5L304.6,376.5L310.2,376.5L315.7,376.5L321.3,376.5L326.8,376.5L332.4,376.5L338.0,376.5L343.5,376.5L349.1,376.5L354.6,376.5L360.2,376.5L365.8,376.5L371.3,376.5L376.9,376.5L382.5,376.5L388.0,376.5L393.6,376.5L399.1,376.5L404.7,376.5L410.3,376.5L415.8,376.5L421.4,376.5L426.9,376.5L432.5,376.5L438.1,376.5L443.6,376.5L449.2,376.5L454.7,376.5L460.3,376.5L465.9,376.5L471.4,376.5L477.0,376.5L482.6,376.5L488.1,376.5L493.7,376.5L499.2,376.5L504.8,376.5L510.4,376.5L515.9,376.5L521.5,376.5L527.0,376.5L532.6,376.5L538.2,376.5L543.7,376.5L549.3,376.5L554.9,376.5L554.9,373.8L554.9,371.2L554.9,368.5L554.9,365.9L554.9,363.2L554.9,363.1L549.3,360.8L548.6,360.6L543.7,358.7L541.5,357.9L538.2,356.7L534.1,355.2L532.6,354.7L527.0,352.9L526.2,352.6L521.5,351.1L517.8,349.9L515.9,349.3L510.4,347.7L509.0,347.3L504.8,346.1L499.6,344.6L499.2,344.5L493.7,343.0L489.9,342.0L488.1,341.5L482.6,340.0L480.0,339.3L477.0,338.5L471.4,337.1L469.8,336.6L465.9,335.6L460.3,334.2L459.4,334.0L454.7,332.8L449.2,331.4L448.8,331.3L443.6,330.1L438.1,328.9L437.2,328.7L432.5,327.6L426.9,326.3L425.7,326.0L421.4,325.0L415.8,323.6L414.6,323.4L410.3,322.3L404.7,321.0L403.6,320.7L399.1,319.6L393.6,318.3L392.6,318.0L388.0,316.9L382.5,315.6L381.4,315.4L376.9,314.3L371.3,313.0L370.1,312.7L365.8,311.7L360.2,310.4L358.9,310.1L354.6,309.1L349.1,307.7L348.0,307.4L343.5,306.3L338.0,304.9L337.5,304.8L332.4,303.5L326.8,302.5L324.8,302.1L321.3,301.4L315.7,300.3L312.0,299.4L310.2,299.1L304.6,297.8L300.3,296.8L299.0,296.5L293.5,295.2L289.3,294.1L287.9,293.8L282.3,292.4L278.9,291.5L276.8,290.9L271.2,289.4L269.4,288.8L265.7,287.7L261.0,286.2L260.1,285.9L254.5,284.0L253.1,283.5L249.0,282.1L245.2,280.8L243.4,280.3L237.9,278.5L236.9,278.2L232.3,276.8L227.5,275.5L226.7,275.3L221.2,274.0L216.5,272.9L215.6,272.7L210.1,271.4L204.5,270.2L204.5,270.2L198.9,269.1L193.4,268.0L191.0,267.6L187.8,266.9L182.2,265.9L177.3,264.9L176.7,264.8L171.1,263.6L165.6,262.4L164.8,262.2L160.0,261.2L154.4,259.9L153.1,259.6L148.9,258.6L143.3,257.3L141.8,256.9L137.8,256.0L132.2,254.6L130.9,254.3L126.6,253.2L121.1,251.8L120.2,251.6L115.5,250.4L110.0,249.0L110.0,251.6L110.0,254.3L110.0,256.9L110.0,259.6L110.0,262.2L110.0,264.9L110.0,267.6L110.0,270.2L110.0,272.9L110.0,275.5L110.0,278.2L110.0,280.8L110.0,283.5L110.0,286.2L110.0,288.8L110.0,291.5L110.0,294.1L110.0,296.8L110.0,299.4L110.0,302.1L110.0,304.8L110.0,307.4L110.0,310.1L110.0,312.7L110.0,315.4L110.0,318.0L110.0,320.7L110.0,323.4L110.0,326.0L110.0,328.7L110.0,331.3L110.0,334.0L110.0,336.6L110.0,339.3L110.0,342.0L110.0,344.6L110.0,347.3L110.0,349.9L110.0,352.6L110.0,355.2L110.0,357.9L110.0,360.6L110.0,363.2L110.0,365.9L110.0,368.5L110.0,371.2L110.0,373.8L110.0,376.5L115.5,376.5ZM532.6,132.2L538.2,132.7L543.7,133.2L549.3,133.7L554.9,134.2L554.9,132.0L554.9,129.4L554.9,126.7L554.9,124.1L554.9,121.4L554.9,118.8L554.9,116.1L554.9,113.4L554.9,110.8L554.9,108.1L554.9,105.5L554.9,102.8L554.9,100.2L554.9,97.5L554.9,94.8L554.9,92.2L554.9,89.5L554.9,86.9L554.9,84.2L554.9,81.6L554.9,78.9L554.9,76.2L554.9,73.6L554.9,70.9L554.9,68.3L554.9,65.6L554.9,63.0L554.9,60.3L554.9,57.6L554.9,55.0L554.9,52.3L554.9,49.7L554.9,47.0L554.9,44.4L554.9,41.7L554.9,39.0L554.9,36.4L554.9,33.7L554.9,31.1L554.9,28.4L554.9,25.8L554.9,23.1L554.9,20.4L554.9,17.8L554.9,15.1L554.9,12.5L554.9,9.8L554.9,7.2L549.3,7.2L543.7,7.2L538.2,7.2L532.6,7.2L527.0,7.2L521.5,7.2L515.9,7.2L510.4,7.2L504.8,7.2L499.2,7.2L493.7,7.2L488.1,7.2L482.6,7.2L477.0,7.2L471.4,7.2L465.9,7.2L460.3,7.2L454.7,7.2L449.2,7.2L443.6,7.2L438.1,7.2L432.5,7.2L426.9,7.2L421.4,7.2L415.8,7.2L410.3,7.2L404.7,7.2L399.1,7.2L393.6,7.2L388.0,7.2L382.5,7.2L376.9,7.2L371.3,7.2L365.8,7.2L360.2,7.2L354.6,7.2L349.1,7.2L343.5,7.2L338.0,7.2L332.4,7.2L326.8,7.2L321.3,7.2L315.7,7.2L310.2,7.2L304.6,7.2L299.0,7.2L293.5,7.2L287.9,7.2L282.3,7.2L276.8,7.2L271.2,7.2L265.7,7.2L260.1,7.2L254.5,7.2L249.0,7.2L243.4,7.2L237.9,7.2L232.3,7.2L226.7,7.2L221.2,7.2L215.6,7.2L210.1,7.2L204.5,7.2L198.9,7.2L193.4,7.2L187.8,7.2L182.2,7.2L176.7,7.2L171.1,7.2L165.6,7.2L160.0,7.2L154.4,7.2L148.9,7.2L143.3,7.2L137.8,7.2L132.2,7.2L126.6,7.2L121.1,7.2L115.5,7.2L110.0,7.2L110.0,9.8L110.0,12.5L110.0,15.1L110.0,17.8L110.0,20.4L110.0,23.1L110.0,24.0L115.5,25.6L115.9,25.8L121.1,27.3L124.9,28.4L126.6,28.9L132.2,30.5L134.1,31.1L137.8,32.1L143.3,33.7L143.4,33.7L148.9,35.3L152.8,36.4L154.4,36.9L160.0,38.4L162.3,39.0L165.6,40.0L171.1,41.5L172.0,41.7L176.7,42.9L182.2,44.3L182.4,44.4L187.8,45.7L193.1,47.0L193.4,47.1L198.9,48.5L203.5,49.7L204.5,49.9L210.1,51.4L213.2,52.3L215.6,53.0L221.2,54.7L222.1,55.0L226.7,56.3L230.8,57.6L232.3,58.1L237.9,60.1L238.4,60.3L243.4,62.2L245.5,63.0L249.0,64.3L252.3,65.6L254.5,66.5L259.1,68.3L260.1,68.6L265.7,70.8L266.1,70.9L271.2,72.8L273.6,73.6L276.8,74.6L281.9,76.2L282.3,76.4L287.9,78.1L290.6,78.9L293.5,79.8L299.0,81.4L299.5,81.6L304.6,83.0L308.7,84.2L310.2,84.6L315.7,86.1L318.5,86.9L321.3,87.6L326.8,89.0L328.9,89.5L332.4,90.4L338.0,92.0L338.5,92.2L343.5,93.8L347.1,94.8L349.1,95.4L354.6,97.1L356.0,97.5L360.2,98.7L365.3,100.2L365.8,100.3L371.3,101.8L374.9,102.8L376.9,103.4L382.5,104.9L384.5,105.5L388.0,106.4L393.6,107.9L394.2,108.1L399.1,109.5L403.9,110.8L404.7,111.0L410.3,112.5L413.7,113.4L415.8,114.0L421.4,115.5L423.7,116.1L426.9,116.9L432.5,118.4L434.1,118.8L438.1,119.7L443.6,121.1L445.3,121.4L449.2,122.1L454.7,122.9L460.3,123.7L462.6,124.1L465.9,124.5L471.4,125.3L477.0,126.0L482.3,126.7L482.6,126.8L488.1,127.5L493.7,128.1L499.2,128.8L504.8,129.4L504.9,129.4L510.4,130.0L515.9,130.6L521.5,131.1L527.0,131.7L530.8,132.0L532.6,132.2Z"/>
<path fill="#297a8e" d="M115.5,376.5L121.1,376.5L126.6,376.5L132.2,376.5L137.8,376.5L143.3,376.5L148.9,376.5L154.4,376.5L160.0,376.5L165.6,376.5L171.1,376.5L176.7,376.5L182.2,376.5L187.8,376.5L193.4,376.5L198.9,376.5L204.5,376.5L210.1,376.5L215.6,376.5L221.2,376.5L226.7,376.5L232.3,376.5L237.9,376.5L243.4,376.5L249.0,376.5L254.5,376.5L260.1,376.5L265.7,376.5L271.2,376.5L276.8,376.5L282.3,376.5L287.9,376.5L293.5,376.5L299.0,376.5L304.6,376.5L310.2,376.5L315.7,376.5L321.3,376.5L326.8,376.5L332.4,376.5L338.0,376.5L343.5,376.5L349.1,376.5L354.6,376.5L360.2,376.5L365.8,376.5L371.3,376.5L376.9,376.5L382.5,376.5L388.0,376.5L393.6,376.5L399.1,376.5L404.7,376.5L410.3,376.5L415.8,376.5L421.4,376.5L426.9,376.5L432.5,376.5L438.1,376.5L443.6,376.5L449.2,376.5L454.7,376.5L460.3,376.5L465.9,376.5L471.4,376.5L477.0,376.5L482.6,376.5L488.1,376.5L493.7,376.5L499.2,376.5L504.8,376.5L510.4,376.5L515.9,376.5L521.5,376.5L527.0,376.5L532.6,376.5L538.2,376.5L543.7,376.5L549.3,376.5L554.9,376.5L554.9,373.8L554.9,372.2L552.6,371.2L549.3,369.8L546.5,368.5L543.7,367.4L540.2,365.9L538.2,365.1L533.6,363.2L532.6,362.8L527.0,360.7L526.6,360.6L521.5,358.7L519.4,357.9L515.9,356.7L511.7,355.2L510.4,354.8L504.8,353.0L503.6,352.6L499.2,351.2L495.1,349.9L493.7,349.5L488.1,347.8L486.4,347.3L482.6,346.2L477.3,344.6L477.0,344.5L471.4,342.9L468.0,342.0L465.9,341.4L460.3,339.8L458.5,339.3L454.7,338.3L449.2,336.8L448.6,336.6L443.6,335.4L438.1,334.2L437.3,334.0L432.5,332.9L426.9,331.6L426.0,331.3L421.4,330.2L415.8,328.9L415.0,328.7L410.3,327.5L404.7,326.1L404.2,326.0L399.1,324.8L393.6,323.4L393.5,323.4L388.0,322.0L382.7,320.7L382.5,320.6L376.9,319.3L371.8,318.0L371.3,317.9L365.8,316.6L360.9,315.4L360.2,315.2L354.6,313.8L350.4,312.7L349.1,312.4L343.5,311.0L340.2,310.1L338.0,309.5L332.4,308.1L328.9,307.4L326.8,307.0L321.3,305.9L316.1,304.8L315.7,304.7L310.2,303.5L304.6,302.1L304.4,302.1L299.0,300.8L293.5,299.4L293.5,299.4L287.9,298.0L283.2,296.8L282.3,296.6L276.8,295.1L273.4,294.1L271.2,293.5L265.7,291.8L264.8,291.5L260.1,289.9L256.9,288.8L254.5,288.0L249.1,286.2L249.0,286.1L243.4,284.2L241.2,283.5L237.9,282.4L232.7,280.8L232.3,280.7L226.7,279.2L222.6,278.2L221.2,277.8L215.6,276.5L211.4,275.5L210.1,275.2L204.5,274.1L198.9,272.9L198.6,272.9L193.4,271.9L187.8,270.8L184.7,270.2L182.2,269.7L176.7,268.7L171.4,267.6L171.1,267.5L165.6,266.3L160.0,265.1L159.3,264.9L154.4,263.8L148.9,262.5L147.7,262.2L143.3,261.2L137.8,259.9L136.5,259.6L132.2,258.6L126.6,257.2L125.6,256.9L121.1,255.8L115.5,254.4L114.9,254.3L110.0,253.0L110.0,254.3L110.0,256.9L110.0,259.6L110.0,262.2L110.0,264.9L110.0,267.6L110.0,270.2L110.0,272.9L110.0,275.5L110.0,278.2L110.0,280.8L110.0,283.5L110.0,286.2L110.0,288.8L110.0,291.5L110.0,294.1L110.0,296.8L110.0,299.4L110.0,302.1L110.0,304.8L110.0,307.4L110.0,310.1L110.0,312.7L110.0,315.4L110.0,318.0L110.0,320.7L110.0,323.4L110.0,326.0L110.0,328.7L110.0,331.3L110.0,334.0L110.0,336.6L110.0,339.3L110.0,342.0L110.0,344.6L110.0,347.3L110.0,349.9L110.0,352.6L110.0,355.2L110.0,357.9L110.0,360.6L110.0,363.2L110.0,365.9L110.0,368.5L110.0,371.2L110.0,373.8L110.0,376.5L115.5,376.5ZM527.0,127.0L532.6,127.5L538.2,128.0L543.7,128.5L549.3,128.9L554.9,129.4L554.9,126.7L554.9,124.1L554.9,121.4L554.9,118.8L554.9,116.1L554.9,113.4L554.9,110.8L554.9,108.1L554.9,105.5L554.9,102.8L554.9,100.2L554.9,97.5L554.9,94.8L554.9,92.2L554.9,89.5L554.9,86.9L554.9,84.2L554.9,81.6L554.9,78.9L554.9,76.2L554.9,73.6L554.9,70.9L554.9,68.3L554.9,65.6L554.9,63.0L554.9,60.3L554.9,57.6L554.9,55.0L554.9,52.3L554.9,49.7L554.9,47.0L554.9,44.4L554.9,41.7L554.9,39.0L554.9,36.4L554.9,33.7L554.9,31.1L554.9,28.4L554.9,25.8L554.9,23.1L554.9,20.4L554.9,17.8L554.9,15.1L554.9,12.5L554.9,9.8L554.9,7.2L549.3,7.2L543.7,7.2L538.2,7.2L532.6,7.2L527.0,7.2L521.5,7.2L515.9,7.2L510.4,7.2L504.8,7.2L499.2,7.2L493.7,7.2L488.1,7.2L482.6,7.2L477.0,7.2L471.4,7.2L465.9,7.2L460.3,7.2L454.7,7.2L449.2,7.2L443.6,7.2L438.1,7.2L432.5,7.2L426.9,7.2L421.4,7.2L415.8,7.2L410.3,7.2L404.7,7.2L399.1,7.2L393.6,7.2L388.0,7.2L382.5,7.2L376.9,7.2L371.3,7.2L365.8,7.2L360.2,7.2L354.6,7.2L349.1,7.2L343.5,7.2L338.0,7.2L332.4,7.2L326.8,7.2L321.3,7.2L315.7,7.2L310.2,7.2L304.6,7.2L299.0,7.2L293.5,7.2L287.9,7.2L282.3,7.2L276.8,7.2L271.2,7.2L265.7,7.2L260.1,7.2L254.5,7.2L249.0,7.2L243.4,7.2L237.9,7.2L232.3,7.2L226.7,7.2L221.2,7.2L215.6,7.2L210.1,7.2L204.5,7.2L198.9,7.2L193.4,7.2L187.8,7.2L182.2,7.2L176.7,7.2L171.1,7.2L165.6,7.2L160.0,7.2L154.4,7.2L148.9,7.2L143.3,7.2L137.8,7.2L132.2,7.2L126.6,7.2L121.1,7.2L115.5,7.2L110.0,7.2L110.0,9.8L110.0,12.5L110.0,15.1L110.0,17.8L110.0,19.8L112.1,20.4L115.5,21.4L121.1,23.0L121.3,23.1L126.6,24.6L130.6,25.8L132.2,26.2L137.8,27.8L140.0,28.4L143.3,29.4L148.9,30.9L149.5,31.1L154.4,32.4L159.1,33.7L160.0,34.0L165.6,35.5L169.0,36.4L171.1,37.0L176.7,38.4L179.4,39.0L182.2,39.7L187.8,41.1L190.2,41.7L193.4,42.5L198.9,43.8L200.9,44.4L204.5,45.3L210.1,46.8L210.9,47.0L215.6,48.3L220.0,49.7L221.2,50.0L226.7,51.7L228.8,52.3L232.3,53.4L236.7,55.0L237.9,55.4L243.4,57.5L243.9,57.6L249.0,59.6L250.7,60.3L254.5,61.8L257.6,63.0L260.1,63.9L264.5,65.6L265.7,66.1L271.2,68.1L271.8,68.3L276.8,69.9L280.0,70.9L282.3,71.7L287.9,73.4L288.6,73.6L293.5,75.0L297.5,76.2L299.0,76.7L304.6,78.3L306.7,78.9L310.2,79.9L315.7,81.4L316.4,81.6L321.3,82.8L326.7,84.2L326.8,84.3L332.4,85.6L336.6,86.9L338.0,87.3L343.5,89.0L345.2,89.5L349.1,90.7L354.0,92.2L354.6,92.4L360.2,94.0L363.1,94.8L365.8,95.6L371.3,97.2L372.5,97.5L376.9,98.7L382.1,100.2L382.5,100.3L388.0,101.8L391.6,102.8L393.6,103.3L399.1,104.9L401.2,105.5L404.7,106.4L410.3,107.9L410.9,108.1L415.8,109.5L420.8,110.8L421.4,110.9L426.9,112.4L430.9,113.4L432.5,113.8L438.1,115.2L441.5,116.1L443.6,116.6L449.2,117.6L454.7,118.4L457.1,118.8L460.3,119.2L465.9,120.0L471.4,120.7L476.6,121.4L477.0,121.5L482.6,122.2L488.1,122.9L493.7,123.5L498.6,124.1L499.2,124.1L504.8,124.7L510.4,125.3L515.9,125.9L521.5,126.4L524.6,126.7L527.0,127.0Z"/>
<path fill="#27808e" d="M115.5,376.5L121.1,376.5L126.6,376.5L132.2,376.5L137.8,376.5L143.3,376.5L148.9,376.5L154.4,376.5L160.0,376.5L165.6,376.5L171.1,376.5L176.7,376.5L182.2,376.5L187.8,376.5L193.4,376.5L198.9,376.5L204.5,376.5L210.1,376.5L215.6,376.5L221.2,376.5L226.7,376.5L232.3,376.5L237.9,376.5L243.4,376.5L249.0,376.5L254.5,376.5L260.1,376.5L265.7,376.5L271.2,376.5L276.8,376.5L282.3,376.5L287.9,376.5L293.5,376.5L299.0,376.5L304.6,376.5L310.2,376.5L315.7,376.5L321.3,376.5L326.8,376.5L332.4,376.5L338.0,376.5L343.5,376.5L349.1,376.5L354.6,376.5L360.2,376.5L365.8,376.5L371.3,376.5L376.9,376.5L382.5,376.5L388.0,376.5L393.6,376.5L399.1,376.5L404.7,376.5L410.3,376.5L415.8,376.5L421.4,376.5L426.9,376.5L432.5,376.5L438.1,376.5L443.6,376.5L449.2,376.5L454.7,376.5L460.3,376.5L465.9,376.5L471.4,376.5L477.0,376.5L482.6,376.5L488.1,376.5L493.7,376.5L499.2,376.5L504.8,376.5L510.4,376.5L515.9,376.5L521.5,376.5L527.0,376.5L532.6,376.5L538.2,376.5L543.7,376.5L544.7,376.5L543.7,376.0L538.8,373.8L538.2,373.5L532.8,371.2L532.6,371.1L527.0,368.8L526.5,368.5L521.5,366.5L520.0,365.9L515.9,364.3L513.2,363.2L510.4,362.1L506.1,360.6L504.8,360.1L499.2,358.1L498.7,357.9L493.7,356.2L490.9,355.2L488.1,354.3L482.9,352.6L482.6,352.5L477.0,350.7L474.7,349.9L471.4,348.9L466.2,347.3L465.9,347.2L460.3,345.5L457.4,344.6L454.7,343.8L449.2,342.2L448.2,342.0L443.6,340.8L438.1,339.5L437.2,339.3L432.5,338.2L426.9,336.9L425.9,336.6L421.4,335.5L415.8,334.2L415.1,334.0L410.3,332.8L404.7,331.4L404.4,331.3L399.1,330.0L393.8,328.7L393.6,328.6L388.0,327.2L383.2,326.0L382.5,325.8L376.9,324.5L372.4,323.4L371.3,323.1L365.8,321.7L361.8,320.7L360.2,320.3L354.6,318.9L351.5,318.0L349.1,317.4L343.5,315.9L341.5,315.4L338.0,314.4L332.4,313.0L331.2,312.7L326.8,311.9L321.3,310.7L318.5,310.1L315.7,309.5L310.2,308.2L307.0,307.4L304.6,306.8L299.0,305.5L296.3,304.8L293.5,304.0L287.9,302.6L286.1,302.1L282.3,301.1L276.8,299.6L276.3,299.4L271.2,298.0L267.6,296.8L265.7,296.2L260.1,294.3L259.6,294.1L254.5,292.4L252.0,291.5L249.0,290.4L244.3,288.8L243.4,288.5L237.9,286.7L236.2,286.2L232.3,284.9L227.2,283.5L226.7,283.4L221.2,282.0L216.4,280.8L215.6,280.6L210.1,279.4L204.5,278.2L204.4,278.2L198.9,277.1L193.4,276.0L190.9,275.5L187.8,274.9L182.2,273.9L177.2,272.9L176.7,272.8L171.1,271.6L165.6,270.4L164.6,270.2L160.0,269.2L154.4,267.9L152.9,267.6L148.9,266.6L143.3,265.3L141.5,264.9L137.8,264.0L132.2,262.7L130.4,262.2L126.6,261.3L121.1,259.9L119.6,259.6L115.5,258.6L110.0,257.2L110.0,259.6L110.0,262.2L110.0,264.9L110.0,267.6L110.0,270.2L110.0,272.9L110.0,275.5L110.0,278.2L110.0,280.8L110.0,283.5L110.0,286.2L110.0,288.8L110.0,291.5L110.0,294.1L110.0,296.8L110.0,299.4L110.0,302.1L110.0,304.8L110.0,307.4L110.0,310.1L110.0,312.7L110.0,315.4L110.0,318.0L110.0,320.7L110.0,323.4L110.0,326.0L110.0,328.7L110.0,331.3L110.0,334.0L110.0,336.6L110.0,339.3L110.0,342.0L110.0,344.6L110.0,347.3L110.0,349.9L110.0,352.6L110.0,355.2L110.0,357.9L110.0,360.6L110.0,363.2L110.0,365.9L110.0,368.5L110.0,371.2L110.0,373.8L110.0,376.5L115.5,376.5ZM549.3,124.2L554.9,124.7L554.9,124.1L554.9,121.4L554.9,118.8L554.9,116.1L554.9,113.4L554.9,110.8L554.9,108.1L554.9,105.5L554.9,102.8L554.9,100.2L554.9,97.5L554.9,94.8L554.9,92.2L554.9,89.5L554.9,86.9L554.9,84.2L554.9,81.6L554.9,78.9L554.9,76.2L554.9,73.6L554.9,70.9L554.9,68.3L554.9,65.6L554.9,63.0L554.9,60.3L554.9,57.6L554.9,55.0L554.9,52.3L554.9,49.7L554.9,47.0L554.9,44.4L554.9,41.7L554.9,39.0L554.9,36.4L554.9,33.7L554.9,31.1L554.9,28.4L554.9,25.8L554.9,23.1L554.9,20.4L554.9,17.8L554.9,15.1L554.9,12.5L554.9,9.8L554.9,7.2L549.3,7.2L543.7,7.2L538.2,7.2L532.6,7.2L527.0,7.2L521.5,7.2L515.9,7.2L510.4,7.2L504.8,7.2L499.2,7.2L493.7,7.2L488.1,7.2L482.6,7.2L477.0,7.2L471.4,7.2L465.9,7.2L460.3,7.2L454.7,7.2L449.2,7.2L443.6,7.2L438.1,7.2L432.5,7.2L426.9,7.2L421.4,7.2L415.8,7.2L410.3,7.2L404.7,7.2L399.1,7.2L393.6,7.2L388.0,7.2L382.5,7.2L376.9,7.2L371.3,7.2L365.8,7.2L360.2,7.2L354.6,7.2L349.1,7.2L343.5,7.2L338.0,7.2L332.4,7.2L326.8,7.2L321.3,7.2L315.7,7.2L310.2,7.2L304.6,7.2L299.0,7.2L293.5,7.2L287.9,7.2L282.3,7.2L276.8,7.2L271.2,7.2L265.7,7.2L260.1,7.2L254.5,7.2L249.0,7.2L243.4,7.2L237.9,7.2L232.3,7.2L226.7,7.2L221.2,7.2L215.6,7.2L210.1,7.2L204.5,7.2L198.9,7.2L193.4,7.2L187.8,7.2L182.2,7.2L176.7,7.2L171.1,7.2L165.6,7.2L160.0,7.2L154.4,7.2L148.9,7.2L143.3,7.2L137.8,7.2L132.2,7.2L126.6,7.2L121.1,7.2L115.5,7.2L110.0,7.2L110.0,9.8L110.0,12.5L110.0,15.1L110.0,15.6L115.5,17.2L117.5,17.8L121.1,18.8L126.6,20.4L126.9,20.4L132.2,21.9L136.4,23.1L137.8,23.5L143.3,25.0L146.0,25.8L148.9,26.5L154.4,28.0L155.8,28.4L160.0,29.5L165.6,31.0L165.7,31.1L171.1,32.5L176.2,33.7L176.7,33.9L182.2,35.2L187.2,36.4L187.8,36.5L193.4,37.9L198.2,39.0L198.9,39.2L204.5,40.6L208.6,41.7L210.1,42.1L215.6,43.6L218.0,44.4L221.2,45.3L226.7,46.9L227.1,47.0L232.3,48.7L235.1,49.7L237.9,50.6L242.4,52.3L243.4,52.7L249.0,54.8L249.4,55.0L254.5,57.0L256.2,57.6L260.1,59.2L263.1,60.3L265.7,61.3L270.3,63.0L271.2,63.3L276.8,65.1L278.3,65.6L282.3,66.9L286.9,68.3L287.9,68.6L293.5,70.3L295.7,70.9L299.0,71.9L304.6,73.5L304.9,73.6L310.2,75.1L314.5,76.2L315.7,76.6L321.3,78.0L324.7,78.9L326.8,79.4L332.4,80.8L334.9,81.6L338.0,82.5L343.5,84.2L343.5,84.2L349.1,85.9L352.2,86.9L354.6,87.6L360.2,89.2L361.2,89.5L365.8,90.9L370.4,92.2L371.3,92.4L376.9,94.0L379.8,94.8L382.5,95.6L388.0,97.1L389.3,97.5L393.6,98.7L398.7,100.2L399.1,100.3L404.7,101.8L408.2,102.8L410.3,103.4L415.8,104.9L417.9,105.5L421.4,106.4L426.9,107.9L427.9,108.1L432.5,109.3L438.1,110.8L438.2,110.8L443.6,112.1L449.2,113.2L451.2,113.4L454.7,113.9L460.3,114.7L465.9,115.5L470.5,116.1L471.4,116.2L477.0,116.9L482.6,117.6L488.1,118.3L492.0,118.8L493.7,118.9L499.2,119.6L504.8,120.1L510.4,120.7L515.9,121.3L517.4,121.4L521.5,121.8L527.0,122.3L532.6,122.8L538.2,123.3L543.7,123.8L547.2,124.1L549.3,124.2Z"/>
<path fill="#25848e" d="M115.5,376.5L121.1,376.5L126.6,376.5L132.2,376.5L137.8,376.5L143.3,376.5L148.9,376.5L154.4,376.5L160.0,376.5L165.6,376.5L171.1,376.5L176.7,376.5L182.2,376.5L187.8,376.5L193.4,376.5L198.9,376.5L204.5,376.5L210.1,376.5L215.6,376.5L221.2,376.5L226.7,376.5L232.3,376.5L237.9,376.5L243.4,376.5L249.0,376.5L254.5,376.5L260.1,376.5L265.7,376.5L271.2,376.5L276.8,376.5L282.3,376.5L287.9,376.5L293.5,376.5L299.0,376.5L304.6,376.5L310.2,376.5L315.7,376.5L321.3,376.5L326.8,376.5L332.4,376.5L338.0,376.5L343.5,376.5L349.1,376.5L354.6,376.5L360.2,376.5L365.8,376.5L371.3,376.5L376.9,376.5L382.5,376.5L388.0,376.5L393.6,376.5L399.1,376.5L404.7,376.5L410.3,376.5L415.8,376.5L421.4,376.5L426.9,376.5L432.5,376.5L438.1,376.5L443.6,376.5L449.2,376.5L454.7,376.5L460.3,376.5L465.9,376.5L471.4,376.5L477.0,376.5L482.6,376.5L488.1,376.5L493.7,376.5L499.2,376.5L504.8,376.5L510.4,376.5L515.9,376.5L521.5,376.5L526.1,376.5L521.5,374.4L520.1,373.8L515.9,372.0L513.9,371.2L510.4,369.7L507.5,368.5L504.8,367.4L500.9,365.9L499.2,365.2L494.0,363.2L493.7,363.1L488.1,361.0L486.9,360.6L482.6,359.0L479.6,357.9L477.0,357.0L472.0,355.2L471.4,355.0L465.9,353.2L464.2,352.6L460.3,351.3L456.1,349.9L454.7,349.5L449.2,347.7L447.5,347.3L443.6,346.2L438.1,344.9L436.6,344.6L432.5,343.6L426.9,342.3L425.5,342.0L421.4,341.0L415.8,339.6L414.7,339.3L410.3,338.2L404.7,336.8L404.1,336.6L399.1,335.4L393.6,334.0L393.6,334.0L388.0,332.6L383.1,331.3L382.5,331.2L376.9,329.8L372.5,328.7L371.3,328.4L365.8,327.0L362.0,326.0L360.2,325.6L354.6,324.1L351.8,323.4L349.1,322.6L343.5,321.1L342.0,320.7L338.0,319.6L332.4,318.1L332.1,318.0L326.8,316.9L321.3,315.7L319.9,315.4L315.7,314.4L310.2,313.1L308.7,312.7L304.6,311.7L299.0,310.3L298.1,310.1L293.5,308.9L288.1,307.4L287.9,307.4L282.3,305.8L278.5,304.8L276.8,304.3L271.2,302.6L269.7,302.1L265.7,300.8L261.7,299.4L260.1,298.9L254.5,296.9L254.2,296.8L249.0,294.9L246.7,294.1L243.4,293.0L239.0,291.5L237.9,291.1L232.3,289.3L230.5,288.8L226.7,287.7L221.2,286.3L220.5,286.2L215.6,285.0L210.1,283.7L209.1,283.5L204.5,282.5L198.9,281.4L196.1,280.8L193.4,280.3L187.8,279.2L182.3,278.2L182.2,278.2L176.7,277.1L171.1,275.9L169.2,275.5L165.6,274.7L160.0,273.5L157.3,272.9L154.4,272.2L148.9,270.9L145.8,270.2L143.3,269.6L137.8,268.3L134.6,267.6L132.2,267.0L126.6,265.6L123.7,264.9L121.1,264.3L115.5,262.9L113.0,262.2L110.0,261.5L110.0,262.2L110.0,264.9L110.0,267.6L110.0,270.2L110.0,272.9L110.0,275.5L110.0,278.2L110.0,280.8L110.0,283.5L110.0,286.2L110.0,288.8L110.0,291.5L110.0,294.1L110.0,296.8L110.0,299.4L110.0,302.1L110.0,304.8L110.0,307.4L110.0,310.1L110.0,312.7L110.0,315.4L110.0,318.0L110.0,320.7L110.0,323.4L110.0,326.0L110.0,328.7L110.0,331.3L110.0,334.0L110.0,336.6L110.0,339.3L110.0,342.0L110.0,344.6L110.0,347.3L110.0,349.9L110.0,352.6L110.0,355.2L110.0,357.9L110.0,360.6L110.0,363.2L110.0,365.9L110.0,368.5L110.0,371.2L110.0,373.8L110.0,376.5L115.5,376.5ZM543.7,119.1L549.3,119.6L554.9,120.0L554.9,118.8L554.9,116.1L554.9,113.4L554.9,110.8L554.9,108.1L554.9,105.5L554.9,102.8L554.9,100.2L554.9,97.5L554.9,94.8L554.9,92.2L554.9,89.5L554.9,86.9L554.9,84.2L554.9,81.6L554.9,78.9L554.9,76.2L554.9,73.6L554.9,70.9L554.9,68.3L554.9,65.6L554.9,63.0L554.9,60.3L554.9,57.6L554.9,55.0L554.9,52.3L554.9,49.7L554.9,47.0L554.9,44.4L554.9,41.7L554.9,39.0L554.9,36.4L554.9,33.7L554.9,31.1L554.9,28.4L554.9,25.8L554.9,23.1L554.9,20.4L554.9,17.8L554.9,15.1L554.9,12.5L554.9,9.8L554.9,7.2L549.3,7.2L543.7,7.2L538.2,7.2L532.6,7.2L527.0,7.2L521.5,7.2L515.9,7.2L510.4,7.2L504.8,7.2L499.2,7.2L493.7,7.2L488.1,7.2L482.6,7.2L477.0,7.2L471.4,7.2L465.9,7.2L460.3,7.2L454.7,7.2L449.2,7.2L443.6,7.2L438.1,7.2L432.5,7.2L426.9,7.2L421.4,7.2L415.8,7.2L410.3,7.2L404.7,7.2L399.1,7.2L393.6,7.2L388.0,7.2L382.5,7.2L376.9,7.2L371.3,7.2L365.8,7.2L360.2,7.2L354.6,7.2L349.1,7.2L343.5,7.2L338.0,7.2L332.4,7.2L326.8,7.2L321.3,7.2L315.7,7.2L310.2,7.2L304.6,7.2L299.0,7.2L293.5,7.2L287.9,7.2L282.3,7.2L276.8,7.2L271.2,7.2L265.7,7.2L260.1,7.2L254.5,7.2L249.0,7.2L243.4,7.2L237.9,7.2L232.3,7.2L226.7,7.2L221.2,7.2L215.6,7.2L210.1,7.2L204.5,7.2L198.9,7.2L193.4,7.2L187.8,7.2L182.2,7.2L176.7,7.2L171.1,7.2L165.6,7.2L160.0,7.2L154.4,7.2L148.9,7.2L143.3,7.2L137.8,7.2L132.2,7.2L126.6,7.2L121.1,7.2L115.5,7.2L110.0,7.2L110.0,9.8L110.0,11.4L113.7,12.5L115.5,13.0L121.1,14.5L123.2,15.1L126.6,16.1L132.2,17.6L132.8,17.8L137.8,19.1L142.6,20.4L143.3,20.6L148.9,22.1L152.5,23.1L154.4,23.6L160.0,25.1L162.6,25.8L165.6,26.5L171.1,28.0L173.0,28.4L176.7,29.3L182.2,30.6L184.1,31.1L187.8,31.9L193.4,33.2L195.4,33.7L198.9,34.6L204.5,35.9L206.2,36.4L210.1,37.4L215.6,38.9L216.1,39.0L221.2,40.5L225.3,41.7L226.7,42.1L232.3,43.9L233.7,44.4L237.9,45.8L241.1,47.0L243.4,47.9L248.1,49.7L249.0,50.0L254.5,52.2L255.0,52.3L260.1,54.3L261.9,55.0L265.7,56.4L269.1,57.6L271.2,58.4L276.8,60.3L276.9,60.3L282.3,62.0L285.5,63.0L287.9,63.7L293.5,65.4L294.3,65.6L299.0,67.0L303.4,68.3L304.6,68.6L310.2,70.2L312.9,70.9L315.7,71.7L321.3,73.1L323.0,73.6L326.8,74.5L332.4,75.9L333.6,76.2L338.0,77.6L342.1,78.9L343.5,79.3L349.1,81.1L350.7,81.6L354.6,82.7L359.5,84.2L360.2,84.4L365.8,86.0L368.6,86.9L371.3,87.6L376.9,89.2L377.9,89.5L382.5,90.8L387.2,92.2L388.0,92.4L393.6,94.0L396.5,94.8L399.1,95.6L404.7,97.2L405.9,97.5L410.3,98.7L415.4,100.2L415.8,100.3L421.4,101.8L425.1,102.8L426.9,103.3L432.5,104.8L435.1,105.5L438.1,106.2L443.6,107.6L446.3,108.1L449.2,108.6L454.7,109.4L460.3,110.2L464.6,110.8L465.9,111.0L471.4,111.7L477.0,112.4L482.6,113.1L485.5,113.4L488.1,113.8L493.7,114.4L499.2,115.0L504.8,115.6L510.1,116.1L510.4,116.1L515.9,116.7L521.5,117.2L527.0,117.7L532.6,118.2L538.2,118.7L538.9,118.8L543.7,119.1Z"/>
<path fill="#23898e" d="M115.5,376.5L121.1,376.5L126.6,376.5L132.2,376.5L137.8,376.5L143.3,376.5L148.9,376.5L154.4,376.5L160.0,376.5L165.6,376.5L171.1,376.5L176.7,376.5L182.2,376.5L187.8,376.5L193.4,376.5L198.9,376.5L204.5,376.5L210.1,376.5L215.6,376.5L221.2,376.5L226.7,376.5L232.3,376.5L237.9,376.5L243.4,376.5L249.0,376.5L254.5,376.5L260.1,376.5L265.7,376.5L271.2,376.5L276.8,376.5L282.3,376.5L287.9,376.5L293.5,376.5L299.0,376.5L304.6,376.5L310.2,376.5L315.7,376.5L321.3,376.5L326.8,376.5L332.4,376.5L338.0,376.5L343.5,376.5L349.1,376.5L354.6,376.5L360.2,376.5L365.8,376.5L371.3,376.5L376.9,376.5L382.5,376.5L388.0,376.5L393.6,376.5L399.1,376.5L404.7,376.5L410.3,376.5L415.8,376.5L421.4,376.5L426.9,376.5L432.5,376.5L438.1,376.5L443.6,376.5L449.2,376.5L454.7,376.5L460.3,376.5L465.9,376.5L471.4,376.5L477.0,376.5L482.6,376.5L488.1,376.5L493.7,376.5L499.2,376.5L504.8,376.5L508.2,376.5L504.8,375.0L502.1,373.8L499.2,372.6L495.9,371.2L493.7,370.3L489.5,368.5L488.1,368.0L482.9,365.9L482.6,365.7L477.0,363.6L476.1,363.2L471.4,361.4L469.2,360.6L465.9,359.3L461.9,357.9L460.3,357.3L454.7,355.3L454.4,355.2L449.2,353.4L446.3,352.6L443.6,351.8L438.1,350.5L435.5,349.9L432.5,349.2L426.9,347.9L424.5,347.3L421.4,346.5L415.8,345.1L413.8,344.6L410.3,343.7L404.7,342.3L403.3,342.0L399.1,340.9L393.6,339.5L392.9,339.3L388.0,338.1L382.5,336.7L382.4,336.6L376.9,335.2L371.9,334.0L371.3,333.8L365.8,332.4L361.6,331.3L360.2,331.0L354.6,329.5L351.5,328.7L349.1,328.0L343.5,326.5L341.9,326.0L338.0,324.9L332.4,323.4L332.1,323.4L326.8,322.2L321.3,320.9L320.3,320.7L315.7,319.6L310.2,318.2L309.4,318.0L304.6,316.8L299.2,315.4L299.0,315.3L293.5,313.8L289.5,312.7L287.9,312.3L282.3,310.7L280.0,310.1L276.8,309.2L271.2,307.4L271.2,307.4L265.7,305.6L263.4,304.8L260.1,303.6L255.9,302.1L254.5,301.6L249.0,299.6L248.6,299.4L243.4,297.6L241.1,296.8L237.9,295.7L233.1,294.1L232.3,293.9L226.7,292.2L223.7,291.5L221.2,290.8L215.6,289.4L212.9,288.8L210.1,288.2L204.5,287.0L200.5,286.2L198.9,285.8L193.4,284.7L187.8,283.7L186.9,283.5L182.2,282.6L176.7,281.5L173.5,280.8L171.1,280.3L165.6,279.1L161.3,278.2L160.0,277.9L154.4,276.6L149.8,275.5L148.9,275.3L143.3,274.0L138.5,272.9L137.8,272.7L132.2,271.4L127.5,270.2L126.6,270.0L121.1,268.6L116.8,267.6L115.5,267.2L110.0,265.8L110.0,267.6L110.0,270.2L110.0,272.9L110.0,275.5L110.0,278.2L110.0,280.8L110.0,283.5L110.0,286.2L110.0,288.8L110.0,291.5L110.0,294.1L110.0,296.8L110.0,299.4L110.0,302.1L110.0,304.8L110.0,307.4L110.0,310.1L110.0,312.7L110.0,315.4L110.0,318.0L110.0,320.7L110.0,323.4L110.0,326.0L110.0,328.7L110.0,331.3L110.0,334.0L110.0,336.6L110.0,339.3L110.0,342.0L110.0,344.6L110.0,347.3L110.0,349.9L110.0,352.6L110.0,355.2L110.0,357.9L110.0,360.6L110.0,363.2L110.0,365.9L110.0,368.5L110.0,371.2L110.0,373.8L110.0,376.5L115.5,376.5ZM532.6,113.6L538.2,114.0L543.7,114.5L549.3,114.9L554.9,115.3L554.9,113.4L554.9,110.8L554.9,108.1L554.9,105.5L554.9,102.8L554.9,100.2L554.9,97.5L554.9,94.8L554.9,92.2L554.9,89.5L554.9,86.9L554.9,84.2L554.9,81.6L554.9,78.9L554.9,76.2L554.9,73.6L554.9,70.9L554.9,68.3L554.9,65.6L554.9,63.0L554.9,60.3L554.9,57.6L554.9,55.0L554.9,52.3L554.9,49.7L554.9,47.0L554.9,44.4L554.9,41.7L554.9,39.0L554.9,36.4L554.9,33.7L554.9,31.1L554.9,28.4L554.9,25.8L554.9,23.1L554.9,20.4L554.9,17.8L554.9,15.1L554.9,12.5L554.9,9.8L554.9,7.2L549.3,7.2L543.7,7.2L538.2,7.2L532.6,7.2L527.0,7.2L521.5,7.2L515.9,7.2L510.4,7.2L504.8,7.2L499.2,7.2L493.7,7.2L488.1,7.2L482.6,7.2L477.0,7.2L471.4,7.2L465.9,7.2L460.3,7.2L454.7,7.2L449.2,7.2L443.6,7.2L438.1,7.2L432.5,7.2L426.9,7.2L421.4,7.2L415.8,7.2L410.3,7.2L404.7,7.2L399.1,7.2L393.6,7.2L388.0,7.2L382.5,7.2L376.9,7.2L371.3,7.2L365.8,7.2L360.2,7.2L354.6,7.2L349.1,7.2L343.5,7.2L338.0,7.2L332.4,7.2L326.8,7.2L321.3,7.2L315.7,7.2L310.2,7.2L304.6,7.2L299.0,7.2L293.5,7.2L287.9,7.2L282.3,7.2L276.8,7.2L271.2,7.2L265.7,7.2L260.1,7.2L254.5,7.2L249.0,7.2L243.4,7.2L237.9,7.2L232.3,7.2L226.7,7.2L221.2,7.2L215.6,7.2L210.1,7.2L204.5,7.2L198.9,7.2L193.4,7.2L187.8,7.2L182.2,7.2L176.7,7.2L171.1,7.2L165.6,7.2L160.0,7.2L154.4,7.2L148.9,7.2L143.3,7.2L137.8,7.2L132.2,7.2L126.6,7.2L121.1,7.2L115.5,7.2L110.1,7.2L115.5,8.7L119.7,9.8L121.1,10.2L126.6,11.7L129.4,12.5L132.2,13.2L137.8,14.7L139.3,15.1L143.3,16.2L148.9,17.7L149.3,17.8L154.4,19.1L159.5,20.4L160.0,20.6L165.6,22.0L170.0,23.1L171.1,23.4L176.7,24.7L181.2,25.8L182.2,26.0L187.8,27.3L192.7,28.4L193.4,28.6L198.9,29.8L204.0,31.1L204.5,31.2L210.1,32.6L214.3,33.7L215.6,34.1L221.2,35.7L223.6,36.4L226.7,37.3L232.3,39.0L232.3,39.0L237.9,41.0L239.9,41.7L243.4,43.0L246.9,44.4L249.0,45.1L253.8,47.0L254.5,47.3L260.1,49.4L260.7,49.7L265.7,51.5L267.9,52.3L271.2,53.5L275.7,55.0L276.8,55.4L282.3,57.1L284.2,57.6L287.9,58.8L293.0,60.3L293.5,60.4L299.0,62.1L302.2,63.0L304.6,63.6L310.2,65.2L311.7,65.6L315.7,66.7L321.3,68.1L321.7,68.3L326.8,69.5L332.4,70.9L332.6,70.9L338.0,72.5L341.2,73.6L343.5,74.3L349.1,76.1L349.7,76.2L354.6,77.8L358.4,78.9L360.2,79.4L365.8,81.1L367.4,81.6L371.3,82.7L376.5,84.2L376.9,84.3L382.5,85.9L385.7,86.9L388.0,87.5L393.6,89.1L394.9,89.5L399.1,90.8L404.1,92.2L404.7,92.4L410.3,94.0L413.4,94.8L415.8,95.5L421.4,97.1L422.8,97.5L426.9,98.6L432.5,100.1L432.6,100.2L438.1,101.6L442.8,102.8L443.6,103.0L449.2,104.1L454.7,104.8L459.3,105.5L460.3,105.6L465.9,106.4L471.4,107.1L477.0,107.8L479.6,108.1L482.6,108.5L488.1,109.1L493.7,109.8L499.2,110.4L503.1,110.8L504.8,110.9L510.4,111.5L515.9,112.0L521.5,112.6L527.0,113.1L531.1,113.4L532.6,113.6Z"/>
<path fill="#218e8d" d="M115.5,376.5L121.1,376.5L126.6,376.5L132.2,376.5L137.8,376.5L143.3,376.5L148.9,376.5L154.4,376.5L160.0,376.5L165.6,376.5L171.1,376.5L176.7,376.5L182.2,376.5L187.8,376.5L193.4,376.5L198.9,376.5L204.5,376.5L210.1,376.5L215.6,376.5L221.2,376.5L226.7,376.5L232.3,376.5L237.9,376.5L243.4,376.5L249.0,376.5L254.5,376.5L260.1,376.5L265.7,376.5L271.2,376.5L276.8,376.5L282.3,376.5L287.9,376.5L293.5,376.5L299.0,376.5L304.6,376.5L310.2,376.5L315.7,376.5L321.3,376.5L326.8,376.5L332.4,376.5L338.0,376.5L343.5,376.5L349.1,376.5L354.6,376.5L360.2,376.5L365.8,376.5L371.3,376.5L376.9,376.5L382.5,376.5L388.0,376.5L393.6,376.5L399.1,376.5L404.7,376.5L410.3,376.5L415.8,376.5L421.4,376.5L426.9,376.5L432.5,376.5L438.1,376.5L443.6,376.5L449.2,376.5L454.7,376.5L460.3,376.5L465.9,376.5L471.4,376.5L477.0,376.5L482.6,376.5L488.1,376.5L491.0,376.5L488.1,375.2L484.9,373.8L482.6,372.8L478.8,371.2L477.0,370.4L472.5,368.5L471.4,368.1L466.0,365.9L465.9,365.8L460.3,363.6L459.3,363.2L454.7,361.4L452.4,360.6L449.2,359.4L444.5,357.9L443.6,357.6L438.1,356.3L433.6,355.2L432.5,355.0L426.9,353.6L422.7,352.6L421.4,352.3L415.8,350.9L412.2,349.9L410.3,349.4L404.7,348.0L401.8,347.3L399.1,346.6L393.6,345.2L391.5,344.6L388.0,343.7L382.5,342.3L381.1,342.0L376.9,340.9L371.3,339.5L370.7,339.3L365.8,338.0L360.5,336.6L360.2,336.6L354.6,335.1L350.5,334.0L349.1,333.6L343.5,332.1L341.0,331.3L338.0,330.5L332.4,328.9L331.2,328.7L326.8,327.7L321.3,326.3L319.9,326.0L315.7,325.0L310.2,323.5L309.5,323.4L304.6,322.1L299.6,320.7L299.0,320.6L293.5,319.0L290.1,318.0L287.9,317.4L282.3,315.8L280.9,315.4L276.8,314.2L272.2,312.7L271.2,312.4L265.7,310.5L264.4,310.1L260.1,308.5L257.1,307.4L254.5,306.5L250.0,304.8L249.0,304.4L243.4,302.4L242.7,302.1L237.9,300.4L234.9,299.4L232.3,298.6L226.7,296.9L226.3,296.8L221.2,295.4L216.0,294.1L215.6,294.0L210.1,292.8L204.5,291.6L204.1,291.5L198.9,290.4L193.4,289.3L190.8,288.8L187.8,288.2L182.2,287.1L177.3,286.2L176.7,286.0L171.1,284.9L165.6,283.7L164.9,283.5L160.0,282.4L154.4,281.1L153.3,280.8L148.9,279.8L143.3,278.5L142.0,278.2L137.8,277.2L132.2,275.8L131.0,275.5L126.6,274.5L121.1,273.1L120.2,272.9L115.5,271.7L110.0,270.3L110.0,272.9L110.0,275.5L110.0,278.2L110.0,280.8L110.0,283.5L110.0,286.2L110.0,288.8L110.0,291.5L110.0,294.1L110.0,296.8L110.0,299.4L110.0,302.1L110.0,304.8L110.0,307.4L110.0,310.1L110.0,312.7L110.0,315.4L110.0,318.0L110.0,320.7L110.0,323.4L110.0,326.0L110.0,328.7L110.0,331.3L110.0,334.0L110.0,336.6L110.0,339.3L110.0,342.0L110.0,344.6L110.0,347.3L110.0,349.9L110.0,352.6L110.0,355.2L110.0,357.9L110.0,360.6L110.0,363.2L110.0,365.9L110.0,368.5L110.0,371.2L110.0,373.8L110.0,376.5L115.5,376.5ZM527.0,108.4L532.6,108.9L538.2,109.3L543.7,109.8L549.3,110.2L554.9,110.6L554.9,108.1L554.9,105.5L554.9,102.8L554.9,100.2L554.9,97.5L554.9,94.8L554.9,92.2L554.9,89.5L554.9,86.9L554.9,84.2L554.9,81.6L554.9,78.9L554.9,76.2L554.9,73.6L554.9,70.9L554.9,68.3L554.9,65.6L554.9,63.0L554.9,60.3L554.9,57.6L554.9,55.0L554.9,52.3L554.9,49.7L554.9,47.0L554.9,44.4L554.9,41.7L554.9,39.0L554.9,36.4L554.9,33.7L554.9,31.1L554.9,28.4L554.9,25.8L554.9,23.1L554.9,20.4L554.9,17.8L554.9,15.1L554.9,12.5L554.9,9.8L554.9,7.2L549.3,7.2L543.7,7.2L538.2,7.2L532.6,7.2L527.0,7.2L521.5,7.2L515.9,7.2L510.4,7.2L504.8,7.2L499.2,7.2L493.7,7.2L488.1,7.2L482.6,7.2L477.0,7.2L471.4,7.2L465.9,7.2L460.3,7.2L454.7,7.2L449.2,7.2L443.6,7.2L438.1,7.2L432.5,7.2L426.9,7.2L421.4,7.2L415.8,7.2L410.3,7.2L404.7,7.2L399.1,7.2L393.6,7.2L388.0,7.2L382.5,7.2L376.9,7.2L371.3,7.2L365.8,7.2L360.2,7.2L354.6,7.2L349.1,7.2L343.5,7.2L338.0,7.2L332.4,7.2L326.8,7.2L321.3,7.2L315.7,7.2L310.2,7.2L304.6,7.2L299.0,7.2L293.5,7.2L287.9,7.2L282.3,7.2L276.8,7.2L271.2,7.2L265.7,7.2L260.1,7.2L254.5,7.2L249.0,7.2L243.4,7.2L237.9,7.2L232.3,7.2L226.7,7.2L221.2,7.2L215.6,7.2L210.1,7.2L204.5,7.2L198.9,7.2L193.4,7.2L187.8,7.2L182.2,7.2L176.7,7.2L171.1,7.2L165.6,7.2L160.0,7.2L154.4,7.2L148.9,7.2L143.3,7.2L137.8,7.2L132.2,7.2L126.6,7.2L126.4,7.2L126.6,7.2L132.2,8.7L136.4,9.8L137.8,10.2L143.3,11.6L146.5,12.5L148.9,13.1L154.4,14.5L156.8,15.1L160.0,15.9L165.6,17.3L167.4,17.8L171.1,18.7L176.7,20.0L178.6,20.4L182.2,21.3L187.8,22.5L190.4,23.1L193.4,23.8L198.9,25.0L202.0,25.8L204.5,26.3L210.1,27.7L212.7,28.4L215.6,29.2L221.2,30.7L222.3,31.1L226.7,32.3L231.1,33.7L232.3,34.1L237.9,36.0L238.8,36.4L243.4,38.1L246.0,39.0L249.0,40.2L252.9,41.7L254.5,42.3L259.8,44.4L260.1,44.5L265.7,46.6L266.9,47.0L271.2,48.6L274.6,49.7L276.8,50.4L282.3,52.1L283.0,52.3L287.9,53.8L291.9,55.0L293.5,55.5L299.0,57.1L301.0,57.6L304.6,58.7L310.2,60.2L310.5,60.3L315.7,61.7L320.6,63.0L321.3,63.1L326.8,64.5L331.4,65.6L332.4,65.8L338.0,67.5L340.4,68.3L343.5,69.3L348.9,70.9L349.1,71.0L354.6,72.7L357.7,73.6L360.2,74.3L365.8,76.0L366.7,76.2L371.3,77.6L375.8,78.9L376.9,79.2L382.5,80.8L384.9,81.6L388.0,82.5L393.6,84.1L393.9,84.2L399.1,85.7L403.0,86.9L404.7,87.4L410.3,89.0L412.1,89.5L415.8,90.6L421.3,92.2L421.4,92.2L426.9,93.8L430.8,94.8L432.5,95.3L438.1,96.8L440.7,97.5L443.6,98.3L449.2,99.3L454.7,100.1L455.1,100.2L460.3,100.9L465.9,101.6L471.4,102.4L474.8,102.8L477.0,103.1L482.6,103.8L488.1,104.4L493.7,105.1L497.3,105.5L499.2,105.7L504.8,106.2L510.4,106.8L515.9,107.3L521.5,107.9L524.2,108.1L527.0,108.4Z"/>
<path fill="#20928c" d="M115.5,376.5L121.1,376.5L126.6,376.5L132.2,376.5L137.8,376.5L143.3,376.5L148.9,376.5L154.4,376.5L160.0,376.5L165.6,376.5L171.1,376.5L176.7,376.5L182.2,376.5L187.8,376.5L193.4,376.5L198.9,376.5L204.5,376.5L210.1,376.5L215.6,376.5L221.2,376.5L226.7,376.5L232.3,376.5L237.9,376.5L243.4,376.5L249.0,376.5L254.5,376.5L260.1,376.5L265.7,376.5L271.2,376.5L276.8,376.5L282.3,376.5L287.9,376.5L293.5,376.5L299.0,376.5L304.6,376.5L310.2,376.5L315.7,376.5L321.3,376.5L326.8,376.5L332.4,376.5L338.0,376.5L343.5,376.5L349.1,376.5L354.6,376.5L360.2,376.5L365.8,376.5L371.3,376.5L376.9,376.5L382.5,376.5L388.0,376.5L393.6,376.5L399.1,376.5L404.7,376.5L410.3,376.5L415.8,376.5L421.4,376.5L426.9,376.5L432.5,376.5L438.1,376.5L443.6,376.5L449.2,376.5L454.7,376.5L460.3,376.5L465.9,376.5L471.4,376.5L474.6,376.5L471.4,375.1L468.6,373.8L465.9,372.7L462.5,371.2L460.3,370.2L456.3,368.5L454.7,367.9L449.9,365.9L449.2,365.6L443.6,363.7L441.5,363.2L438.1,362.4L432.5,361.0L430.6,360.6L426.9,359.7L421.4,358.2L420.0,357.9L415.8,356.8L410.3,355.4L409.7,355.2L404.7,353.9L399.5,352.6L399.1,352.5L393.6,351.0L389.3,349.9L388.0,349.6L382.5,348.2L379.0,347.3L376.9,346.7L371.3,345.3L368.8,344.6L365.8,343.8L360.2,342.4L358.7,342.0L354.6,340.9L349.1,339.4L348.9,339.3L343.5,337.8L339.5,336.6L338.0,336.2L332.4,334.7L329.6,334.0L326.8,333.3L321.3,332.0L318.8,331.3L315.7,330.5L310.2,329.0L308.8,328.7L304.6,327.5L299.2,326.0L299.0,326.0L293.5,324.4L290.0,323.4L287.9,322.7L282.3,321.1L281.1,320.7L276.8,319.4L272.6,318.0L271.2,317.6L265.7,315.6L265.0,315.4L260.1,313.6L257.8,312.7L254.5,311.5L250.8,310.1L249.0,309.4L243.7,307.4L243.4,307.3L237.9,305.3L236.2,304.8L232.3,303.4L228.0,302.1L226.7,301.7L221.2,300.2L218.1,299.4L215.6,298.8L210.1,297.5L206.7,296.8L204.5,296.3L198.9,295.1L193.9,294.1L193.4,294.0L187.8,292.9L182.2,291.8L180.5,291.5L176.7,290.7L171.1,289.5L167.9,288.8L165.6,288.3L160.0,287.0L156.2,286.2L154.4,285.7L148.9,284.4L145.0,283.5L143.3,283.1L137.8,281.8L134.0,280.8L132.2,280.4L126.6,279.0L123.2,278.2L121.1,277.7L115.5,276.3L112.7,275.5L110.0,274.8L110.0,275.5L110.0,278.2L110.0,280.8L110.0,283.5L110.0,286.2L110.0,288.8L110.0,291.5L110.0,294.1L110.0,296.8L110.0,299.4L110.0,302.1L110.0,304.8L110.0,307.4L110.0,310.1L110.0,312.7L110.0,315.4L110.0,318.0L110.0,320.7L110.0,323.4L110.0,326.0L110.0,328.7L110.0,331.3L110.0,334.0L110.0,336.6L110.0,339.3L110.0,342.0L110.0,344.6L110.0,347.3L110.0,349.9L110.0,352.6L110.0,355.2L110.0,357.9L110.0,360.6L110.0,363.2L110.0,365.9L110.0,368.5L110.0,371.2L110.0,373.8L110.0,376.5L115.5,376.5ZM554.9,105.9L554.9,105.5L554.9,102.8L554.9,100.2L554.9,97.5L554.9,94.8L554.9,92.2L554.9,89.5L554.9,86.9L554.9,84.2L554.9,81.6L554.9,78.9L554.9,76.2L554.9,73.6L554.9,70.9L554.9,68.3L554.9,65.6L554.9,63.0L554.9,60.3L554.9,57.6L554.9,55.0L554.9,52.3L554.9,49.7L554.9,47.0L554.9,44.4L554.9,41.7L554.9,39.0L554.9,36.4L554.9,33.7L554.9,31.1L554.9,28.4L554.9,25.8L554.9,23.1L554.9,20.4L554.9,17.8L554.9,15.1L554.9,12.5L554.9,9.8L554.9,7.2L549.3,7.2L543.7,7.2L538.2,7.2L532.6,7.2L527.0,7.2L521.5,7.2L515.9,7.2L510.4,7.2L504.8,7.2L499.2,7.2L493.7,7.2L488.1,7.2L482.6,7.2L477.0,7.2L471.4,7.2L465.9,7.2L460.3,7.2L454.7,7.2L449.2,7.2L443.6,7.2L438.1,7.2L432.5,7.2L426.9,7.2L421.4,7.2L415.8,7.2L410.3,7.2L404.7,7.2L399.1,7.2L393.6,7.2L388.0,7.2L382.5,7.2L376.9,7.2L371.3,7.2L365.8,7.2L360.2,7.2L354.6,7.2L349.1,7.2L343.5,7.2L338.0,7.2L332.4,7.2L326.8,7.2L321.3,7.2L315.7,7.2L310.2,7.2L304.6,7.2L299.0,7.2L293.5,7.2L287.9,7.2L282.3,7.2L276.8,7.2L271.2,7.2L265.7,7.2L260.1,7.2L254.5,7.2L249.0,7.2L243.4,7.2L237.9,7.2L232.3,7.2L226.7,7.2L221.2,7.2L215.6,7.2L210.1,7.2L204.5,7.2L198.9,7.2L193.4,7.2L187.8,7.2L182.2,7.2L176.7,7.2L171.1,7.2L165.6,7.2L160.0,7.2L154.4,7.2L148.9,7.2L144.4,7.2L148.9,8.3L154.4,9.7L154.8,9.8L160.0,11.1L165.4,12.5L165.6,12.5L171.1,13.8L176.7,15.1L176.7,15.1L182.2,16.3L187.8,17.6L188.7,17.8L193.4,18.8L198.9,20.0L200.6,20.4L204.5,21.3L210.1,22.7L211.7,23.1L215.6,24.1L221.2,25.6L221.5,25.8L226.7,27.2L230.4,28.4L232.3,29.0L237.9,31.0L238.1,31.1L243.4,33.0L245.2,33.7L249.0,35.2L252.1,36.4L254.5,37.3L258.9,39.0L260.1,39.5L265.7,41.6L266.0,41.7L271.2,43.6L273.6,44.4L276.8,45.4L281.9,47.0L282.3,47.1L287.9,48.8L290.7,49.7L293.5,50.5L299.0,52.1L299.8,52.3L304.6,53.7L309.2,55.0L310.2,55.2L315.7,56.7L319.2,57.6L321.3,58.2L326.8,59.5L330.0,60.3L332.4,60.9L338.0,62.5L339.4,63.0L343.5,64.2L348.1,65.6L349.1,65.9L354.6,67.6L357.0,68.3L360.2,69.2L365.8,70.8L366.1,70.9L371.3,72.4L375.3,73.6L376.9,74.0L382.5,75.6L384.5,76.2L388.0,77.3L393.6,78.9L393.6,78.9L399.1,80.5L402.6,81.6L404.7,82.2L410.3,83.8L411.6,84.2L415.8,85.4L420.8,86.9L421.4,87.0L426.9,88.6L430.1,89.5L432.5,90.2L438.1,91.7L439.7,92.2L443.6,93.2L449.2,94.3L452.7,94.8L454.7,95.1L460.3,95.9L465.9,96.7L471.4,97.5L471.7,97.5L477.0,98.2L482.6,98.9L488.1,99.6L493.1,100.2L493.7,100.2L499.2,100.8L504.8,101.4L510.4,102.0L515.9,102.5L518.8,102.8L521.5,103.1L527.0,103.6L532.6,104.1L538.2,104.6L543.7,105.0L549.3,105.5L549.4,105.5L554.9,105.9Z"/>
<path fill="#1f978b" d="M115.5,376.5L121.1,376.5L126.6,376.5L132.2,376.5L137.8,376.5L143.3,376.5L148.9,376.5L154.4,376.5L160.0,376.5L165.6,376.5L171.1,376.5L176.7,376.5L182.2,376.5L187.8,376.5L193.4,376.5L198.9,376.5L204.5,376.5L210.1,376.5L215.6,376.5L221.2,376.5L226.7,376.5L232.3,376.5L237.9,376.5L243.4,376.5L249.0,376.5L254.5,376.5L260.1,376.5L265.7,376.5L271.2,376.5L276.8,376.5L282.3,376.5L287.9,376.5L293.5,376.5L299.0,376.5L304.6,376.5L310.2,376.5L315.7,376.5L321.3,376.5L326.8,376.5L332.4,376.5L338.0,376.5L343.5,376.5L349.1,376.5L354.6,376.5L360.2,376.5L365.8,376.5L371.3,376.5L376.9,376.5L382.5,376.5L388.0,376.5L393.6,376.5L399.1,376.5L404.7,376.5L410.3,376.5L415.8,376.5L421.4,376.5L426.9,376.5L432.5,376.5L438.1,376.5L443.6,376.5L449.2,376.5L454.7,376.5L458.8,376.5L454.7,374.7L452.9,373.8L449.2,372.2L446.3,371.2L443.6,370.2L438.1,368.8L436.8,368.5L432.5,367.4L426.9,366.0L426.4,365.9L421.4,364.6L416.3,363.2L415.8,363.1L410.3,361.6L406.3,360.6L404.7,360.1L399.1,358.6L396.4,357.9L393.6,357.2L388.0,355.7L386.4,355.2L382.5,354.2L376.9,352.8L376.2,352.6L371.3,351.3L366.1,349.9L365.8,349.8L360.2,348.4L356.2,347.3L354.6,346.9L349.1,345.3L346.6,344.6L343.5,343.7L338.0,342.1L337.4,342.0L332.4,340.6L327.3,339.3L326.8,339.2L321.3,337.8L317.1,336.6L315.7,336.3L310.2,334.7L307.5,334.0L304.6,333.2L299.0,331.6L298.3,331.3L293.5,329.9L289.4,328.7L287.9,328.2L282.3,326.5L280.7,326.0L276.8,324.8L272.5,323.4L271.2,322.9L265.7,320.9L265.0,320.7L260.1,318.9L258.0,318.0L254.5,316.7L251.1,315.4L249.0,314.6L244.2,312.7L243.4,312.4L237.9,310.4L236.9,310.1L232.3,308.5L228.9,307.4L226.7,306.7L221.2,305.2L219.5,304.8L215.6,303.8L210.1,302.4L208.5,302.1L204.5,301.2L198.9,300.0L196.0,299.4L193.4,298.9L187.8,297.8L182.8,296.8L182.2,296.7L176.7,295.5L171.1,294.3L170.1,294.1L165.6,293.1L160.0,291.8L158.5,291.5L154.4,290.5L148.9,289.2L147.3,288.8L143.3,287.8L137.8,286.5L136.4,286.2L132.2,285.1L126.6,283.7L125.7,283.5L121.1,282.3L115.5,280.9L115.2,280.8L110.0,279.5L110.0,280.8L110.0,283.5L110.0,286.2L110.0,288.8L110.0,291.5L110.0,294.1L110.0,296.8L110.0,299.4L110.0,302.1L110.0,304.8L110.0,307.4L110.0,310.1L110.0,312.7L110.0,315.4L110.0,318.0L110.0,320.7L110.0,323.4L110.0,326.0L110.0,328.7L110.0,331.3L110.0,334.0L110.0,336.6L110.0,339.3L110.0,342.0L110.0,344.6L110.0,347.3L110.0,349.9L110.0,352.6L110.0,355.2L110.0,357.9L110.0,360.6L110.0,363.2L110.0,365.9L110.0,368.5L110.0,371.2L110.0,373.8L110.0,376.5L115.5,376.5ZM549.3,100.6L554.9,101.0L554.9,100.2L554.9,97.5L554.9,94.8L554.9,92.2L554.9,89.5L554.9,86.9L554.9,84.2L554.9,81.6L554.9,78.9L554.9,76.2L554.9,73.6L554.9,70.9L554.9,68.3L554.9,65.6L554.9,63.0L554.9,60.3L554.9,57.6L554.9,55.0L554.9,52.3L554.9,49.7L554.9,47.0L554.9,44.4L554.9,41.7L554.9,39.0L554.9,36.4L554.9,33.7L554.9,31.1L554.9,28.4L554.9,25.8L554.9,23.1L554.9,20.4L554.9,17.8L554.9,15.1L554.9,12.5L554.9,9.8L554.9,7.2L549.3,7.2L543.7,7.2L538.2,7.2L532.6,7.2L527.0,7.2L521.5,7.2L515.9,7.2L510.4,7.2L504.8,7.2L499.2,7.2L493.7,7.2L488.1,7.2L482.6,7.2L477.0,7.2L471.4,7.2L465.9,7.2L460.3,7.2L454.7,7.2L449.2,7.2L443.6,7.2L438.1,7.2L432.5,7.2L426.9,7.2L421.4,7.2L415.8,7.2L410.3,7.2L404.7,7.2L399.1,7.2L393.6,7.2L388.0,7.2L382.5,7.2L376.9,7.2L371.3,7.2L365.8,7.2L360.2,7.2L354.6,7.2L349.1,7.2L343.5,7.2L338.0,7.2L332.4,7.2L326.8,7.2L321.3,7.2L315.7,7.2L310.2,7.2L304.6,7.2L299.0,7.2L293.5,7.2L287.9,7.2L282.3,7.2L276.8,7.2L271.2,7.2L265.7,7.2L260.1,7.2L254.5,7.2L249.0,7.2L243.4,7.2L237.9,7.2L232.3,7.2L226.7,7.2L221.2,7.2L215.6,7.2L210.1,7.2L204.5,7.2L198.9,7.2L193.4,7.2L187.8,7.2L182.2,7.2L176.7,7.2L171.1,7.2L165.6,7.2L164.4,7.2L165.6,7.4L171.1,8.7L175.9,9.8L176.7,10.0L182.2,11.2L187.8,12.4L188.1,12.5L193.4,13.6L198.9,14.8L200.3,15.1L204.5,16.1L210.1,17.4L211.6,17.8L215.6,18.8L221.2,20.3L221.6,20.4L226.7,21.9L230.2,23.1L232.3,23.8L237.8,25.8L237.9,25.8L243.4,27.9L244.8,28.4L249.0,30.0L251.5,31.1L254.5,32.2L258.3,33.7L260.1,34.4L265.2,36.4L265.7,36.5L271.2,38.6L272.6,39.0L276.8,40.4L280.8,41.7L282.3,42.2L287.9,43.9L289.5,44.4L293.5,45.6L298.4,47.0L299.0,47.2L304.6,48.8L307.7,49.7L310.2,50.3L315.7,51.8L317.6,52.3L321.3,53.3L326.8,54.7L328.1,55.0L332.4,56.0L338.0,57.6L338.1,57.6L343.5,59.3L347.0,60.3L349.1,60.9L354.6,62.5L356.1,63.0L360.2,64.1L365.4,65.6L365.8,65.7L371.3,67.3L374.8,68.3L376.9,68.9L382.5,70.4L384.2,70.9L388.0,72.0L393.4,73.6L393.6,73.6L399.1,75.2L402.5,76.2L404.7,76.9L410.3,78.5L411.7,78.9L415.8,80.1L420.8,81.6L421.4,81.7L426.9,83.3L430.1,84.2L432.5,84.9L438.1,86.4L439.6,86.9L443.6,87.9L449.2,89.1L452.2,89.5L454.7,89.9L460.3,90.7L465.9,91.5L470.6,92.2L471.4,92.3L477.0,93.1L482.6,93.8L488.1,94.5L491.0,94.8L493.7,95.2L499.2,95.8L504.8,96.4L510.4,97.0L515.4,97.5L515.9,97.6L521.5,98.1L527.0,98.6L532.6,99.2L538.2,99.7L543.7,100.1L544.0,100.2L549.3,100.6Z"/>
<path fill="#1e9c89" d="M115.5,376.5L121.1,376.5L126.6,376.5L132.2,376.5L137.8,376.5L143.3,376.5L148.9,376.5L154.4,376.5L160.0,376.5L165.6,376.5L171.1,376.5L176.7,376.5L182.2,376.5L187.8,376.5L193.4,376.5L198.9,376.5L204.5,376.5L210.1,376.5L215.6,376.5L221.2,376.5L226.7,376.5L232.3,376.5L237.9,376.5L243.4,376.5L249.0,376.5L254.5,376.5L260.1,376.5L265.7,376.5L271.2,376.5L276.8,376.5L282.3,376.5L287.9,376.5L293.5,376.5L299.0,376.5L304.6,376.5L310.2,376.5L315.7,376.5L321.3,376.5L326.8,376.5L332.4,376.5L338.0,376.5L343.5,376.5L349.1,376.5L354.6,376.5L360.2,376.5L365.8,376.5L371.3,376.5L376.9,376.5L382.5,376.5L388.0,376.5L393.6,376.5L399.1,376.5L404.7,376.5L410.3,376.5L415.8,376.5L421.4,376.5L426.9,376.5L432.5,376.5L438.1,376.5L441.7,376.5L438.1,375.6L432.5,374.1L431.5,373.8L426.9,372.6L421.5,371.2L421.4,371.1L415.8,369.6L411.8,368.5L410.3,368.1L404.7,366.6L402.1,365.9L399.1,365.1L393.6,363.5L392.4,363.2L388.0,362.0L382.5,360.6L382.5,360.5L376.9,359.0L372.6,357.9L371.3,357.6L365.8,356.1L362.8,355.2L360.2,354.5L354.6,353.0L353.1,352.6L349.1,351.5L343.8,349.9L343.5,349.9L338.0,348.2L334.7,347.3L332.4,346.6L326.8,345.2L324.6,344.6L321.3,343.7L315.7,342.2L314.9,342.0L310.2,340.6L305.6,339.3L304.6,339.0L299.0,337.3L296.7,336.6L293.5,335.6L288.1,334.0L287.9,333.9L282.3,332.2L279.7,331.3L276.8,330.4L271.8,328.7L271.2,328.5L265.7,326.4L264.5,326.0L260.1,324.3L257.7,323.4L254.5,322.1L251.0,320.7L249.0,319.9L244.2,318.0L243.4,317.8L237.9,315.7L237.0,315.4L232.3,313.7L229.3,312.7L226.7,311.9L221.2,310.3L220.2,310.1L215.6,308.9L210.1,307.6L209.4,307.4L204.5,306.3L198.9,305.1L197.2,304.8L193.4,304.0L187.8,302.8L184.3,302.1L182.2,301.7L176.7,300.5L171.6,299.4L171.1,299.3L165.6,298.1L160.1,296.8L160.0,296.8L154.4,295.4L149.0,294.1L148.9,294.1L143.3,292.7L138.2,291.5L137.8,291.4L132.2,290.0L127.6,288.8L126.6,288.6L121.1,287.2L117.2,286.2L115.5,285.7L110.0,284.3L110.0,286.2L110.0,288.8L110.0,291.5L110.0,294.1L110.0,296.8L110.0,299.4L110.0,302.1L110.0,304.8L110.0,307.4L110.0,310.1L110.0,312.7L110.0,315.4L110.0,318.0L110.0,320.7L110.0,323.4L110.0,326.0L110.0,328.7L110.0,331.3L110.0,334.0L110.0,336.6L110.0,339.3L110.0,342.0L110.0,344.6L110.0,347.3L110.0,349.9L110.0,352.6L110.0,355.2L110.0,357.9L110.0,360.6L110.0,363.2L110.0,365.9L110.0,368.5L110.0,371.2L110.0,373.8L110.0,376.5L115.5,376.5ZM543.7,95.2L549.3,95.6L554.9,96.1L554.9,94.8L554.9,92.2L554.9,89.5L554.9,86.9L554.9,84.2L554.9,81.6L554.9,78.9L554.9,76.2L554.9,73.6L554.9,70.9L554.9,68.3L554.9,65.6L554.9,63.0L554.9,60.3L554.9,57.6L554.9,55.0L554.9,52.3L554.9,49.7L554.9,47.0L554.9,44.4L554.9,41.7L554.9,39.0L554.9,36.4L554.9,33.7L554.9,31.1L554.9,28.4L554.9,25.8L554.9,23.1L554.9,20.4L554.9,17.8L554.9,15.1L554.9,12.5L554.9,9.8L554.9,7.2L549.3,7.2L543.7,7.2L538.2,7.2L532.6,7.2L527.0,7.2L521.5,7.2L515.9,7.2L510.4,7.2L504.8,7.2L499.2,7.2L493.7,7.2L488.1,7.2L482.6,7.2L477.0,7.2L471.4,7.2L465.9,7.2L460.3,7.2L454.7,7.2L449.2,7.2L443.6,7.2L438.1,7.2L432.5,7.2L426.9,7.2L421.4,7.2L415.8,7.2L410.3,7.2L404.7,7.2L399.1,7.2L393.6,7.2L388.0,7.2L382.5,7.2L376.9,7.2L371.3,7.2L365.8,7.2L360.2,7.2L354.6,7.2L349.1,7.2L343.5,7.2L338.0,7.2L332.4,7.2L326.8,7.2L321.3,7.2L315.7,7.2L310.2,7.2L304.6,7.2L299.0,7.2L293.5,7.2L287.9,7.2L282.3,7.2L276.8,7.2L271.2,7.2L265.7,7.2L260.1,7.2L254.5,7.2L249.0,7.2L243.4,7.2L237.9,7.2L232.3,7.2L226.7,7.2L221.2,7.2L215.6,7.2L210.1,7.2L204.5,7.2L198.9,7.2L193.4,7.2L188.7,7.2L193.4,8.1L198.9,9.3L201.2,9.8L204.5,10.5L210.1,11.8L212.7,12.5L215.6,13.2L221.2,14.7L222.6,15.1L226.7,16.4L230.8,17.8L232.3,18.3L237.9,20.4L238.1,20.4L243.4,22.5L244.8,23.1L249.0,24.8L251.4,25.8L254.5,27.0L258.0,28.4L260.1,29.3L264.7,31.1L265.7,31.4L271.2,33.5L271.8,33.7L276.8,35.4L279.8,36.4L282.3,37.2L287.9,39.0L288.2,39.0L293.5,40.7L296.9,41.7L299.0,42.3L304.6,44.0L306.0,44.4L310.2,45.5L315.5,47.0L315.7,47.1L321.3,48.5L325.7,49.7L326.8,49.9L332.4,51.3L336.1,52.3L338.0,52.9L343.5,54.5L345.2,55.0L349.1,56.1L354.6,57.6L354.6,57.7L360.2,59.2L364.2,60.3L365.8,60.7L371.3,62.3L373.9,63.0L376.9,63.8L382.5,65.3L383.5,65.6L388.0,66.9L393.0,68.3L393.6,68.4L399.1,70.0L402.4,70.9L404.7,71.6L410.3,73.2L411.7,73.6L415.8,74.8L421.1,76.2L421.4,76.3L426.9,77.9L430.5,78.9L432.5,79.5L438.1,81.0L440.1,81.6L443.6,82.5L449.2,83.6L452.9,84.2L454.7,84.5L460.3,85.3L465.9,86.2L470.6,86.9L471.4,87.0L477.0,87.8L482.6,88.5L488.1,89.3L490.2,89.5L493.7,90.0L499.2,90.6L504.8,91.3L510.4,91.9L513.3,92.2L515.9,92.5L521.5,93.0L527.0,93.6L532.6,94.1L538.2,94.7L540.1,94.8L543.7,95.2Z"/>
<path fill="#1fa188" d="M115.5,376.5L121.1,376.5L126.6,376.5L132.2,376.5L137.8,376.5L143.3,376.5L148.9,376.5L154.4,376.5L160.0,376.5L165.6,376.5L171.1,376.5L176.7,376.5L182.2,376.5L187.8,376.5L193.4,376.5L198.9,376.5L204.5,376.5L210.1,376.5L215.6,376.5L221.2,376.5L226.7,376.5L232.3,376.5L237.9,376.5L243.4,376.5L249.0,376.5L254.5,376.5L260.1,376.5L265.7,376.5L271.2,376.5L276.8,376.5L282.3,376.5L287.9,376.5L293.5,376.5L299.0,376.5L304.6,376.5L310.2,376.5L315.7,376.5L321.3,376.5L326.8,376.5L332.4,376.5L338.0,376.5L343.5,376.5L349.1,376.5L354.6,376.5L360.2,376.5L365.8,376.5L371.3,376.5L376.9,376.5L382.5,376.5L388.0,376.5L393.6,376.5L399.1,376.5L404.7,376.5L410.3,376.5L415.8,376.5L416.0,376.5L415.8,376.4L410.3,374.9L406.6,373.8L404.7,373.3L399.1,371.7L397.1,371.2L393.6,370.2L388.0,368.6L387.7,368.5L382.5,367.1L378.0,365.9L376.9,365.6L371.3,364.0L368.4,363.2L365.8,362.5L360.2,360.9L358.8,360.6L354.6,359.4L349.5,357.9L349.1,357.8L343.5,356.2L340.5,355.2L338.0,354.5L332.4,352.9L331.4,352.6L326.8,351.4L321.5,349.9L321.3,349.9L315.7,348.3L312.2,347.3L310.2,346.7L304.6,345.0L303.3,344.6L299.0,343.3L294.7,342.0L293.5,341.6L287.9,339.8L286.4,339.3L282.3,338.0L278.2,336.6L276.8,336.2L271.2,334.2L270.6,334.0L265.7,332.2L263.6,331.3L260.1,330.0L256.9,328.7L254.5,327.7L250.3,326.0L249.0,325.5L243.6,323.4L243.4,323.3L237.9,321.2L236.6,320.7L232.3,319.2L228.9,318.0L226.7,317.3L221.2,315.7L220.0,315.4L215.6,314.2L210.1,312.9L209.4,312.7L204.5,311.6L198.9,310.4L197.4,310.1L193.4,309.2L187.8,308.1L184.7,307.4L182.2,306.9L176.7,305.7L172.2,304.8L171.1,304.5L165.6,303.2L160.8,302.1L160.0,301.9L154.4,300.6L149.9,299.4L148.9,299.2L143.3,297.8L139.2,296.8L137.8,296.4L132.2,295.0L128.7,294.1L126.6,293.6L121.1,292.2L118.4,291.5L115.5,290.7L110.0,289.2L110.0,291.5L110.0,294.1L110.0,296.8L110.0,299.4L110.0,302.1L110.0,304.8L110.0,307.4L110.0,310.1L110.0,312.7L110.0,315.4L110.0,318.0L110.0,320.7L110.0,323.4L110.0,326.0L110.0,328.7L110.0,331.3L110.0,334.0L110.0,336.6L110.0,339.3L110.0,342.0L110.0,344.6L110.0,347.3L110.0,349.9L110.0,352.6L110.0,355.2L110.0,357.9L110.0,360.6L110.0,363.2L110.0,365.9L110.0,368.5L110.0,371.2L110.0,373.8L110.0,376.5L115.5,376.5ZM538.2,89.6L543.7,90.1L549.3,90.6L554.9,91.1L554.9,89.5L554.9,86.9L554.9,84.2L554.9,81.6L554.9,78.9L554.9,76.2L554.9,73.6L554.9,70.9L554.9,68.3L554.9,65.6L554.9,63.0L554.9,60.3L554.9,57.6L554.9,55.0L554.9,52.3L554.9,49.7L554.9,47.0L554.9,44.4L554.9,41.7L554.9,39.0L554.9,36.4L554.9,33.7L554.9,31.1L554.9,28.4L554.9,25.8L554.9,23.1L554.9,20.4L554.9,17.8L554.9,15.1L554.9,12.5L554.9,9.8L554.9,7.2L549.3,7.2L543.7,7.2L538.2,7.2L532.6,7.2L527.0,7.2L521.5,7.2L515.9,7.2L510.4,7.2L504.8,7.2L499.2,7.2L493.7,7.2L488.1,7.2L482.6,7.2L477.0,7.2L471.4,7.2L465.9,7.2L460.3,7.2L454.7,7.2L449.2,7.2L443.6,7.2L438.1,7.2L432.5,7.2L426.9,7.2L421.4,7.2L415.8,7.2L410.3,7.2L404.7,7.2L399.1,7.2L393.6,7.2L388.0,7.2L382.5,7.2L376.9,7.2L371.3,7.2L365.8,7.2L360.2,7.2L354.6,7.2L349.1,7.2L343.5,7.2L338.0,7.2L332.4,7.2L326.8,7.2L321.3,7.2L315.7,7.2L310.2,7.2L304.6,7.2L299.0,7.2L293.5,7.2L287.9,7.2L282.3,7.2L276.8,7.2L271.2,7.2L265.7,7.2L260.1,7.2L254.5,7.2L249.0,7.2L243.4,7.2L237.9,7.2L232.3,7.2L226.7,7.2L221.2,7.2L215.6,7.2L214.7,7.2L215.6,7.4L221.2,8.8L224.3,9.8L226.7,10.6L231.9,12.5L232.3,12.6L237.9,14.8L238.8,15.1L243.4,17.0L245.2,17.8L249.0,19.3L251.6,20.4L254.5,21.7L257.9,23.1L260.1,24.0L264.4,25.8L265.7,26.2L271.2,28.4L271.3,28.4L276.8,30.4L278.9,31.1L282.3,32.2L287.0,33.7L287.9,34.0L293.5,35.8L295.4,36.4L299.0,37.5L304.2,39.0L304.6,39.2L310.2,40.8L313.3,41.7L315.7,42.4L321.3,43.9L323.1,44.4L326.8,45.3L332.4,46.7L333.5,47.0L338.0,48.3L342.9,49.7L343.5,49.8L349.1,51.4L352.4,52.3L354.6,52.9L360.2,54.4L362.2,55.0L365.8,55.9L371.3,57.4L372.2,57.6L376.9,58.9L382.2,60.3L382.5,60.4L388.0,61.9L392.1,63.0L393.6,63.4L399.1,64.9L401.8,65.6L404.7,66.4L410.3,67.9L411.4,68.3L415.8,69.5L421.0,70.9L421.4,71.0L426.9,72.5L430.8,73.6L432.5,74.1L438.1,75.5L440.7,76.2L443.6,77.0L449.2,78.1L453.9,78.9L454.7,79.0L460.3,79.9L465.9,80.8L471.0,81.6L471.4,81.6L477.0,82.4L482.6,83.2L488.1,84.0L489.9,84.2L493.7,84.7L499.2,85.4L504.8,86.0L510.4,86.7L511.9,86.9L515.9,87.3L521.5,87.9L527.0,88.5L532.6,89.1L537.1,89.5L538.2,89.6Z"/>
<path fill="#21a685" d="M115.5,376.5L121.1,376.5L126.6,376.5L132.2,376.5L137.8,376.5L143.3,376.5L148.9,376.5L154.4,376.5L160.0,376.5L165.6,376.5L171.1,376.5L176.7,376.5L182.2,376.5L187.8,376.5L193.4,376.5L198.9,376.5L204.5,376.5L210.1,376.5L215.6,376.5L221.2,376.5L226.7,376.5L232.3,376.5L237.9,376.5L243.4,376.5L249.0,376.5L254.5,376.5L260.1,376.5L265.7,376.5L271.2,376.5L276.8,376.5L282.3,376.5L287.9,376.5L293.5,376.5L299.0,376.5L304.6,376.5L310.2,376.5L315.7,376.5L321.3,376.5L326.8,376.5L332.4,376.5L338.0,376.5L343.5,376.5L349.1,376.5L354.6,376.5L360.2,376.5L365.8,376.5L371.3,376.5L376.9,376.5L382.5,376.5L388.0,376.5L391.6,376.5L388.0,375.5L382.5,373.9L382.3,373.8L376.9,372.3L372.9,371.2L371.3,370.7L365.8,369.2L363.6,368.5L360.2,367.6L354.6,366.0L354.3,365.9L349.1,364.3L345.4,363.2L343.5,362.7L338.0,361.0L336.6,360.6L332.4,359.3L327.3,357.9L326.8,357.8L321.3,356.2L318.0,355.2L315.7,354.6L310.2,352.9L309.1,352.6L304.6,351.2L300.6,349.9L299.0,349.5L293.5,347.7L292.3,347.3L287.9,345.9L284.2,344.6L282.3,344.0L276.8,342.2L276.2,342.0L271.2,340.2L269.0,339.3L265.7,338.0L262.2,336.6L260.1,335.8L255.6,334.0L254.5,333.5L249.1,331.3L249.0,331.3L243.4,329.0L242.5,328.7L237.9,326.9L235.6,326.0L232.3,324.8L228.0,323.4L226.7,322.9L221.2,321.3L219.0,320.7L215.6,319.8L210.1,318.4L208.4,318.0L204.5,317.1L198.9,315.9L196.5,315.4L193.4,314.7L187.8,313.6L183.9,312.7L182.2,312.4L176.7,311.2L171.7,310.1L171.1,309.9L165.6,308.6L160.5,307.4L160.0,307.3L154.4,305.9L149.8,304.8L148.9,304.5L143.3,303.1L139.2,302.1L137.8,301.7L132.2,300.3L128.9,299.4L126.6,298.9L121.1,297.4L118.8,296.8L115.5,295.9L110.0,294.4L110.0,296.8L110.0,299.4L110.0,302.1L110.0,304.8L110.0,307.4L110.0,310.1L110.0,312.7L110.0,315.4L110.0,318.0L110.0,320.7L110.0,323.4L110.0,326.0L110.0,328.7L110.0,331.3L110.0,334.0L110.0,336.6L110.0,339.3L110.0,342.0L110.0,344.6L110.0,347.3L110.0,349.9L110.0,352.6L110.0,355.2L110.0,357.9L110.0,360.6L110.0,363.2L110.0,365.9L110.0,368.5L110.0,371.2L110.0,373.8L110.0,376.5L115.5,376.5ZM538.2,84.6L543.7,85.1L549.3,85.6L554.9,86.1L554.9,84.2L554.9,81.6L554.9,78.9L554.9,76.2L554.9,73.6L554.9,70.9L554.9,68.3L554.9,65.6L554.9,63.0L554.9,60.3L554.9,57.6L554.9,55.0L554.9,52.3L554.9,49.7L554.9,47.0L554.9,44.4L554.9,41.7L554.9,39.0L554.9,36.4L554.9,33.7L554.9,31.1L554.9,28.4L554.9,25.8L554.9,23.1L554.9,20.4L554.9,17.8L554.9,15.1L554.9,12.5L554.9,9.8L554.9,7.2L549.3,7.2L543.7,7.2L538.2,7.2L532.6,7.2L527.0,7.2L521.5,7.2L515.9,7.2L510.4,7.2L504.8,7.2L499.2,7.2L493.7,7.2L488.1,7.2L482.6,7.2L477.0,7.2L471.4,7.2L465.9,7.2L460.3,7.2L454.7,7.2L449.2,7.2L443.6,7.2L438.1,7.2L432.5,7.2L426.9,7.2L421.4,7.2L415.8,7.2L410.3,7.2L404.7,7.2L399.1,7.2L393.6,7.2L388.0,7.2L382.5,7.2L376.9,7.2L371.3,7.2L365.8,7.2L360.2,7.2L354.6,7.2L349.1,7.2L343.5,7.2L338.0,7.2L332.4,7.2L326.8,7.2L321.3,7.2L315.7,7.2L310.2,7.2L304.6,7.2L299.0,7.2L293.5,7.2L287.9,7.2L282.3,7.2L276.8,7.2L271.2,7.2L265.7,7.2L260.1,7.2L254.5,7.2L249.0,7.2L243.4,7.2L237.9,7.2L233.1,7.2L237.9,9.1L239.6,9.8L243.4,11.4L245.8,12.5L249.0,13.8L251.9,15.1L254.5,16.3L258.0,17.8L260.1,18.7L264.3,20.4L265.7,21.0L270.9,23.1L271.2,23.2L276.8,25.3L278.2,25.8L282.3,27.2L286.0,28.4L287.9,29.1L293.5,30.9L294.0,31.1L299.0,32.7L302.4,33.7L304.6,34.4L310.2,36.1L311.2,36.4L315.7,37.7L320.4,39.0L321.3,39.3L326.8,40.8L330.4,41.7L332.4,42.2L338.0,43.7L340.2,44.4L343.5,45.3L349.1,46.8L349.8,47.0L354.6,48.3L359.8,49.7L360.2,49.8L365.8,51.2L370.0,52.3L371.3,52.7L376.9,54.1L380.3,55.0L382.5,55.5L388.0,57.0L390.4,57.6L393.6,58.5L399.1,60.0L400.4,60.3L404.7,61.4L410.3,62.9L410.4,63.0L415.8,64.4L420.3,65.6L421.4,65.9L426.9,67.4L430.4,68.3L432.5,68.8L438.1,70.2L440.8,70.9L443.6,71.7L449.2,72.8L454.1,73.6L454.7,73.7L460.3,74.6L465.9,75.4L471.0,76.2L471.4,76.3L477.0,77.1L482.6,77.9L488.1,78.7L489.4,78.9L493.7,79.5L499.2,80.2L504.8,80.9L510.4,81.5L510.6,81.6L515.9,82.2L521.5,82.8L527.0,83.4L532.6,84.0L534.6,84.2L538.2,84.6Z"/>
<path fill="#25ab82" d="M115.5,376.5L121.1,376.5L126.6,376.5L132.2,376.5L137.8,376.5L143.3,376.5L148.9,376.5L154.4,376.5L160.0,376.5L165.6,376.5L171.1,376.5L176.7,376.5L182.2,376.5L187.8,376.5L193.4,376.5L198.9,376.5L204.5,376.5L210.1,376.5L215.6,376.5L221.2,376.5L226.7,376.5L232.3,376.5L237.9,376.5L243.4,376.5L249.0,376.5L254.5,376.5L260.1,376.5L265.7,376.5L271.2,376.5L276.8,376.5L282.3,376.5L287.9,376.5L293.5,376.5L299.0,376.5L304.6,376.5L310.2,376.5L315.7,376.5L321.3,376.5L326.8,376.5L332.4,376.5L338.0,376.5L343.5,376.5L349.1,376.5L354.6,376.5L360.2,376.5L365.8,376.5L367.3,376.5L365.8,376.0L360.2,374.4L358.3,373.8L354.6,372.8L349.4,371.2L349.1,371.1L343.5,369.4L340.8,368.5L338.0,367.6L332.4,365.9L332.2,365.9L326.8,364.4L322.9,363.2L321.3,362.7L315.7,361.1L314.1,360.6L310.2,359.4L305.6,357.9L304.6,357.6L299.0,355.8L297.4,355.2L293.5,354.0L289.4,352.6L287.9,352.1L282.3,350.2L281.5,349.9L276.8,348.3L274.0,347.3L271.2,346.3L267.0,344.6L265.7,344.1L260.4,342.0L260.1,341.8L254.5,339.5L254.0,339.3L249.0,337.2L247.7,336.6L243.4,334.9L241.1,334.0L237.9,332.7L234.2,331.3L232.3,330.6L226.7,328.7L226.7,328.7L221.2,327.0L217.5,326.0L215.6,325.5L210.1,324.1L206.8,323.4L204.5,322.8L198.9,321.6L194.9,320.7L193.4,320.4L187.8,319.2L182.5,318.0L182.2,318.0L176.7,316.8L171.1,315.5L170.5,315.4L165.6,314.2L160.0,312.8L159.5,312.7L154.4,311.5L148.9,310.1L148.9,310.1L143.3,308.7L138.5,307.4L137.8,307.2L132.2,305.8L128.3,304.8L126.6,304.3L121.1,302.9L118.2,302.1L115.5,301.4L110.0,299.9L110.0,302.1L110.0,304.8L110.0,307.4L110.0,310.1L110.0,312.7L110.0,315.4L110.0,318.0L110.0,320.7L110.0,323.4L110.0,326.0L110.0,328.7L110.0,331.3L110.0,334.0L110.0,336.6L110.0,339.3L110.0,342.0L110.0,344.6L110.0,347.3L110.0,349.9L110.0,352.6L110.0,355.2L110.0,357.9L110.0,360.6L110.0,363.2L110.0,365.9L110.0,368.5L110.0,371.2L110.0,373.8L110.0,376.5L115.5,376.5ZM532.6,79.0L538.2,79.5L543.7,80.1L549.3,80.6L554.9,81.2L554.9,78.9L554.9,76.2L554.9,73.6L554.9,70.9L554.9,68.3L554.9,65.6L554.9,63.0L554.9,60.3L554.9,57.6L554.9,55.0L554.9,52.3L554.9,49.7L554.9,47.0L554.9,44.4L554.9,41.7L554.9,39.0L554.9,36.4L554.9,33.7L554.9,31.1L554.9,28.4L554.9,25.8L554.9,23.1L554.9,20.4L554.9,17.8L554.9,15.1L554.9,12.5L554.9,9.8L554.9,7.2L549.3,7.2L543.7,7.2L538.2,7.2L532.6,7.2L527.0,7.2L521.5,7.2L515.9,7.2L510.4,7.2L504.8,7.2L499.2,7.2L493.7,7.2L488.1,7.2L482.6,7.2L477.0,7.2L471.4,7.2L465.9,7.2L460.3,7.2L454.7,7.2L449.2,7.2L443.6,7.2L438.1,7.2L432.5,7.2L426.9,7.2L421.4,7.2L415.8,7.2L410.3,7.2L404.7,7.2L399.1,7.2L393.6,7.2L388.0,7.2L382.5,7.2L376.9,7.2L371.3,7.2L365.8,7.2L360.2,7.2L354.6,7.2L349.1,7.2L343.5,7.2L338.0,7.2L332.4,7.2L326.8,7.2L321.3,7.2L315.7,7.2L310.2,7.2L304.6,7.2L299.0,7.2L293.5,7.2L287.9,7.2L282.3,7.2L276.8,7.2L271.2,7.2L265.7,7.2L260.1,7.2L254.5,7.2L249.0,7.2L246.2,7.2L249.0,8.4L252.1,9.8L254.5,10.9L258.0,12.5L260.1,13.4L264.1,15.1L265.7,15.8L270.5,17.8L271.2,18.1L276.8,20.2L277.4,20.4L282.3,22.2L284.9,23.1L287.9,24.1L292.6,25.8L293.5,26.0L299.0,27.9L300.6,28.4L304.6,29.7L309.0,31.1L310.2,31.4L315.7,33.1L317.8,33.7L321.3,34.7L326.8,36.3L327.2,36.4L332.4,37.8L337.0,39.0L338.0,39.3L343.5,40.8L346.8,41.7L349.1,42.3L354.6,43.8L357.0,44.4L360.2,45.2L365.8,46.6L367.4,47.0L371.3,48.0L376.9,49.4L377.9,49.7L382.5,50.8L388.0,52.2L388.4,52.3L393.6,53.7L398.7,55.0L399.1,55.1L404.7,56.5L408.9,57.6L410.3,58.0L415.8,59.4L419.1,60.3L421.4,60.9L426.9,62.3L429.4,63.0L432.5,63.7L438.1,65.1L440.0,65.6L443.6,66.5L449.2,67.6L453.3,68.3L454.7,68.5L460.3,69.4L465.9,70.3L470.0,70.9L471.4,71.1L477.0,72.0L482.6,72.8L488.1,73.6L488.1,73.6L493.7,74.3L499.2,75.1L504.8,75.7L508.8,76.2L510.4,76.4L515.9,77.1L521.5,77.7L527.0,78.4L532.0,78.9L532.6,79.0Z"/>
<path fill="#29af7f" d="M115.5,376.5L121.1,376.5L126.6,376.5L132.2,376.5L137.8,376.5L143.3,376.5L148.9,376.5L154.4,376.5L160.0,376.5L165.6,376.5L171.1,376.5L176.7,376.5L182.2,376.5L187.8,376.5L193.4,376.5L198.9,376.5L204.5,376.5L210.1,376.5L215.6,376.5L221.2,376.5L226.7,376.5L232.3,376.5L237.9,376.5L243.4,376.5L249.0,376.5L254.5,376.5L260.1,376.5L265.7,376.5L271.2,376.5L276.8,376.5L282.3,376.5L287.9,376.5L293.5,376.5L299.0,376.5L304.6,376.5L310.2,376.5L315.7,376.5L321.3,376.5L326.8,376.5L332.4,376.5L338.0,376.5L343.5,376.5L344.1,376.5L343.5,376.3L338.0,374.5L335.8,373.8L332.4,372.8L327.0,371.2L326.8,371.1L321.3,369.5L318.2,368.5L315.7,367.8L310.2,366.0L309.8,365.9L304.6,364.2L301.7,363.2L299.0,362.3L293.8,360.6L293.5,360.5L287.9,358.5L286.1,357.9L282.3,356.6L278.5,355.2L276.8,354.7L271.3,352.6L271.2,352.6L265.7,350.4L264.7,349.9L260.1,348.0L258.3,347.3L254.5,345.7L252.1,344.6L249.0,343.3L245.8,342.0L243.4,341.0L239.3,339.3L237.9,338.7L232.5,336.6L232.3,336.6L226.7,334.6L224.7,334.0L221.2,332.9L215.6,331.4L215.5,331.3L210.1,330.0L204.7,328.7L204.5,328.6L198.9,327.4L193.4,326.1L192.8,326.0L187.8,324.9L182.2,323.7L180.6,323.4L176.7,322.5L171.1,321.2L168.9,320.7L165.6,319.9L160.0,318.5L158.1,318.0L154.4,317.1L148.9,315.7L147.6,315.4L143.3,314.3L137.8,312.8L137.3,312.7L132.2,311.4L127.3,310.1L126.6,309.9L121.1,308.4L117.4,307.4L115.5,306.9L110.0,305.4L110.0,307.4L110.0,310.1L110.0,312.7L110.0,315.4L110.0,318.0L110.0,320.7L110.0,323.4L110.0,326.0L110.0,328.7L110.0,331.3L110.0,334.0L110.0,336.6L110.0,339.3L110.0,342.0L110.0,344.6L110.0,347.3L110.0,349.9L110.0,352.6L110.0,355.2L110.0,357.9L110.0,360.6L110.0,363.2L110.0,365.9L110.0,368.5L110.0,371.2L110.0,373.8L110.0,376.5L115.5,376.5ZM532.6,74.0L538.2,74.5L543.7,75.1L549.3,75.7L554.9,76.2L554.9,73.6L554.9,70.9L554.9,68.3L554.9,65.6L554.9,63.0L554.9,60.3L554.9,57.6L554.9,55.0L554.9,52.3L554.9,49.7L554.9,47.0L554.9,44.4L554.9,41.7L554.9,39.0L554.9,36.4L554.9,33.7L554.9,31.1L554.9,28.4L554.9,25.8L554.9,23.1L554.9,20.4L554.9,17.8L554.9,15.1L554.9,12.5L554.9,9.8L554.9,7.2L549.3,7.2L543.7,7.2L538.2,7.2L532.6,7.2L527.0,7.2L521.5,7.2L515.9,7.2L510.4,7.2L504.8,7.2L499.2,7.2L493.7,7.2L488.1,7.2L482.6,7.2L477.0,7.2L471.4,7.2L465.9,7.2L460.3,7.2L454.7,7.2L449.2,7.2L443.6,7.2L438.1,7.2L432.5,7.2L426.9,7.2L421.4,7.2L415.8,7.2L410.3,7.2L404.7,7.2L399.1,7.2L393.6,7.2L388.0,7.2L382.5,7.2L376.9,7.2L371.3,7.2L365.8,7.2L360.2,7.2L354.6,7.2L349.1,7.2L343.5,7.2L338.0,7.2L332.4,7.2L326.8,7.2L321.3,7.2L315.7,7.2L310.2,7.2L304.6,7.2L299.0,7.2L293.5,7.2L287.9,7.2L282.3,7.2L276.8,7.2L271.2,7.2L265.7,7.2L260.1,7.2L257.9,7.2L260.1,8.2L263.7,9.8L265.7,10.7L269.9,12.5L271.2,13.0L276.5,15.1L276.8,15.2L282.3,17.3L283.7,17.8L287.9,19.3L291.1,20.4L293.5,21.3L298.7,23.1L299.0,23.2L304.6,25.1L306.7,25.8L310.2,26.9L315.1,28.4L315.7,28.6L321.3,30.3L324.0,31.1L326.8,31.9L332.4,33.4L333.5,33.7L338.0,34.9L343.3,36.4L343.5,36.4L349.1,37.9L353.6,39.0L354.6,39.3L360.2,40.7L364.3,41.7L365.8,42.1L371.3,43.4L375.1,44.4L376.9,44.8L382.5,46.2L385.9,47.0L388.0,47.5L393.6,48.9L396.5,49.7L399.1,50.3L404.7,51.7L407.0,52.3L410.3,53.1L415.8,54.6L417.5,55.0L421.4,56.0L426.9,57.3L428.1,57.6L432.5,58.7L438.1,60.1L439.0,60.3L443.6,61.4L449.2,62.5L452.0,63.0L454.7,63.4L460.3,64.3L465.9,65.2L468.6,65.6L471.4,66.1L477.0,66.9L482.6,67.7L486.4,68.3L488.1,68.5L493.7,69.3L499.2,70.0L504.8,70.7L506.7,70.9L510.4,71.4L515.9,72.0L521.5,72.7L527.0,73.3L529.2,73.6L532.6,74.0Z"/>
<path fill="#2fb47c" d="M115.5,376.5L121.1,376.5L126.6,376.5L132.2,376.5L137.8,376.5L143.3,376.5L148.9,376.5L154.4,376.5L160.0,376.5L165.6,376.5L171.1,376.5L176.7,376.5L182.2,376.5L187.8,376.5L193.4,376.5L198.9,376.5L204.5,376.5L210.1,376.5L215.6,376.5L221.2,376.5L226.7,376.5L232.3,376.5L237.9,376.5L243.4,376.5L249.0,376.5L254.5,376.5L260.1,376.5L265.7,376.5L271.2,376.5L276.8,376.5L282.3,376.5L287.9,376.5L293.5,376.5L299.0,376.5L304.6,376.5L310.2,376.5L315.7,376.5L321.3,376.5L321.5,376.5L321.3,376.4L315.7,374.7L313.2,373.8L310.2,372.9L305.1,371.2L304.6,371.0L299.0,369.1L297.3,368.5L293.5,367.2L289.7,365.9L287.9,365.2L282.3,363.3L282.2,363.2L276.8,361.2L275.0,360.6L271.2,359.1L268.3,357.9L265.7,356.8L261.9,355.2L260.1,354.5L255.7,352.6L254.5,352.1L249.6,349.9L249.0,349.6L243.4,347.3L243.4,347.3L237.9,345.0L237.0,344.6L232.3,342.8L230.0,342.0L226.7,340.8L222.2,339.3L221.2,339.0L215.6,337.4L212.5,336.6L210.1,336.0L204.5,334.7L201.6,334.0L198.9,333.4L193.4,332.1L189.8,331.3L187.8,330.9L182.2,329.7L177.9,328.7L176.7,328.4L171.1,327.1L166.7,326.0L165.6,325.7L160.0,324.3L156.1,323.4L154.4,322.9L148.9,321.5L145.8,320.7L143.3,320.0L137.8,318.6L135.7,318.0L132.2,317.1L126.6,315.6L125.8,315.4L121.1,314.1L116.0,312.7L115.5,312.6L110.0,311.0L110.0,312.7L110.0,315.4L110.0,318.0L110.0,320.7L110.0,323.4L110.0,326.0L110.0,328.7L110.0,331.3L110.0,334.0L110.0,336.6L110.0,339.3L110.0,342.0L110.0,344.6L110.0,347.3L110.0,349.9L110.0,352.6L110.0,355.2L110.0,357.9L110.0,360.6L110.0,363.2L110.0,365.9L110.0,368.5L110.0,371.2L110.0,373.8L110.0,376.5L115.5,376.5ZM554.9,71.2L554.9,70.9L554.9,68.3L554.9,65.6L554.9,63.0L554.9,60.3L554.9,57.6L554.9,55.0L554.9,52.3L554.9,49.7L554.9,47.0L554.9,44.4L554.9,41.7L554.9,39.0L554.9,36.4L554.9,33.7L554.9,31.1L554.9,28.4L554.9,25.8L554.9,23.1L554.9,20.4L554.9,17.8L554.9,15.1L554.9,12.5L554.9,9.8L554.9,7.2L549.3,7.2L543.7,7.2L538.2,7.2L532.6,7.2L527.0,7.2L521.5,7.2L515.9,7.2L510.4,7.2L504.8,7.2L499.2,7.2L493.7,7.2L488.1,7.2L482.6,7.2L477.0,7.2L471.4,7.2L465.9,7.2L460.3,7.2L454.7,7.2L449.2,7.2L443.6,7.2L438.1,7.2L432.5,7.2L426.9,7.2L421.4,7.2L415.8,7.2L410.3,7.2L404.7,7.2L399.1,7.2L393.6,7.2L388.0,7.2L382.5,7.2L376.9,7.2L371.3,7.2L365.8,7.2L360.2,7.2L354.6,7.2L349.1,7.2L343.5,7.2L338.0,7.2L332.4,7.2L326.8,7.2L321.3,7.2L315.7,7.2L310.2,7.2L304.6,7.2L299.0,7.2L293.5,7.2L287.9,7.2L282.3,7.2L276.8,7.2L271.2,7.2L269.0,7.2L271.2,8.1L275.4,9.8L276.8,10.4L282.3,12.5L282.3,12.5L287.9,14.6L289.4,15.1L293.5,16.6L296.8,17.8L299.0,18.6L304.4,20.4L304.6,20.5L310.2,22.4L312.4,23.1L315.7,24.2L320.8,25.8L321.3,25.9L326.8,27.6L329.8,28.4L332.4,29.2L338.0,30.7L339.5,31.1L343.5,32.1L349.1,33.5L349.9,33.7L354.6,34.9L360.2,36.3L360.6,36.4L365.8,37.6L371.3,38.9L371.7,39.0L376.9,40.3L382.5,41.6L382.9,41.7L388.0,42.9L393.6,44.3L393.9,44.4L399.1,45.6L404.7,47.0L404.7,47.0L410.3,48.4L415.5,49.7L415.8,49.7L421.4,51.1L426.4,52.3L426.9,52.5L432.5,53.8L437.6,55.0L438.1,55.1L443.6,56.4L449.2,57.4L450.4,57.6L454.7,58.4L460.3,59.2L465.9,60.1L467.0,60.3L471.4,61.0L477.0,61.8L482.6,62.6L484.8,63.0L488.1,63.4L493.7,64.2L499.2,64.9L504.8,65.6L504.8,65.6L510.4,66.3L515.9,67.0L521.5,67.6L527.0,68.3L527.1,68.3L532.6,68.9L538.2,69.5L543.7,70.1L549.3,70.6L552.4,70.9L554.9,71.2Z"/>
<path fill="#37b878" d="M115.5,376.5L121.1,376.5L126.6,376.5L132.2,376.5L137.8,376.5L143.3,376.5L148.9,376.5L154.4,376.5L160.0,376.5L165.6,376.5L171.1,376.5L176.7,376.5L182.2,376.5L187.8,376.5L193.4,376.5L198.9,376.5L204.5,376.5L210.1,376.5L215.6,376.5L221.2,376.5L226.7,376.5L232.3,376.5L237.9,376.5L243.4,376.5L249.0,376.5L254.5,376.5L260.1,376.5L265.7,376.5L271.2,376.5L276.8,376.5L282.3,376.5L287.9,376.5L293.5,376.5L299.0,376.5L300.0,376.5L299.0,376.2L293.5,374.2L292.5,373.8L287.9,372.2L285.1,371.2L282.3,370.2L277.9,368.5L276.8,368.1L271.2,366.0L271.0,365.9L265.7,363.6L264.7,363.2L260.1,361.2L258.6,360.6L254.5,358.8L252.6,357.9L249.0,356.3L246.6,355.2L243.4,353.9L240.4,352.6L237.9,351.5L233.9,349.9L232.3,349.3L226.9,347.3L226.7,347.2L221.2,345.4L218.5,344.6L215.6,343.8L210.1,342.3L208.5,342.0L204.5,341.0L198.9,339.6L197.5,339.3L193.4,338.4L187.8,337.1L185.8,336.6L182.2,335.8L176.7,334.6L174.3,334.0L171.1,333.2L165.6,331.8L163.6,331.3L160.0,330.4L154.4,329.0L153.3,328.7L148.9,327.5L143.3,326.0L143.2,326.0L137.8,324.6L133.4,323.4L132.2,323.0L126.6,321.5L123.7,320.7L121.1,320.0L115.5,318.4L114.1,318.0L110.0,316.9L110.0,318.0L110.0,320.7L110.0,323.4L110.0,326.0L110.0,328.7L110.0,331.3L110.0,334.0L110.0,336.6L110.0,339.3L110.0,342.0L110.0,344.6L110.0,347.3L110.0,349.9L110.0,352.6L110.0,355.2L110.0,357.9L110.0,360.6L110.0,363.2L110.0,365.9L110.0,368.5L110.0,371.2L110.0,373.8L110.0,376.5L115.5,376.5ZM554.9,66.1L554.9,65.6L554.9,63.0L554.9,60.3L554.9,57.6L554.9,55.0L554.9,52.3L554.9,49.7L554.9,47.0L554.9,44.4L554.9,41.7L554.9,39.0L554.9,36.4L554.9,33.7L554.9,31.1L554.9,28.4L554.9,25.8L554.9,23.1L554.9,20.4L554.9,17.8L554.9,15.1L554.9,12.5L554.9,9.8L554.9,7.2L549.3,7.2L543.7,7.2L538.2,7.2L532.6,7.2L527.0,7.2L521.5,7.2L515.9,7.2L510.4,7.2L504.8,7.2L499.2,7.2L493.7,7.2L488.1,7.2L482.6,7.2L477.0,7.2L471.4,7.2L465.9,7.2L460.3,7.2L454.7,7.2L449.2,7.2L443.6,7.2L438.1,7.2L432.5,7.2L426.9,7.2L421.4,7.2L415.8,7.2L410.3,7.2L404.7,7.2L399.1,7.2L393.6,7.2L388.0,7.2L382.5,7.2L376.9,7.2L371.3,7.2L365.8,7.2L360.2,7.2L354.6,7.2L349.1,7.2L343.5,7.2L338.0,7.2L332.4,7.2L326.8,7.2L321.3,7.2L315.7,7.2L310.2,7.2L304.6,7.2L299.0,7.2L293.5,7.2L287.9,7.2L282.3,7.2L280.6,7.2L282.3,7.8L287.5,9.8L287.9,9.9L293.5,12.0L294.6,12.5L299.0,14.1L302.0,15.1L304.6,16.0L309.6,17.8L310.2,18.0L315.7,19.8L317.7,20.4L321.3,21.6L326.1,23.1L326.8,23.3L332.4,24.9L335.4,25.8L338.0,26.4L343.5,27.9L345.7,28.4L349.1,29.3L354.6,30.6L356.5,31.1L360.2,31.9L365.8,33.3L367.8,33.7L371.3,34.5L376.9,35.8L379.3,36.4L382.5,37.1L388.0,38.4L390.6,39.0L393.6,39.7L399.1,41.1L401.8,41.7L404.7,42.4L410.3,43.7L412.9,44.4L415.8,45.0L421.4,46.4L424.2,47.0L426.9,47.7L432.5,49.0L435.7,49.7L438.1,50.2L443.6,51.5L448.3,52.3L449.2,52.5L454.7,53.4L460.3,54.3L464.8,55.0L465.9,55.1L471.4,56.0L477.0,56.8L482.6,57.6L482.6,57.6L488.1,58.4L493.7,59.2L499.2,59.9L502.5,60.3L504.8,60.6L510.4,61.3L515.9,61.9L521.5,62.6L524.9,63.0L527.0,63.2L532.6,63.8L538.2,64.4L543.7,65.0L549.3,65.5L550.0,65.6L554.9,66.1Z"/>
<path fill="#3fbc73" d="M115.5,376.5L121.1,376.5L126.6,376.5L132.2,376.5L137.8,376.5L143.3,376.5L148.9,376.5L154.4,376.5L160.0,376.5L165.6,376.5L171.1,376.5L176.7,376.5L182.2,376.5L187.8,376.5L193.4,376.5L198.9,376.5L204.5,376.5L210.1,376.5L215.6,376.5L221.2,376.5L226.7,376.5L232.3,376.5L237.9,376.5L243.4,376.5L249.0,376.5L254.5,376.5L260.1,376.5L265.7,376.5L271.2,376.5L276.8,376.5L279.9,376.5L276.8,375.4L273.0,373.8L271.2,373.2L266.6,371.2L265.7,370.8L260.5,368.5L260.1,368.4L254.6,365.9L254.5,365.9L249.0,363.3L248.7,363.2L243.4,360.9L242.7,360.6L237.9,358.5L236.5,357.9L232.3,356.2L229.8,355.2L226.7,354.1L222.4,352.6L221.2,352.2L215.6,350.6L213.2,349.9L210.1,349.1L204.5,347.7L202.9,347.3L198.9,346.3L193.4,345.0L191.8,344.6L187.8,343.7L182.2,342.4L180.4,342.0L176.7,341.1L171.1,339.7L169.5,339.3L165.6,338.3L160.0,336.8L159.3,336.6L154.4,335.4L149.4,334.0L148.9,333.9L143.3,332.4L139.6,331.3L137.8,330.8L132.2,329.3L130.0,328.7L126.6,327.7L121.1,326.2L120.5,326.0L115.5,324.6L111.2,323.4L110.0,323.0L110.0,323.4L110.0,326.0L110.0,328.7L110.0,331.3L110.0,334.0L110.0,336.6L110.0,339.3L110.0,342.0L110.0,344.6L110.0,347.3L110.0,349.9L110.0,352.6L110.0,355.2L110.0,357.9L110.0,360.6L110.0,363.2L110.0,365.9L110.0,368.5L110.0,371.2L110.0,373.8L110.0,376.5L115.5,376.5ZM549.3,60.5L554.9,61.1L554.9,60.3L554.9,57.6L554.9,55.0L554.9,52.3L554.9,49.7L554.9,47.0L554.9,44.4L554.9,41.7L554.9,39.0L554.9,36.4L554.9,33.7L554.9,31.1L554.9,28.4L554.9,25.8L554.9,23.1L554.9,20.4L554.9,17.8L554.9,15.1L554.9,12.5L554.9,9.8L554.9,7.2L549.3,7.2L543.7,7.2L538.2,7.2L532.6,7.2L527.0,7.2L521.5,7.2L515.9,7.2L510.4,7.2L504.8,7.2L499.2,7.2L493.7,7.2L488.1,7.2L482.6,7.2L477.0,7.2L471.4,7.2L465.9,7.2L460.3,7.2L454.7,7.2L449.2,7.2L443.6,7.2L438.1,7.2L432.5,7.2L426.9,7.2L421.4,7.2L415.8,7.2L410.3,7.2L404.7,7.2L399.1,7.2L393.6,7.2L388.0,7.2L382.5,7.2L376.9,7.2L371.3,7.2L365.8,7.2L360.2,7.2L354.6,7.2L349.1,7.2L343.5,7.2L338.0,7.2L332.4,7.2L326.8,7.2L321.3,7.2L315.7,7.2L310.2,7.2L304.6,7.2L299.0,7.2L293.5,7.2L292.4,7.2L293.5,7.6L299.0,9.7L299.5,9.8L304.6,11.7L306.8,12.5L310.2,13.7L314.4,15.1L315.7,15.6L321.3,17.4L322.5,17.8L326.8,19.1L331.1,20.4L332.4,20.8L338.0,22.3L341.0,23.1L343.5,23.7L349.1,25.1L351.9,25.8L354.6,26.4L360.2,27.7L363.3,28.4L365.8,29.0L371.3,30.2L375.0,31.1L376.9,31.5L382.5,32.8L386.7,33.7L388.0,34.0L393.6,35.3L398.3,36.4L399.1,36.6L404.7,37.9L409.7,39.0L410.3,39.2L415.8,40.5L421.2,41.7L421.4,41.7L426.9,43.0L432.5,44.2L433.0,44.4L438.1,45.5L443.6,46.7L445.6,47.0L449.2,47.7L454.7,48.6L460.3,49.4L461.9,49.7L465.9,50.3L471.4,51.1L477.0,51.9L479.6,52.3L482.6,52.7L488.1,53.5L493.7,54.3L499.2,55.0L499.4,55.0L504.8,55.6L510.4,56.3L515.9,57.0L521.5,57.6L521.8,57.6L527.0,58.2L532.6,58.8L538.2,59.4L543.7,60.0L546.9,60.3L549.3,60.5Z"/>
<path fill="#48c16e" d="M115.5,376.5L121.1,376.5L126.6,376.5L132.2,376.5L137.8,376.5L143.3,376.5L148.9,376.5L154.4,376.5L160.0,376.5L165.6,376.5L171.1,376.5L176.7,376.5L182.2,376.5L187.8,376.5L193.4,376.5L198.9,376.5L204.5,376.5L210.1,376.5L215.6,376.5L221.2,376.5L226.7,376.5L232.3,376.5L237.9,376.5L243.4,376.5L249.0,376.5L254.5,376.5L260.1,376.5L261.3,376.5L260.1,376.0L255.4,373.8L254.5,373.5L249.5,371.2L249.0,370.9L243.6,368.5L243.4,368.4L237.9,366.0L237.6,365.9L232.3,363.7L231.1,363.2L226.7,361.5L223.9,360.6L221.2,359.6L215.6,357.9L215.4,357.9L210.1,356.4L205.6,355.2L204.5,354.9L198.9,353.5L195.0,352.6L193.4,352.2L187.8,350.8L184.0,349.9L182.2,349.5L176.7,348.1L173.3,347.3L171.1,346.7L165.6,345.3L163.1,344.6L160.0,343.8L154.4,342.2L153.4,342.0L148.9,340.7L143.8,339.3L143.3,339.2L137.8,337.6L134.4,336.6L132.2,336.0L126.6,334.4L125.2,334.0L121.1,332.8L116.0,331.3L115.5,331.2L110.0,329.6L110.0,331.3L110.0,334.0L110.0,336.6L110.0,339.3L110.0,342.0L110.0,344.6L110.0,347.3L110.0,349.9L110.0,352.6L110.0,355.2L110.0,357.9L110.0,360.6L110.0,363.2L110.0,365.9L110.0,368.5L110.0,371.2L110.0,373.8L110.0,376.5L115.5,376.5ZM543.7,55.1L549.3,55.7L554.9,56.2L554.9,55.0L554.9,52.3L554.9,49.7L554.9,47.0L554.9,44.4L554.9,41.7L554.9,39.0L554.9,36.4L554.9,33.7L554.9,31.1L554.9,28.4L554.9,25.8L554.9,23.1L554.9,20.4L554.9,17.8L554.9,15.1L554.9,12.5L554.9,9.8L554.9,7.2L549.3,7.2L543.7,7.2L538.2,7.2L532.6,7.2L527.0,7.2L521.5,7.2L515.9,7.2L510.4,7.2L504.8,7.2L499.2,7.2L493.7,7.2L488.1,7.2L482.6,7.2L477.0,7.2L471.4,7.2L465.9,7.2L460.3,7.2L454.7,7.2L449.2,7.2L443.6,7.2L438.1,7.2L432.5,7.2L426.9,7.2L421.4,7.2L415.8,7.2L410.3,7.2L404.7,7.2L399.1,7.2L393.6,7.2L388.0,7.2L382.5,7.2L376.9,7.2L371.3,7.2L365.8,7.2L360.2,7.2L354.6,7.2L349.1,7.2L343.5,7.2L338.0,7.2L332.4,7.2L326.8,7.2L321.3,7.2L315.7,7.2L310.2,7.2L304.6,7.2L303.9,7.2L304.6,7.4L310.2,9.4L311.2,9.8L315.7,11.4L318.9,12.5L321.3,13.3L326.8,15.1L327.0,15.1L332.4,16.8L336.1,17.8L338.0,18.3L343.5,19.7L346.8,20.4L349.1,21.0L354.6,22.3L358.3,23.1L360.2,23.5L365.8,24.8L370.1,25.8L371.3,26.0L376.9,27.2L382.2,28.4L382.5,28.5L388.0,29.7L393.6,31.0L394.1,31.1L399.1,32.2L404.7,33.5L405.8,33.7L410.3,34.7L415.8,36.0L417.6,36.4L421.4,37.2L426.9,38.4L429.7,39.0L432.5,39.7L438.1,40.8L442.2,41.7L443.6,42.0L449.2,43.0L454.7,43.9L457.9,44.4L460.3,44.7L465.9,45.6L471.4,46.4L475.6,47.0L477.0,47.2L482.6,48.0L488.1,48.8L493.7,49.5L495.0,49.7L499.2,50.2L504.8,50.9L510.4,51.5L515.9,52.2L517.3,52.3L521.5,52.8L527.0,53.4L532.6,54.0L538.2,54.6L542.3,55.0L543.7,55.1Z"/>
<path fill="#52c569" d="M115.5,376.5L121.1,376.5L126.6,376.5L132.2,376.5L137.8,376.5L143.3,376.5L148.9,376.5L154.4,376.5L160.0,376.5L165.6,376.5L171.1,376.5L176.7,376.5L182.2,376.5L187.8,376.5L193.4,376.5L198.9,376.5L204.5,376.5L210.1,376.5L215.6,376.5L221.2,376.5L226.7,376.5L232.3,376.5L237.9,376.5L243.3,376.5L237.9,374.1L237.1,373.8L232.3,371.8L230.6,371.2L226.7,369.7L223.4,368.5L221.2,367.8L215.6,366.1L214.8,365.9L210.1,364.5L205.2,363.2L204.5,363.0L198.9,361.6L194.8,360.6L193.4,360.2L187.8,358.8L184.1,357.9L182.2,357.4L176.7,356.0L173.7,355.2L171.1,354.6L165.6,353.1L163.9,352.6L160.0,351.5L154.5,349.9L154.4,349.9L148.9,348.3L145.2,347.3L143.3,346.7L137.8,345.1L136.1,344.6L132.2,343.5L127.1,342.0L126.6,341.8L121.1,340.2L118.2,339.3L115.5,338.5L110.0,336.8L110.0,339.3L110.0,342.0L110.0,344.6L110.0,347.3L110.0,349.9L110.0,352.6L110.0,355.2L110.0,357.9L110.0,360.6L110.0,363.2L110.0,365.9L110.0,368.5L110.0,371.2L110.0,373.8L110.0,376.5L115.5,376.5ZM538.2,49.9L543.7,50.5L549.3,51.0L554.9,51.5L554.9,49.7L554.9,47.0L554.9,44.4L554.9,41.7L554.9,39.0L554.9,36.4L554.9,33.7L554.9,31.1L554.9,28.4L554.9,25.8L554.9,23.1L554.9,20.4L554.9,17.8L554.9,15.1L554.9,12.5L554.9,9.8L554.9,7.2L549.3,7.2L543.7,7.2L538.2,7.2L532.6,7.2L527.0,7.2L521.5,7.2L515.9,7.2L510.4,7.2L504.8,7.2L499.2,7.2L493.7,7.2L488.1,7.2L482.6,7.2L477.0,7.2L471.4,7.2L465.9,7.2L460.3,7.2L454.7,7.2L449.2,7.2L443.6,7.2L438.1,7.2L432.5,7.2L426.9,7.2L421.4,7.2L415.8,7.2L410.3,7.2L404.7,7.2L399.1,7.2L393.6,7.2L388.0,7.2L382.5,7.2L376.9,7.2L371.3,7.2L365.8,7.2L360.2,7.2L354.6,7.2L349.1,7.2L343.5,7.2L338.0,7.2L332.4,7.2L326.8,7.2L321.3,7.2L315.7,7.2L315.4,7.2L315.7,7.3L321.3,9.2L323.1,9.8L326.8,11.1L331.2,12.5L332.4,12.8L338.0,14.3L341.3,15.1L343.5,15.7L349.1,17.0L352.7,17.8L354.6,18.2L360.2,19.5L364.6,20.4L365.8,20.7L371.3,21.9L376.9,23.1L376.9,23.1L382.5,24.3L388.0,25.5L389.2,25.8L393.6,26.7L399.1,27.9L401.3,28.4L404.7,29.2L410.3,30.4L413.4,31.1L415.8,31.6L421.4,32.8L425.7,33.7L426.9,34.0L432.5,35.2L438.1,36.3L438.4,36.4L443.6,37.4L449.2,38.4L453.1,39.0L454.7,39.3L460.3,40.2L465.9,41.0L470.5,41.7L471.4,41.8L477.0,42.6L482.6,43.4L488.1,44.2L489.4,44.4L493.7,44.9L499.2,45.6L504.8,46.3L510.4,46.9L511.2,47.0L515.9,47.6L521.5,48.2L527.0,48.8L532.6,49.4L535.6,49.7L538.2,49.9Z"/>
<path fill="#5cc863" d="M115.5,376.5L121.1,376.5L126.6,376.5L132.2,376.5L137.8,376.5L143.3,376.5L148.9,376.5L154.4,376.5L160.0,376.5L165.6,376.5L171.1,376.5L176.7,376.5L182.2,376.5L187.8,376.5L193.4,376.5L198.9,376.5L204.5,376.5L210.1,376.5L215.6,376.5L221.2,376.5L221.3,376.5L221.2,376.5L215.6,374.8L212.3,373.8L210.1,373.2L204.5,371.7L202.6,371.2L198.9,370.2L193.4,368.8L192.2,368.5L187.8,367.4L182.2,366.0L181.6,365.9L176.7,364.6L171.3,363.2L171.1,363.2L165.6,361.6L161.8,360.6L160.0,360.1L154.4,358.5L152.5,357.9L148.9,356.9L143.4,355.2L143.3,355.2L137.8,353.6L134.4,352.6L132.2,351.9L126.6,350.2L125.6,349.9L121.1,348.5L116.9,347.3L115.5,346.8L110.0,345.1L110.0,347.3L110.0,349.9L110.0,352.6L110.0,355.2L110.0,357.9L110.0,360.6L110.0,363.2L110.0,365.9L110.0,368.5L110.0,371.2L110.0,373.8L110.0,376.5L115.5,376.5ZM532.6,44.8L538.2,45.4L543.7,45.9L549.3,46.5L554.9,46.9L554.9,44.4L554.9,41.7L554.9,39.0L554.9,36.4L554.9,33.7L554.9,31.1L554.9,28.4L554.9,25.8L554.9,23.1L554.9,20.4L554.9,17.8L554.9,15.1L554.9,12.5L554.9,9.8L554.9,7.2L549.3,7.2L543.7,7.2L538.2,7.2L532.6,7.2L527.0,7.2L521.5,7.2L515.9,7.2L510.4,7.2L504.8,7.2L499.2,7.2L493.7,7.2L488.1,7.2L482.6,7.2L477.0,7.2L471.4,7.2L465.9,7.2L460.3,7.2L454.7,7.2L449.2,7.2L443.6,7.2L438.1,7.2L432.5,7.2L426.9,7.2L421.4,7.2L415.8,7.2L410.3,7.2L404.7,7.2L399.1,7.2L393.6,7.2L388.0,7.2L382.5,7.2L376.9,7.2L371.3,7.2L365.8,7.2L360.2,7.2L354.6,7.2L349.1,7.2L343.5,7.2L338.0,7.2L332.4,7.2L327.0,7.2L332.4,8.9L335.6,9.8L338.0,10.4L343.5,11.7L346.6,12.5L349.1,13.0L354.6,14.3L358.5,15.1L360.2,15.5L365.8,16.7L371.0,17.8L371.3,17.9L376.9,19.0L382.5,20.2L383.6,20.4L388.0,21.4L393.6,22.6L396.1,23.1L399.1,23.7L404.7,24.9L408.5,25.8L410.3,26.1L415.8,27.3L421.0,28.4L421.4,28.5L426.9,29.7L432.5,30.8L433.9,31.1L438.1,31.9L443.6,33.0L447.9,33.7L449.2,34.0L454.7,34.8L460.3,35.7L465.0,36.4L465.9,36.5L471.4,37.3L477.0,38.1L482.6,38.9L483.5,39.0L488.1,39.7L493.7,40.4L499.2,41.1L504.5,41.7L504.8,41.7L510.4,42.4L515.9,43.0L521.5,43.6L527.0,44.2L528.2,44.4L532.6,44.8Z"/>
<path fill="#69cd5b" d="M115.5,376.5L121.1,376.5L126.6,376.5L132.2,376.5L137.8,376.5L143.3,376.5L148.9,376.5L154.4,376.5L160.0,376.5L165.6,376.5L171.1,376.5L176.7,376.5L182.2,376.5L186.9,376.5L182.2,375.3L176.7,373.9L176.5,373.8L171.1,372.4L166.8,371.2L165.6,370.9L160.0,369.3L157.5,368.5L154.4,367.6L148.9,366.0L148.4,365.9L143.3,364.4L139.5,363.2L137.8,362.7L132.2,361.0L130.7,360.6L126.6,359.3L122.0,357.9L121.1,357.6L115.5,355.9L113.5,355.2L110.0,354.1L110.0,355.2L110.0,357.9L110.0,360.6L110.0,363.2L110.0,365.9L110.0,368.5L110.0,371.2L110.0,373.8L110.0,376.5L115.5,376.5ZM549.3,42.0L554.9,42.5L554.9,41.7L554.9,39.0L554.9,36.4L554.9,33.7L554.9,31.1L554.9,28.4L554.9,25.8L554.9,23.1L554.9,20.4L554.9,17.8L554.9,15.1L554.9,12.5L554.9,9.8L554.9,7.2L549.3,7.2L543.7,7.2L538.2,7.2L532.6,7.2L527.0,7.2L521.5,7.2L515.9,7.2L510.4,7.2L504.8,7.2L499.2,7.2L493.7,7.2L488.1,7.2L482.6,7.2L477.0,7.2L471.4,7.2L465.9,7.2L460.3,7.2L454.7,7.2L449.2,7.2L443.6,7.2L438.1,7.2L432.5,7.2L426.9,7.2L421.4,7.2L415.8,7.2L410.3,7.2L404.7,7.2L399.1,7.2L393.6,7.2L388.0,7.2L382.5,7.2L376.9,7.2L371.3,7.2L365.8,7.2L360.2,7.2L354.6,7.2L349.1,7.2L343.5,7.2L340.4,7.2L343.5,7.9L349.1,9.2L352.1,9.8L354.6,10.4L360.2,11.6L364.4,12.5L365.8,12.7L371.3,13.9L376.9,15.1L377.2,15.1L382.5,16.2L388.0,17.4L390.1,17.8L393.6,18.5L399.1,19.7L402.7,20.4L404.7,20.9L410.3,22.0L415.5,23.1L415.8,23.2L421.4,24.3L426.9,25.4L428.5,25.8L432.5,26.6L438.1,27.6L442.2,28.4L443.6,28.7L449.2,29.6L454.7,30.5L458.6,31.1L460.3,31.3L465.9,32.2L471.4,33.0L476.7,33.7L477.0,33.8L482.6,34.5L488.1,35.3L493.7,36.0L496.9,36.4L499.2,36.7L504.8,37.3L510.4,38.0L515.9,38.6L520.0,39.0L521.5,39.2L527.0,39.8L532.6,40.4L538.2,40.9L543.7,41.5L546.3,41.7L549.3,42.0Z"/>
<path fill="#75d054" d="M115.5,376.5L121.1,376.5L126.6,376.5L132.2,376.5L137.8,376.5L143.3,376.5L148.9,376.5L149.9,376.5L148.9,376.2L143.3,374.5L141.2,373.8L137.8,372.8L132.5,371.2L132.2,371.1L126.6,369.4L124.0,368.5L121.1,367.6L115.6,365.9L115.5,365.8L110.0,364.1L110.0,365.9L110.0,368.5L110.0,371.2L110.0,373.8L110.0,376.5L115.5,376.5ZM538.2,36.7L543.7,37.2L549.3,37.7L554.9,38.2L554.9,36.4L554.9,33.7L554.9,31.1L554.9,28.4L554.9,25.8L554.9,23.1L554.9,20.4L554.9,17.8L554.9,15.1L554.9,12.5L554.9,9.8L554.9,7.2L549.3,7.2L543.7,7.2L538.2,7.2L532.6,7.2L527.0,7.2L521.5,7.2L515.9,7.2L510.4,7.2L504.8,7.2L499.2,7.2L493.7,7.2L488.1,7.2L482.6,7.2L477.0,7.2L471.4,7.2L465.9,7.2L460.3,7.2L454.7,7.2L449.2,7.2L443.6,7.2L438.1,7.2L432.5,7.2L426.9,7.2L421.4,7.2L415.8,7.2L410.3,7.2L404.7,7.2L399.1,7.2L393.6,7.2L388.0,7.2L382.5,7.2L376.9,7.2L371.3,7.2L365.8,7.2L360.2,7.2L357.5,7.2L360.2,7.7L365.8,8.9L370.2,9.8L371.3,10.0L376.9,11.2L382.5,12.3L383.2,12.5L388.0,13.4L393.6,14.6L396.2,15.1L399.1,15.7L404.7,16.9L409.1,17.8L410.3,18.0L415.8,19.2L421.4,20.3L422.2,20.4L426.9,21.4L432.5,22.5L435.8,23.1L438.1,23.5L443.6,24.5L449.2,25.5L451.1,25.8L454.7,26.3L460.3,27.2L465.9,28.0L468.7,28.4L471.4,28.8L477.0,29.6L482.6,30.4L488.0,31.1L488.1,31.1L493.7,31.8L499.2,32.5L504.8,33.1L510.2,33.7L510.4,33.7L515.9,34.4L521.5,35.0L527.0,35.6L532.6,36.1L535.4,36.4L538.2,36.7Z"/>
<path fill="#81d34d" d="M110.0,375.7L110.0,376.5L112.4,376.5L110.0,375.7ZM554.9,34.1L554.9,33.7L554.9,31.1L554.9,28.4L554.9,25.8L554.9,23.1L554.9,20.4L554.9,17.8L554.9,15.1L554.9,12.5L554.9,9.8L554.9,7.2L549.3,7.2L543.7,7.2L538.2,7.2L532.6,7.2L527.0,7.2L521.5,7.2L515.9,7.2L510.4,7.2L504.8,7.2L499.2,7.2L493.7,7.2L488.1,7.2L482.6,7.2L477.0,7.2L471.4,7.2L465.9,7.2L460.3,7.2L454.7,7.2L449.2,7.2L443.6,7.2L438.1,7.2L432.5,7.2L426.9,7.2L421.4,7.2L415.8,7.2L410.3,7.2L404.7,7.2L399.1,7.2L393.6,7.2L388.0,7.2L382.5,7.2L376.9,7.2L375.7,7.2L376.9,7.4L382.5,8.5L388.0,9.6L388.8,9.8L393.6,10.8L399.1,11.9L401.9,12.5L404.7,13.0L410.3,14.2L415.0,15.1L415.8,15.3L421.4,16.4L426.9,17.5L428.5,17.8L432.5,18.5L438.1,19.6L442.9,20.4L443.6,20.6L449.2,21.5L454.7,22.4L459.6,23.1L460.3,23.2L465.9,24.0L471.4,24.9L477.0,25.6L477.9,25.8L482.6,26.4L488.1,27.1L493.7,27.8L498.4,28.4L499.2,28.5L504.8,29.2L510.4,29.8L515.9,30.4L521.5,31.0L522.4,31.1L527.0,31.6L532.6,32.1L538.2,32.7L543.7,33.2L549.3,33.7L549.9,33.7L554.9,34.1Z"/>
<path fill="#8ed645" d="M538.2,29.0L543.7,29.5L549.3,30.0L554.9,30.4L554.9,28.4L554.9,25.8L554.9,23.1L554.9,20.4L554.9,17.8L554.9,15.1L554.9,12.5L554.9,9.8L554.9,7.2L549.3,7.2L543.7,7.2L538.2,7.2L532.6,7.2L527.0,7.2L521.5,7.2L515.9,7.2L510.4,7.2L504.8,7.2L499.2,7.2L493.7,7.2L488.1,7.2L482.6,7.2L477.0,7.2L471.4,7.2L465.9,7.2L460.3,7.2L454.7,7.2L449.2,7.2L443.6,7.2L438.1,7.2L432.5,7.2L426.9,7.2L421.4,7.2L415.8,7.2L410.3,7.2L404.7,7.2L399.1,7.2L394.0,7.2L399.1,8.2L404.7,9.3L407.1,9.8L410.3,10.5L415.8,11.6L420.4,12.5L421.4,12.7L426.9,13.7L432.5,14.8L434.4,15.1L438.1,15.8L443.6,16.8L449.2,17.7L449.7,17.8L454.7,18.6L460.3,19.4L465.9,20.3L466.9,20.4L471.4,21.1L477.0,21.9L482.6,22.7L485.7,23.1L488.1,23.4L493.7,24.1L499.2,24.8L504.8,25.4L507.5,25.8L510.4,26.1L515.9,26.7L521.5,27.3L527.0,27.9L532.6,28.4L532.6,28.4L538.2,29.0Z"/>
<path fill="#9bd93c" d="M543.7,26.1L549.3,26.6L554.9,27.0L554.9,25.8L554.9,23.1L554.9,20.4L554.9,17.8L554.9,15.1L554.9,12.5L554.9,9.8L554.9,7.2L549.3,7.2L543.7,7.2L538.2,7.2L532.6,7.2L527.0,7.2L521.5,7.2L515.9,7.2L510.4,7.2L504.8,7.2L499.2,7.2L493.7,7.2L488.1,7.2L482.6,7.2L477.0,7.2L471.4,7.2L465.9,7.2L460.3,7.2L454.7,7.2L449.2,7.2L443.6,7.2L438.1,7.2L432.5,7.2L426.9,7.2L421.4,7.2L415.8,7.2L411.8,7.2L415.8,8.0L421.4,9.0L425.4,9.8L426.9,10.1L432.5,11.2L438.1,12.2L439.8,12.5L443.6,13.1L449.2,14.1L454.7,15.0L455.7,15.1L460.3,15.9L465.9,16.7L471.4,17.6L472.9,17.8L477.0,18.4L482.6,19.2L488.1,19.9L492.0,20.4L493.7,20.7L499.2,21.3L504.8,22.0L510.4,22.6L514.6,23.1L515.9,23.2L521.5,23.9L527.0,24.4L532.6,25.0L538.2,25.5L540.6,25.8L543.7,26.1Z"/>
<path fill="#a8db34" d="M549.3,23.4L554.9,23.9L554.9,23.1L554.9,20.4L554.9,17.8L554.9,15.1L554.9,12.5L554.9,9.8L554.9,7.2L549.3,7.2L543.7,7.2L538.2,7.2L532.6,7.2L527.0,7.2L521.5,7.2L515.9,7.2L510.4,7.2L504.8,7.2L499.2,7.2L493.7,7.2L488.1,7.2L482.6,7.2L477.0,7.2L471.4,7.2L465.9,7.2L460.3,7.2L454.7,7.2L449.2,7.2L443.6,7.2L438.1,7.2L432.5,7.2L429.8,7.2L432.5,7.7L438.1,8.7L443.6,9.6L444.6,9.8L449.2,10.6L454.7,11.5L460.3,12.4L460.5,12.5L465.9,13.3L471.4,14.2L477.0,15.0L477.6,15.1L482.6,15.9L488.1,16.6L493.7,17.4L496.9,17.8L499.2,18.1L504.8,18.8L510.4,19.4L515.9,20.0L519.6,20.4L521.5,20.6L527.0,21.2L532.6,21.8L538.2,22.4L543.7,22.9L546.1,23.1L549.3,23.4Z"/>
<path fill="#b5de2b" d="M554.9,20.9L554.9,20.4L554.9,17.8L554.9,15.1L554.9,12.5L554.9,9.8L554.9,7.2L549.3,7.2L543.7,7.2L538.2,7.2L532.6,7.2L527.0,7.2L521.5,7.2L515.9,7.2L510.4,7.2L504.8,7.2L499.2,7.2L493.7,7.2L488.1,7.2L482.6,7.2L477.0,7.2L471.4,7.2L465.9,7.2L460.3,7.2L454.7,7.2L449.2,7.2L448.8,7.2L449.2,7.2L454.7,8.2L460.3,9.1L464.3,9.8L465.9,10.1L471.4,11.0L477.0,11.8L481.2,12.5L482.6,12.7L488.1,13.5L493.7,14.2L499.2,15.0L500.5,15.1L504.8,15.7L510.4,16.3L515.9,17.0L521.5,17.6L523.0,17.8L527.0,18.2L532.6,18.8L538.2,19.4L543.7,19.9L549.3,20.4L549.3,20.4L554.9,20.9Z"/>
<path fill="#c2df23" d="M554.9,18.1L554.9,17.8L554.9,15.1L554.9,12.5L554.9,9.8L554.9,7.2L549.3,7.2L543.7,7.2L538.2,7.2L532.6,7.2L527.0,7.2L521.5,7.2L515.9,7.2L510.4,7.2L504.8,7.2L499.2,7.2L493.7,7.2L488.1,7.2L482.6,7.2L477.0,7.2L471.4,7.2L467.3,7.2L471.4,7.8L477.0,8.7L482.6,9.6L483.9,9.8L488.1,10.4L493.7,11.2L499.2,12.0L503.0,12.5L504.8,12.7L510.4,13.4L515.9,14.1L521.5,14.7L524.9,15.1L527.0,15.4L532.6,16.0L538.2,16.6L543.7,17.1L549.3,17.6L550.8,17.8L554.9,18.1Z"/>
<path fill="#d2e21b" d="M554.9,15.5L554.9,15.1L554.9,12.5L554.9,9.8L554.9,7.2L549.3,7.2L543.7,7.2L538.2,7.2L532.6,7.2L527.0,7.2L521.5,7.2L515.9,7.2L510.4,7.2L504.8,7.2L499.2,7.2L493.7,7.2L488.1,7.2L485.8,7.2L488.1,7.5L493.7,8.3L499.2,9.1L504.4,9.8L504.8,9.9L510.4,10.6L515.9,11.3L521.5,12.0L525.8,12.5L527.0,12.6L532.6,13.3L538.2,13.9L543.7,14.4L549.3,15.0L550.9,15.1L554.9,15.5Z"/>
<path fill="#dfe318" d="M554.9,13.0L554.9,12.5L554.9,9.8L554.9,7.2L549.3,7.2L543.7,7.2L538.2,7.2L532.6,7.2L527.0,7.2L521.5,7.2L515.9,7.2L510.4,7.2L505.2,7.2L510.4,7.9L515.9,8.6L521.5,9.3L525.8,9.8L527.0,10.0L532.6,10.6L538.2,11.3L543.7,11.8L549.3,12.4L549.8,12.5L554.9,13.0Z"/>
<path fill="#ece51b" d="M549.3,9.9L554.9,10.5L554.9,9.8L554.9,7.2L549.3,7.2L543.7,7.2L538.2,7.2L532.6,7.2L527.0,7.2L525.1,7.2L527.0,7.4L532.6,8.1L538.2,8.7L543.7,9.3L548.1,9.8L549.3,9.9Z"/>
<path fill="#f8e621" d="M549.3,7.5L554.9,8.1L554.9,7.2L549.3,7.2L545.8,7.2L549.3,7.5Z"/>
<line x1="502.2" y1="373.0" x2="502.2" y2="5.0" stroke="#ff0000" stroke-width="5.30" stroke-dasharray="19.40 8.45"/>
</g>
<rect x="110.0" y="7.2" width="444.9" height="369.4" fill="none" stroke="#000" stroke-width="2.10"/>
<path d="M110.0,376.5v8.9M221.9,376.5v8.9M333.9,376.5v8.9M445.9,376.5v8.9M110.0,340.1h-8.9M110.0,230.3h-8.9M110.0,120.5h-8.9M110.0,10.8h-8.9M614.2,376.6h8.9M614.2,338.7h8.9M614.2,300.7h8.9M614.2,262.8h8.9M614.2,224.9h8.9M614.2,186.9h8.9M614.2,149.0h8.9M614.2,111.1h8.9M614.2,73.1h8.9M614.2,35.2h8.9" stroke="#000" stroke-width="2.10" fill="none"/>
<rect x="567.7" y="368.91" width="46.5" height="7.99" fill="#450457"/>
<rect x="567.7" y="361.52" width="46.5" height="7.99" fill="#460b5e"/>
<rect x="567.7" y="354.14" width="46.5" height="7.99" fill="#471365"/>
<rect x="567.7" y="346.75" width="46.5" height="7.99" fill="#481a6c"/>
<rect x="567.7" y="339.36" width="46.5" height="7.99" fill="#482173"/>
<rect x="567.7" y="331.97" width="46.5" height="7.99" fill="#482878"/>
<rect x="567.7" y="324.58" width="46.5" height="7.99" fill="#472e7c"/>
<rect x="567.7" y="317.20" width="46.5" height="7.99" fill="#463480"/>
<rect x="567.7" y="309.81" width="46.5" height="7.99" fill="#443a83"/>
<rect x="567.7" y="302.42" width="46.5" height="7.99" fill="#424086"/>
<rect x="567.7" y="295.03" width="46.5" height="7.99" fill="#404688"/>
<rect x="567.7" y="287.64" width="46.5" height="7.99" fill="#3e4c8a"/>
<rect x="567.7" y="280.26" width="46.5" height="7.99" fill="#3b518b"/>
<rect x="567.7" y="272.87" width="46.5" height="7.99" fill="#38588c"/>
<rect x="567.7" y="265.48" width="46.5" height="7.99" fill="#365d8d"/>
<rect x="567.7" y="258.09" width="46.5" height="7.99" fill="#33628d"/>
<rect x="567.7" y="250.70" width="46.5" height="7.99" fill="#31678e"/>
<rect x="567.7" y="243.32" width="46.5" height="7.99" fill="#2f6c8e"/>
<rect x="567.7" y="235.93" width="46.5" height="7.99" fill="#2d718e"/>
<rect x="567.7" y="228.54" width="46.5" height="7.99" fill="#2b758e"/>
<rect x="567.7" y="221.15" width="46.5" height="7.99" fill="#297a8e"/>
<rect x="567.7" y="213.76" width="46.5" height="7.99" fill="#27808e"/>
<rect x="567.7" y="206.38" width="46.5" height="7.99" fill="#25848e"/>
<rect x="567.7" y="198.99" width="46.5" height="7.99" fill="#23898e"/>
<rect x="567.7" y="191.60" width="46.5" height="7.99" fill="#218e8d"/>
<rect x="567.7" y="184.21" width="46.5" height="7.99" fill="#20928c"/>
<rect x="567.7" y="176.82" width="46.5" height="7.99" fill="#1f978b"/>
<rect x="567.7" y="169.44" width="46.5" height="7.99" fill="#1e9c89"/>
<rect x="567.7" y="162.05" width="46.5" height="7.99" fill="#1fa188"/>
<rect x="567.7" y="154.66" width="46.5" height="7.99" fill="#21a685"/>
<rect x="567.7" y="147.27" width="46.5" height="7.99" fill="#25ab82"/>
<rect x="567.7" y="139.88" width="46.5" height="7.99" fill="#29af7f"/>
<rect x="567.7" y="132.50" width="46.5" height="7.99" fill="#2fb47c"/>
<rect x="567.7" y="125.11" width="46.5" height="7.99" fill="#37b878"/>
<rect x="567.7" y="117.72" width="46.5" height="7.99" fill="#3fbc73"/>
<rect x="567.7" y="110.33" width="46.5" height="7.99" fill="#48c16e"/>
<rect x="567.7" y="102.94" width="46.5" height="7.99" fill="#52c569"/>
<rect x="567.7" y="95.56" width="46.5" height="7.99" fill="#5cc863"/>
<rect x="567.7" y="88.17" width="46.5" height="7.99" fill="#69cd5b"/>
<rect x="567.7" y="80.78" width="46.5" height="7.99" fill="#75d054"/>
<rect x="567.7" y="73.39" width="46.5" height="7.99" fill="#81d34d"/>
<rect x="567.7" y="66.00" width="46.5" height="7.99" fill="#8ed645"/>
<rect x="567.7" y="58.62" width="46.5" height="7.99" fill="#9bd93c"/>
<rect x="567.7" y="51.23" width="46.5" height="7.99" fill="#a8db34"/>
<rect x="567.7" y="43.84" width="46.5" height="7.99" fill="#b5de2b"/>
<rect x="567.7" y="36.45" width="46.5" height="7.99" fill="#c2df23"/>
<rect x="567.7" y="29.06" width="46.5" height="7.99" fill="#d2e21b"/>
<rect x="567.7" y="21.68" width="46.5" height="7.99" fill="#dfe318"/>
<rect x="567.7" y="14.29" width="46.5" height="7.99" fill="#ece51b"/>
<rect x="567.7" y="6.90" width="46.5" height="7.99" fill="#f8e621"/>
<rect x="567.7" y="7.2" width="46.5" height="369.4" fill="none" stroke="#000" stroke-width="2.10"/>
<g font-family="'Liberation Sans', Arial, Helvetica, sans-serif" font-size="32.00" fill="#000" stroke="#000" stroke-width="0.30">
<text transform="translate(111.0,417.3) scale(1,1.042)" text-anchor="middle">0</text>
<text transform="translate(222.9,417.3) scale(1,1.042)" text-anchor="middle">20</text>
<text transform="translate(334.9,417.3) scale(1,1.042)" text-anchor="middle">40</text>
<text transform="translate(446.9,417.3) scale(1,1.042)" text-anchor="middle">60</text>
<text transform="translate(92.9,351.3) scale(1,1.042)" text-anchor="end">200</text>
<text transform="translate(92.9,241.6) scale(1,1.042)" text-anchor="end">220</text>
<text transform="translate(92.9,131.8) scale(1,1.042)" text-anchor="end">240</text>
<text transform="translate(92.9,22.9) scale(1,1.042)" text-anchor="end">260</text>
<text transform="translate(632.0,388.5) scale(1,1.042)">0</text>
<text transform="translate(632.0,350.6) scale(1,1.042)">6</text>
<text transform="translate(632.0,312.6) scale(1,1.042)">12</text>
<text transform="translate(632.0,274.7) scale(1,1.042)">18</text>
<text transform="translate(632.0,236.8) scale(1,1.042)">24</text>
<text transform="translate(632.0,198.8) scale(1,1.042)">30</text>
<text transform="translate(632.0,160.9) scale(1,1.042)">36</text>
<text transform="translate(632.0,123.0) scale(1,1.042)">42</text>
<text transform="translate(632.0,85.0) scale(1,1.042)">48</text>
<text transform="translate(632.0,47.1) scale(1,1.042)">54</text>
<text x="144.3" y="461.8" font-size="32.00" textLength="279.3" lengthAdjust="spacingAndGlyphs">Pump intensity (GW</text>
<text x="428.2" y="461.8" font-size="32.00" font-family="'DejaVu Sans', Verdana, sans-serif">cm</text>
<text x="477.0" y="449.8" font-size="21.76" font-family="'DejaVu Sans', Verdana, sans-serif">−2</text>
<text x="511.8" y="461.8" font-size="32.00">)</text>
<text transform="translate(22.8,191.2) rotate(-90)" font-size="32.00" text-anchor="middle" textLength="318.9" lengthAdjust="spacingAndGlyphs">Probe frequency (THz)</text>
<text transform="translate(602.5,191.4) rotate(-90)" font-size="32.00" text-anchor="middle" fill="#fff" stroke="#fff">Reflection (%)</text>
</g>
</svg>
</body></html>
